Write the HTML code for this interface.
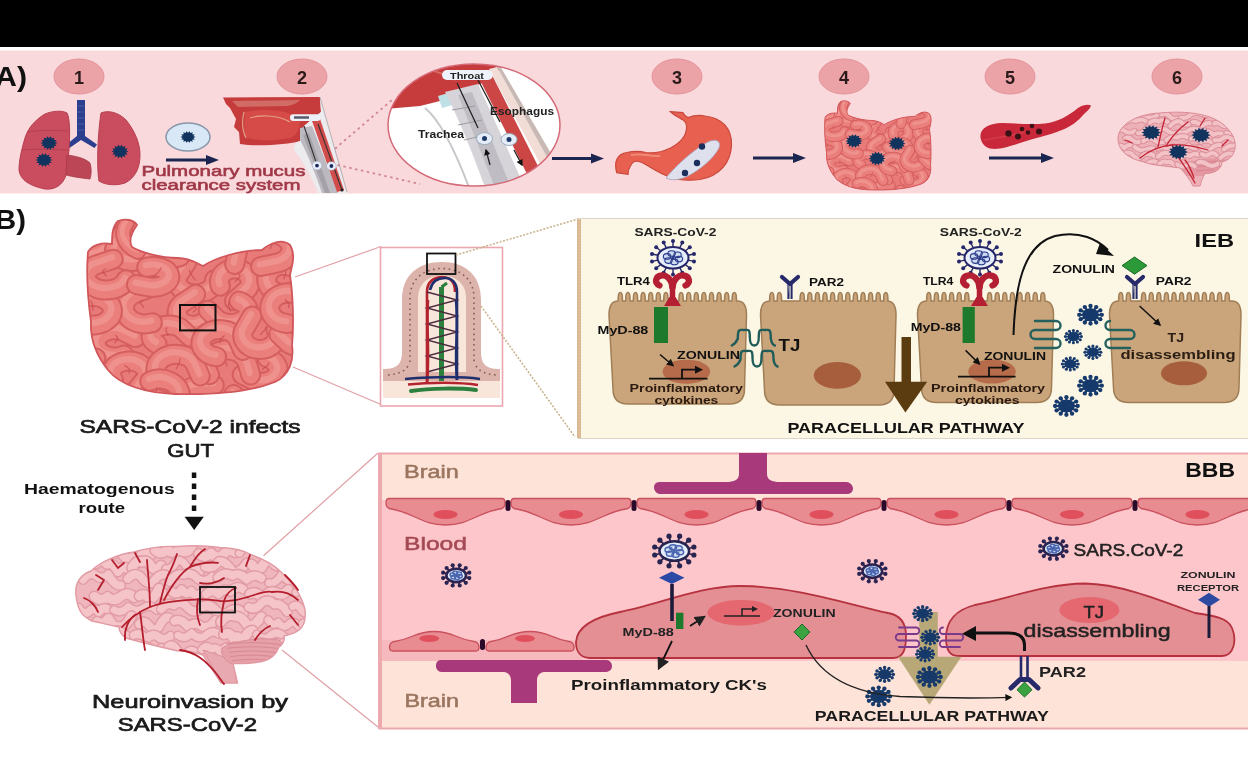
<!DOCTYPE html><html><head><meta charset="utf-8"><title>SARS-CoV-2 gut-brain</title><style>html,body{margin:0;padding:0;background:#fff;width:1248px;height:770px;overflow:hidden;}svg{display:block;font-family:"Liberation Sans",sans-serif;filter:blur(0.4px);}</style></head><body><svg width="1248" height="770" viewBox="0 0 1248 770" font-family="Liberation Sans, sans-serif">
<defs><marker id="ah" viewBox="0 0 10 10" refX="8" refY="5" markerWidth="5" markerHeight="5" orient="auto-start-reverse"><path d="M0,0 L10,5 L0,10 z" fill="#111"/></marker><marker id="ahs" viewBox="0 0 10 10" refX="8" refY="5" markerWidth="7" markerHeight="7" orient="auto-start-reverse"><path d="M0,0 L10,5 L0,10 z" fill="#222"/></marker></defs>
<rect width="1248" height="770" fill="#ffffff"/>
<rect x="0" y="0" width="1248" height="47" fill="#000"/>
<rect x="0" y="50.5" width="1248" height="143" fill="#f9d9dc"/>
<text x="-5" y="86" font-size="28" font-weight="bold" fill="#111" text-anchor="start" textLength="32" lengthAdjust="spacingAndGlyphs" >A)</text>
<ellipse cx="79" cy="76.5" rx="25" ry="17.5" fill="#eca3a8" stroke="#e3959b" stroke-width="1"/>
<text x="79" y="83.5" font-size="18" font-weight="bold" fill="#2a1a1a" text-anchor="middle" >1</text>
<ellipse cx="302" cy="76.5" rx="25" ry="17.5" fill="#eca3a8" stroke="#e3959b" stroke-width="1"/>
<text x="302" y="83.5" font-size="18" font-weight="bold" fill="#2a1a1a" text-anchor="middle" >2</text>
<ellipse cx="677" cy="76.5" rx="25" ry="17.5" fill="#eca3a8" stroke="#e3959b" stroke-width="1"/>
<text x="677" y="83.5" font-size="18" font-weight="bold" fill="#2a1a1a" text-anchor="middle" >3</text>
<ellipse cx="844" cy="76.5" rx="25" ry="17.5" fill="#eca3a8" stroke="#e3959b" stroke-width="1"/>
<text x="844" y="83.5" font-size="18" font-weight="bold" fill="#2a1a1a" text-anchor="middle" >4</text>
<ellipse cx="1010" cy="76.5" rx="25" ry="17.5" fill="#eca3a8" stroke="#e3959b" stroke-width="1"/>
<text x="1010" y="83.5" font-size="18" font-weight="bold" fill="#2a1a1a" text-anchor="middle" >5</text>
<ellipse cx="1177" cy="76.5" rx="25" ry="17.5" fill="#eca3a8" stroke="#e3959b" stroke-width="1"/>
<text x="1177" y="83.5" font-size="18" font-weight="bold" fill="#2a1a1a" text-anchor="middle" >6</text>
<path d="M77,100 L85,100 L85,136 L97,144.5 L94.5,148 L81,140 L69.5,148 L66.5,144.5 L77,136 Z" fill="#2c3f8e"/>
<path d="M67,113 C62,110 52,111 45,114 C35,120 28,128 25,138 C22,148 19,160 19,170 C20,180 30,186 45,189 C55,190 63,185 66,175 L69,150 C70,135 70,118 67,113 Z" fill="#c94d5e" stroke="#b63f50" stroke-width="1"/>
<path d="M67,155 C75,156 85,158 90,163 C92,170 91,176 90,179 C82,178 73,177 66,175 Z" fill="#bd4656" stroke="#a83848" stroke-width="0.8"/>
<path d="M101,113 C108,110 118,112 126,120 C134,130 140,142 140,155 C140,168 135,178 125,183 C116,186 105,185 99,181 C97,170 97,140 101,113 Z" fill="#c94d5e" stroke="#b63f50" stroke-width="1"/>
<path d="M22,150 C35,149 50,149 68,150 M27,132 C40,130 55,130 68,131" stroke="#b4404f" stroke-width="1" fill="none"/>
<path d="M78,106 L84,106 M78,112 L84,112 M78,118 L84,118 M78,124 L84,124 M78,130 L84,130" stroke="#4a5eaa" stroke-width="1"/>
<polygon points="57.5,143.0 55.0,144.1 56.7,146.0 53.8,146.1 54.3,148.5 51.7,147.5 50.9,149.8 49.0,148.0 47.1,149.8 46.3,147.5 43.7,148.5 44.2,146.1 41.3,146.0 43.0,144.1 40.5,143.0 43.0,141.9 41.3,140.0 44.2,139.9 43.7,137.5 46.3,138.5 47.1,136.2 49.0,138.0 50.9,136.2 51.7,138.5 54.3,137.5 53.8,139.9 56.7,140.0 55.0,141.9" fill="#11345f"/>
<polygon points="52.5,160.0 50.0,161.1 51.7,163.0 48.8,163.1 49.3,165.5 46.7,164.5 45.9,166.8 44.0,165.0 42.1,166.8 41.3,164.5 38.7,165.5 39.2,163.1 36.3,163.0 38.0,161.1 35.5,160.0 38.0,158.9 36.3,157.0 39.2,156.9 38.7,154.5 41.3,155.5 42.1,153.2 44.0,155.0 45.9,153.2 46.7,155.5 49.3,154.5 48.8,156.9 51.7,157.0 50.0,158.9" fill="#11345f"/>
<polygon points="128.5,151.5 126.0,152.6 127.7,154.5 124.8,154.6 125.3,157.0 122.7,156.0 121.9,158.3 120.0,156.5 118.1,158.3 117.3,156.0 114.7,157.0 115.2,154.6 112.3,154.5 114.0,152.6 111.5,151.5 114.0,150.4 112.3,148.5 115.2,148.4 114.7,146.0 117.3,147.0 118.1,144.7 120.0,146.5 121.9,144.7 122.7,147.0 125.3,146.0 124.8,148.4 127.7,148.5 126.0,150.4" fill="#11345f"/>
<ellipse cx="188" cy="137" rx="22" ry="14" fill="#d9e8f6" stroke="#8898a8" stroke-width="1.5"/>
<polygon points="195.5,137.0 193.3,138.0 194.8,139.6 192.2,139.7 192.7,141.7 190.3,140.9 189.7,142.8 188.0,141.3 186.3,142.8 185.7,140.9 183.3,141.7 183.8,139.7 181.2,139.6 182.7,138.0 180.5,137.0 182.7,136.0 181.2,134.4 183.8,134.3 183.3,132.3 185.7,133.1 186.3,131.2 188.0,132.7 189.7,131.2 190.3,133.1 192.7,132.3 192.2,134.3 194.8,134.4 193.3,136.0" fill="#11345f"/>
<line x1="166" y1="160" x2="207" y2="160" stroke="#1b2650" stroke-width="3"/>
<polygon points="206,155 219,160 206,165" fill="#1b2650"/>
<path d="M223,97.5 L320,97 L321,112 L304,126 L300,141 C290,144 268,146 248,145 L240,144 L239,132 L234,127 L236,119 L230,108 L226,104 Z" fill="#c63c3c"/>
<path d="M232,101 L300,100 C296,104 290,106 285,106 L238,107 Z" fill="#d88a80" opacity="0.6"/>
<path d="M245,112 C265,108 292,110 300,120 C300,130 296,136 290,138 C270,142 252,141 244,136 Z" fill="#d64a48"/>
<path d="M244,112 C242,120 242,130 246,138 M250,118 C262,114 280,116 290,122" fill="none" stroke="#e0a080" stroke-width="1.2"/>
<path d="M300,141 C292,143 292,150 300,158 C308,170 314,182 318,193 L347,193 L320,97 L321,112 L304,126 Z" fill="#ecebee"/>
<path d="M300,128 L312,126 L338,193 L322,193 C316,175 308,155 300,140 Z" fill="#bcbac0"/>
<path d="M303,135 L309,133 L330,193 L325,193 Z" fill="#a4a2a8"/>
<path d="M311,118 L319,116 L344,190 L337,192 Z" fill="#d24c4c"/>
<line x1="320" y1="97" x2="347" y2="192" stroke="#b8b0b4" stroke-width="1"/>
<line x1="304" y1="126" x2="318" y2="168" stroke="#333" stroke-width="1.1"/>
<line x1="318" y1="124" x2="342" y2="190" stroke="#333" stroke-width="1.1"/>
<circle cx="342" cy="190" r="1.6" fill="#222"/>
<rect x="290" y="114.3" width="30.6" height="6.7" rx="3.3" fill="#eef0f8"/>
<rect x="294" y="116.3" width="15" height="2.4" fill="#556"/>
<ellipse cx="317" cy="165.6" rx="4.8" ry="4.3" fill="#e8f0ff" stroke="#aab" stroke-width="0.6"/><circle cx="317" cy="165.6" r="1.9" fill="#1c2a5a"/>
<ellipse cx="331.4" cy="166" rx="4.8" ry="4.3" fill="#e8f0ff" stroke="#aab" stroke-width="0.6"/><circle cx="331.4" cy="166" r="1.9" fill="#1c2a5a"/>
<path d="M335,148.7 L392,100 M337.5,165 L420,184" stroke="#d08890" stroke-width="1.8" stroke-dasharray="2.5,3.5" fill="none"/>
<text x="141.5" y="176.4" font-size="15.4" font-weight="normal" fill="#a03848" text-anchor="start" textLength="164" lengthAdjust="spacingAndGlyphs"  stroke="#a03848" stroke-width="0.6">Pulmonary mucus</text>
<text x="141.5" y="190.4" font-size="15.4" font-weight="normal" fill="#a03848" text-anchor="start" textLength="159" lengthAdjust="spacingAndGlyphs"  stroke="#a03848" stroke-width="0.6">clearance system</text>
<clipPath id="mc"><ellipse cx="474" cy="125" rx="86" ry="61"/></clipPath>
<ellipse cx="474" cy="125" rx="86" ry="61" fill="#ffffff"/>
<g clip-path="url(#mc)"><path d="M385,60 L505,60 L500,70 L485,82 L465,90 L448,99 L420,106 L385,109 Z" fill="#c63c3c"/><path d="M395,70 C420,66 440,70 455,80" fill="none" stroke="#d86a60" stroke-width="2"/><path d="M438,96 L452,92 L456,104 L442,108 Z" fill="#bfe0e4"/><path d="M425,108 C440,120 455,150 470,190" fill="none" stroke="#c8c8cc" stroke-width="2"/><path d="M445,92 L478,84 L526,190 L486,190 C475,160 462,125 445,92 Z" fill="#d6d4d9"/><path d="M458,95 L472,92 L512,190 L496,190 Z" fill="#bfbdc3"/><path d="M452,110 L475,106 M458,125 L482,120 M464,140 L490,134" stroke="#9c9aa0" stroke-width="1"/><path d="M476,72 L489,69 L540,170 L528,176 Z" fill="#cc4646"/><path d="M489,69 L497,67 L552,166 L544,171 Z" fill="#f1dcd6"/><path d="M497,67 L500,66 L556,162 L552,166 Z" fill="#c9b9b4"/></g>
<ellipse cx="474" cy="125" rx="86" ry="61" fill="none" stroke="#d46a78" stroke-width="1.5"/>
<rect x="442" y="70" width="51" height="10" rx="5" fill="#eef2fb"/>
<text x="467" y="78.5" font-size="9" font-weight="bold" fill="#222" text-anchor="middle" textLength="34" lengthAdjust="spacingAndGlyphs" >Throat</text>
<text x="490" y="115" font-size="10" font-weight="bold" fill="#222" text-anchor="start" textLength="64" lengthAdjust="spacingAndGlyphs" >Esophagus</text>
<text x="418" y="137.7" font-size="10" font-weight="bold" fill="#222" text-anchor="start" textLength="46" lengthAdjust="spacingAndGlyphs" >Trachea</text>
<ellipse cx="484.5" cy="138.6" rx="8" ry="6" fill="#e4ecf8" stroke="#9ab" stroke-width="1"/><circle cx="484.5" cy="138.6" r="2.5" fill="#1c3a6a"/>
<ellipse cx="509" cy="139.5" rx="8" ry="6" fill="#e4ecf8" stroke="#9ab" stroke-width="1"/><circle cx="509" cy="139.5" r="2.5" fill="#1c3a6a"/>
<line x1="457" y1="83" x2="478" y2="128" stroke="#222" stroke-width="1.3"/>
<line x1="478" y1="80" x2="500" y2="122" stroke="#222" stroke-width="1.3"/>
<line x1="490" y1="165" x2="486" y2="150" stroke="#222" stroke-width="1.3" marker-end="url(#ah)"/>
<line x1="514" y1="150" x2="522" y2="165" stroke="#222" stroke-width="1.3" marker-end="url(#ah)"/>
<line x1="552" y1="158.5" x2="592" y2="158.5" stroke="#1b2650" stroke-width="3"/>
<polygon points="591,153.5 604,158.5 591,163.5" fill="#1b2650"/>
<path d="M670.5,111.7 L682.8,112.6 C684,115 686,117 688,117.6 C695,115 700,115 705,116 C722,118 732,128 731.5,145 C731,162 720,176 700,179.5 C688,181 678,180 670,177 C660,174 652,168 643,163 C637,160 633,161 631,165 C629,168 628,172 628,174.3 L616.7,172.6 C615.5,168 615.5,162 617,159 C619,155 622,153 627,152.5 C633,151 640,151 646,152.5 C655,154 662,152 670.5,148 C680,143 686,136 686.5,128.5 C687,124 685,121 682.8,119.7 C678,117 674,115 670.5,111.7 Z" fill="#e8604f" stroke="#c9483c" stroke-width="1.2"/>
<path d="M631,155 C640,153 650,156 660,156" fill="none" stroke="#f08a78" stroke-width="2"/>
<path d="M666,178 C672,170 690,152 706,143 C714,138 722,140 719,148 C714,158 700,170 688,176 C680,180 672,181 666,178 Z" fill="#dee0ee" stroke="#a8a0b8" stroke-width="0.8"/>
<circle cx="702" cy="146.5" r="3.2" fill="#1c2f5c"/>
<circle cx="697" cy="163" r="3.2" fill="#1c2f5c"/>
<circle cx="685" cy="173" r="3.2" fill="#1c2f5c"/>
<line x1="753" y1="158" x2="794" y2="158" stroke="#1b2650" stroke-width="3"/>
<polygon points="793,153 806,158 793,163" fill="#1b2650"/>
<g transform="translate(824,100) scale(0.517,0.511) translate(-86,-218)">
<clipPath id="intc"><path d="M118,221 C125,218 134,220 137,225 C132,232 128,240 132,247 C140,252 160,258 178,258 C190,258 198,264 203,266 C215,258 240,250 262,250 C270,243 282,238 290,245 C296,255 292,265 290,275 C293,295 294,325 292,345 C294,360 290,375 275,382 C250,392 215,395 175,394 C145,393 120,385 108,370 C96,355 90,340 91,322 C88,300 86,275 88,252 C92,245 102,242 112,244 C112,236 112,227 118,221 Z"/></clipPath>
<path d="M118,221 C125,218 134,220 137,225 C132,232 128,240 132,247 C140,252 160,258 178,258 C190,258 198,264 203,266 C215,258 240,250 262,250 C270,243 282,238 290,245 C296,255 292,265 290,275 C293,295 294,325 292,345 C294,360 290,375 275,382 C250,392 215,395 175,394 C145,393 120,385 108,370 C96,355 90,340 91,322 C88,300 86,275 88,252 C92,245 102,242 112,244 C112,236 112,227 118,221 Z" fill="#e87b79"/>
<g clip-path="url(#intc)">
<path d="M214.5,279.8 A18.8,13.6 0 1,1 179.8,273.1 L187.4,261.4" fill="none" stroke="#d55f5f" stroke-width="21" stroke-linecap="round"/>
<path d="M214.5,279.8 A18.8,13.6 0 1,1 179.8,273.1 L187.4,261.4" fill="none" stroke="#ea7f7c" stroke-width="17" stroke-linecap="round"/>
<path d="M214.5,279.8 A18.8,13.6 0 1,1 179.8,273.1 L187.4,261.4" fill="none" stroke="#f2a09b" stroke-width="6.3" stroke-linecap="round" opacity="0.55" transform="translate(-1,-2)"/>
<path d="M195.7,280.5 l-5.0,-6.6 m0,0 l-1.6,-4.2" stroke="#c84a50" stroke-width="1.1" fill="none" opacity="0.8"/>
<path d="M267.3,384.1 A20.2,12.3 0 1,1 244.0,403.9 L233.7,394.5" fill="none" stroke="#d55f5f" stroke-width="21" stroke-linecap="round"/>
<path d="M267.3,384.1 A20.2,12.3 0 1,1 244.0,403.9 L233.7,394.5" fill="none" stroke="#ea7f7c" stroke-width="17" stroke-linecap="round"/>
<path d="M267.3,384.1 A20.2,12.3 0 1,1 244.0,403.9 L233.7,394.5" fill="none" stroke="#f2a09b" stroke-width="6.3" stroke-linecap="round" opacity="0.55" transform="translate(-1,-2)"/>
<path d="M257.7,394.9 l5.4,-4.9 m0,0 l-3.5,-3.4" stroke="#c84a50" stroke-width="1.1" fill="none" opacity="0.8"/>
<path d="M125.2,396.8 A15.0,12.7 0 1,1 100.6,385.1 L111.2,375.9" fill="none" stroke="#d55f5f" stroke-width="21" stroke-linecap="round"/>
<path d="M125.2,396.8 A15.0,12.7 0 1,1 100.6,385.1 L111.2,375.9" fill="none" stroke="#ea7f7c" stroke-width="17" stroke-linecap="round"/>
<path d="M125.2,396.8 A15.0,12.7 0 1,1 100.6,385.1 L111.2,375.9" fill="none" stroke="#f2a09b" stroke-width="6.3" stroke-linecap="round" opacity="0.55" transform="translate(-1,-2)"/>
<path d="M110.3,394.7 l4.4,-4.2 m0,0 l-2.4,-3.9" stroke="#c84a50" stroke-width="1.1" fill="none" opacity="0.8"/>
<path d="M123.9,355.1 A18.5,13.5 0 1,1 122.9,331.3 L135.5,337.5" fill="none" stroke="#d55f5f" stroke-width="21" stroke-linecap="round"/>
<path d="M123.9,355.1 A18.5,13.5 0 1,1 122.9,331.3 L135.5,337.5" fill="none" stroke="#ea7f7c" stroke-width="17" stroke-linecap="round"/>
<path d="M123.9,355.1 A18.5,13.5 0 1,1 122.9,331.3 L135.5,337.5" fill="none" stroke="#f2a09b" stroke-width="6.3" stroke-linecap="round" opacity="0.55" transform="translate(-1,-2)"/>
<path d="M114.7,343.4 l3.3,-5.7 m0,0 l-2.8,-2.6" stroke="#c84a50" stroke-width="1.1" fill="none" opacity="0.8"/>
<path d="M208.4,311.3 A15.7,12.6 0 1,1 184.1,302.1 L195.7,294.3" fill="none" stroke="#d55f5f" stroke-width="21" stroke-linecap="round"/>
<path d="M208.4,311.3 A15.7,12.6 0 1,1 184.1,302.1 L195.7,294.3" fill="none" stroke="#ea7f7c" stroke-width="17" stroke-linecap="round"/>
<path d="M208.4,311.3 A15.7,12.6 0 1,1 184.1,302.1 L195.7,294.3" fill="none" stroke="#f2a09b" stroke-width="6.3" stroke-linecap="round" opacity="0.55" transform="translate(-1,-2)"/>
<path d="M192.8,312.6 l3.8,-4.0 m0,0 l-2.7,-3.4" stroke="#c84a50" stroke-width="1.1" fill="none" opacity="0.8"/>
<path d="M157.1,344.1 A17.8,10.8 0 1,1 180.3,327.7 L190.5,337.3" fill="none" stroke="#d55f5f" stroke-width="21" stroke-linecap="round"/>
<path d="M157.1,344.1 A17.8,10.8 0 1,1 180.3,327.7 L190.5,337.3" fill="none" stroke="#ea7f7c" stroke-width="17" stroke-linecap="round"/>
<path d="M157.1,344.1 A17.8,10.8 0 1,1 180.3,327.7 L190.5,337.3" fill="none" stroke="#f2a09b" stroke-width="6.3" stroke-linecap="round" opacity="0.55" transform="translate(-1,-2)"/>
<path d="M168.1,335.6 l-2.6,-6.0 m0,0 l1.9,-2.1" stroke="#c84a50" stroke-width="1.1" fill="none" opacity="0.8"/>
<path d="M220.3,286.1 A15.4,13.0 0 1,1 244.9,291.6 L234.4,300.8" fill="none" stroke="#d55f5f" stroke-width="21" stroke-linecap="round"/>
<path d="M220.3,286.1 A15.4,13.0 0 1,1 244.9,291.6 L234.4,300.8" fill="none" stroke="#ea7f7c" stroke-width="17" stroke-linecap="round"/>
<path d="M220.3,286.1 A15.4,13.0 0 1,1 244.9,291.6 L234.4,300.8" fill="none" stroke="#f2a09b" stroke-width="6.3" stroke-linecap="round" opacity="0.55" transform="translate(-1,-2)"/>
<path d="M234.8,281.8 l5.5,-5.5 m0,0 l-2.8,-4.3" stroke="#c84a50" stroke-width="1.1" fill="none" opacity="0.8"/>
<path d="M207.2,413.6 A19.1,14.4 0 1,1 200.3,385.6 L214.3,385.1" fill="none" stroke="#d55f5f" stroke-width="21" stroke-linecap="round"/>
<path d="M207.2,413.6 A19.1,14.4 0 1,1 200.3,385.6 L214.3,385.1" fill="none" stroke="#ea7f7c" stroke-width="17" stroke-linecap="round"/>
<path d="M207.2,413.6 A19.1,14.4 0 1,1 200.3,385.6 L214.3,385.1" fill="none" stroke="#f2a09b" stroke-width="6.3" stroke-linecap="round" opacity="0.55" transform="translate(-1,-2)"/>
<path d="M200.9,400.0 l4.8,-3.6 m0,0 l-0.2,-3.0" stroke="#c84a50" stroke-width="1.1" fill="none" opacity="0.8"/>
<path d="M267.1,357.9 A16.4,12.5 0 1,1 254.7,381.0 L242.2,374.7" fill="none" stroke="#d55f5f" stroke-width="21" stroke-linecap="round"/>
<path d="M267.1,357.9 A16.4,12.5 0 1,1 254.7,381.0 L242.2,374.7" fill="none" stroke="#ea7f7c" stroke-width="17" stroke-linecap="round"/>
<path d="M267.1,357.9 A16.4,12.5 0 1,1 254.7,381.0 L242.2,374.7" fill="none" stroke="#f2a09b" stroke-width="6.3" stroke-linecap="round" opacity="0.55" transform="translate(-1,-2)"/>
<path d="M262.1,369.8 l4.9,-3.9 m0,0 l2.5,-3.6" stroke="#c84a50" stroke-width="1.1" fill="none" opacity="0.8"/>
<path d="M180.1,256.7 A17.6,12.0 0 1,1 181.8,235.7 L193.6,243.1" fill="none" stroke="#d55f5f" stroke-width="21" stroke-linecap="round"/>
<path d="M180.1,256.7 A17.6,12.0 0 1,1 181.8,235.7 L193.6,243.1" fill="none" stroke="#ea7f7c" stroke-width="17" stroke-linecap="round"/>
<path d="M180.1,256.7 A17.6,12.0 0 1,1 181.8,235.7 L193.6,243.1" fill="none" stroke="#f2a09b" stroke-width="6.3" stroke-linecap="round" opacity="0.55" transform="translate(-1,-2)"/>
<path d="M172.5,245.9 l3.6,-3.1 m0,0 l-1.0,-3.8" stroke="#c84a50" stroke-width="1.1" fill="none" opacity="0.8"/>
<path d="M315.6,388.3 A15.6,10.0 0 1,1 287.9,386.0 L295.7,374.4" fill="none" stroke="#d55f5f" stroke-width="21" stroke-linecap="round"/>
<path d="M315.6,388.3 A15.6,10.0 0 1,1 287.9,386.0 L295.7,374.4" fill="none" stroke="#ea7f7c" stroke-width="17" stroke-linecap="round"/>
<path d="M315.6,388.3 A15.6,10.0 0 1,1 287.9,386.0 L295.7,374.4" fill="none" stroke="#f2a09b" stroke-width="6.3" stroke-linecap="round" opacity="0.55" transform="translate(-1,-2)"/>
<path d="M300.9,391.6 l-4.5,-6.4 m0,0 l4.0,-2.6" stroke="#c84a50" stroke-width="1.1" fill="none" opacity="0.8"/>
<path d="M293.9,290.9 A16.9,14.3 0 1,1 290.2,266.4 L303.1,271.8" fill="none" stroke="#d55f5f" stroke-width="21" stroke-linecap="round"/>
<path d="M293.9,290.9 A16.9,14.3 0 1,1 290.2,266.4 L303.1,271.8" fill="none" stroke="#ea7f7c" stroke-width="17" stroke-linecap="round"/>
<path d="M293.9,290.9 A16.9,14.3 0 1,1 290.2,266.4 L303.1,271.8" fill="none" stroke="#f2a09b" stroke-width="6.3" stroke-linecap="round" opacity="0.55" transform="translate(-1,-2)"/>
<path d="M283.7,279.5 l1.9,-5.6 m0,0 l0.5,-4.6" stroke="#c84a50" stroke-width="1.1" fill="none" opacity="0.8"/>
<path d="M102.9,374.8 A16.5,12.6 0 1,1 82.3,361.6 L95.8,358.0" fill="none" stroke="#d55f5f" stroke-width="21" stroke-linecap="round"/>
<path d="M102.9,374.8 A16.5,12.6 0 1,1 82.3,361.6 L95.8,358.0" fill="none" stroke="#ea7f7c" stroke-width="17" stroke-linecap="round"/>
<path d="M102.9,374.8 A16.5,12.6 0 1,1 82.3,361.6 L95.8,358.0" fill="none" stroke="#f2a09b" stroke-width="6.3" stroke-linecap="round" opacity="0.55" transform="translate(-1,-2)"/>
<path d="M86.5,373.7 l0.3,-3.3 m0,0 l-0.7,-2.4" stroke="#c84a50" stroke-width="1.1" fill="none" opacity="0.8"/>
<path d="M239.0,301.1 A17.9,11.9 0 1,1 218.1,320.1 L208.2,310.2" fill="none" stroke="#d55f5f" stroke-width="21" stroke-linecap="round"/>
<path d="M239.0,301.1 A17.9,11.9 0 1,1 218.1,320.1 L208.2,310.2" fill="none" stroke="#ea7f7c" stroke-width="17" stroke-linecap="round"/>
<path d="M239.0,301.1 A17.9,11.9 0 1,1 218.1,320.1 L208.2,310.2" fill="none" stroke="#f2a09b" stroke-width="6.3" stroke-linecap="round" opacity="0.55" transform="translate(-1,-2)"/>
<path d="M230.8,311.7 l-2.5,-6.0 m0,0 l0.9,-4.2" stroke="#c84a50" stroke-width="1.1" fill="none" opacity="0.8"/>
<path d="M209.5,374.7 A20.3,16.8 0 1,1 246.7,361.6 L250.7,375.0" fill="none" stroke="#d55f5f" stroke-width="21" stroke-linecap="round"/>
<path d="M209.5,374.7 A20.3,16.8 0 1,1 246.7,361.6 L250.7,375.0" fill="none" stroke="#ea7f7c" stroke-width="17" stroke-linecap="round"/>
<path d="M209.5,374.7 A20.3,16.8 0 1,1 246.7,361.6 L250.7,375.0" fill="none" stroke="#f2a09b" stroke-width="6.3" stroke-linecap="round" opacity="0.55" transform="translate(-1,-2)"/>
<path d="M227.2,366.5 l-1.8,-5.2 m0,0 l0.8,-2.3" stroke="#c84a50" stroke-width="1.1" fill="none" opacity="0.8"/>
<path d="M113.5,380.0 A17.7,12.8 0 1,1 143.0,381.7 L134.4,392.8" fill="none" stroke="#d55f5f" stroke-width="21" stroke-linecap="round"/>
<path d="M113.5,380.0 A17.7,12.8 0 1,1 143.0,381.7 L134.4,392.8" fill="none" stroke="#ea7f7c" stroke-width="17" stroke-linecap="round"/>
<path d="M113.5,380.0 A17.7,12.8 0 1,1 143.0,381.7 L134.4,392.8" fill="none" stroke="#f2a09b" stroke-width="6.3" stroke-linecap="round" opacity="0.55" transform="translate(-1,-2)"/>
<path d="M129.0,373.8 l0.4,-4.9 m0,0 l-4.8,-3.7" stroke="#c84a50" stroke-width="1.1" fill="none" opacity="0.8"/>
<path d="M152.4,322.7 A20.3,16.2 0 1,1 137.0,292.7 L150.1,287.8" fill="none" stroke="#d55f5f" stroke-width="21" stroke-linecap="round"/>
<path d="M152.4,322.7 A20.3,16.2 0 1,1 137.0,292.7 L150.1,287.8" fill="none" stroke="#ea7f7c" stroke-width="17" stroke-linecap="round"/>
<path d="M152.4,322.7 A20.3,16.2 0 1,1 137.0,292.7 L150.1,287.8" fill="none" stroke="#f2a09b" stroke-width="6.3" stroke-linecap="round" opacity="0.55" transform="translate(-1,-2)"/>
<path d="M144.1,307.9 l-3.9,-5.1 m0,0 l2.3,-3.3" stroke="#c84a50" stroke-width="1.1" fill="none" opacity="0.8"/>
<path d="M166.9,382.4 A20.2,14.9 0 1,1 194.6,363.2 L200.3,376.0" fill="none" stroke="#d55f5f" stroke-width="21" stroke-linecap="round"/>
<path d="M166.9,382.4 A20.2,14.9 0 1,1 194.6,363.2 L200.3,376.0" fill="none" stroke="#ea7f7c" stroke-width="17" stroke-linecap="round"/>
<path d="M166.9,382.4 A20.2,14.9 0 1,1 194.6,363.2 L200.3,376.0" fill="none" stroke="#f2a09b" stroke-width="6.3" stroke-linecap="round" opacity="0.55" transform="translate(-1,-2)"/>
<path d="M176.1,369.2 l3.4,-6.6 m0,0 l0.6,-4.3" stroke="#c84a50" stroke-width="1.1" fill="none" opacity="0.8"/>
<path d="M216.7,356.8 A18.9,13.7 0 1,1 237.1,337.7 L242.8,350.4" fill="none" stroke="#d55f5f" stroke-width="21" stroke-linecap="round"/>
<path d="M216.7,356.8 A18.9,13.7 0 1,1 237.1,337.7 L242.8,350.4" fill="none" stroke="#ea7f7c" stroke-width="17" stroke-linecap="round"/>
<path d="M216.7,356.8 A18.9,13.7 0 1,1 237.1,337.7 L242.8,350.4" fill="none" stroke="#f2a09b" stroke-width="6.3" stroke-linecap="round" opacity="0.55" transform="translate(-1,-2)"/>
<path d="M219.8,343.2 l0.7,-4.0 m0,0 l4.1,-3.7" stroke="#c84a50" stroke-width="1.1" fill="none" opacity="0.8"/>
<path d="M254.4,239.2 A20.7,15.1 0 1,1 274.3,263.7 L260.6,266.5" fill="none" stroke="#d55f5f" stroke-width="21" stroke-linecap="round"/>
<path d="M254.4,239.2 A20.7,15.1 0 1,1 274.3,263.7 L260.6,266.5" fill="none" stroke="#ea7f7c" stroke-width="17" stroke-linecap="round"/>
<path d="M254.4,239.2 A20.7,15.1 0 1,1 274.3,263.7 L260.6,266.5" fill="none" stroke="#f2a09b" stroke-width="6.3" stroke-linecap="round" opacity="0.55" transform="translate(-1,-2)"/>
<path d="M270.2,249.0 l2.3,-5.2 m0,0 l0.3,-3.6" stroke="#c84a50" stroke-width="1.1" fill="none" opacity="0.8"/>
<path d="M276.1,330.1 A17.3,14.2 0 1,1 245.0,328.1 L252.1,316.0" fill="none" stroke="#d55f5f" stroke-width="21" stroke-linecap="round"/>
<path d="M276.1,330.1 A17.3,14.2 0 1,1 245.0,328.1 L252.1,316.0" fill="none" stroke="#ea7f7c" stroke-width="17" stroke-linecap="round"/>
<path d="M276.1,330.1 A17.3,14.2 0 1,1 245.0,328.1 L252.1,316.0" fill="none" stroke="#f2a09b" stroke-width="6.3" stroke-linecap="round" opacity="0.55" transform="translate(-1,-2)"/>
<path d="M260.0,335.2 l5.3,-6.0 m0,0 l0.6,-2.2" stroke="#c84a50" stroke-width="1.1" fill="none" opacity="0.8"/>
<path d="M99.9,237.2 A15.9,10.0 0 1,1 80.1,252.8 L70.2,242.9" fill="none" stroke="#d55f5f" stroke-width="21" stroke-linecap="round"/>
<path d="M99.9,237.2 A15.9,10.0 0 1,1 80.1,252.8 L70.2,242.9" fill="none" stroke="#ea7f7c" stroke-width="17" stroke-linecap="round"/>
<path d="M99.9,237.2 A15.9,10.0 0 1,1 80.1,252.8 L70.2,242.9" fill="none" stroke="#f2a09b" stroke-width="6.3" stroke-linecap="round" opacity="0.55" transform="translate(-1,-2)"/>
<path d="M91.4,245.7 l-0.7,-6.7 m0,0 l-2.6,-4.8" stroke="#c84a50" stroke-width="1.1" fill="none" opacity="0.8"/>
<path d="M149.8,381.2 A20.7,17.1 0 1,1 150.1,411.2 L137.7,404.6" fill="none" stroke="#d55f5f" stroke-width="21" stroke-linecap="round"/>
<path d="M149.8,381.2 A20.7,17.1 0 1,1 150.1,411.2 L137.7,404.6" fill="none" stroke="#ea7f7c" stroke-width="17" stroke-linecap="round"/>
<path d="M149.8,381.2 A20.7,17.1 0 1,1 150.1,411.2 L137.7,404.6" fill="none" stroke="#f2a09b" stroke-width="6.3" stroke-linecap="round" opacity="0.55" transform="translate(-1,-2)"/>
<path d="M159.9,396.2 l-4.1,-4.1 m0,0 l1.6,-4.6" stroke="#c84a50" stroke-width="1.1" fill="none" opacity="0.8"/>
<path d="M144.6,242.5 A17.2,11.3 0 1,1 116.6,244.9 L123.1,232.4" fill="none" stroke="#d55f5f" stroke-width="21" stroke-linecap="round"/>
<path d="M144.6,242.5 A17.2,11.3 0 1,1 116.6,244.9 L123.1,232.4" fill="none" stroke="#ea7f7c" stroke-width="17" stroke-linecap="round"/>
<path d="M144.6,242.5 A17.2,11.3 0 1,1 116.6,244.9 L123.1,232.4" fill="none" stroke="#f2a09b" stroke-width="6.3" stroke-linecap="round" opacity="0.55" transform="translate(-1,-2)"/>
<path d="M131.9,250.1 l5.4,-5.4 m0,0 l-0.1,-2.0" stroke="#c84a50" stroke-width="1.1" fill="none" opacity="0.8"/>
<path d="M307.9,325.7 A16.0,11.3 0 1,1 288.9,343.7 L278.8,334.0" fill="none" stroke="#d55f5f" stroke-width="21" stroke-linecap="round"/>
<path d="M307.9,325.7 A16.0,11.3 0 1,1 288.9,343.7 L278.8,334.0" fill="none" stroke="#ea7f7c" stroke-width="17" stroke-linecap="round"/>
<path d="M307.9,325.7 A16.0,11.3 0 1,1 288.9,343.7 L278.8,334.0" fill="none" stroke="#f2a09b" stroke-width="6.3" stroke-linecap="round" opacity="0.55" transform="translate(-1,-2)"/>
<path d="M300.0,335.6 l0.2,-5.6 m0,0 l-3.0,-4.0" stroke="#c84a50" stroke-width="1.1" fill="none" opacity="0.8"/>
<path d="M89.6,296.8 A19.2,14.2 0 1,1 94.8,324.9 L80.9,326.2" fill="none" stroke="#d55f5f" stroke-width="21" stroke-linecap="round"/>
<path d="M89.6,296.8 A19.2,14.2 0 1,1 94.8,324.9 L80.9,326.2" fill="none" stroke="#ea7f7c" stroke-width="17" stroke-linecap="round"/>
<path d="M89.6,296.8 A19.2,14.2 0 1,1 94.8,324.9 L80.9,326.2" fill="none" stroke="#f2a09b" stroke-width="6.3" stroke-linecap="round" opacity="0.55" transform="translate(-1,-2)"/>
<path d="M93.0,310.7 l-0.7,-6.9 m0,0 l-1.7,-3.1" stroke="#c84a50" stroke-width="1.1" fill="none" opacity="0.8"/>
<path d="M198.2,246.0 A20.0,16.9 0 1,1 237.6,250.8 L234.7,264.5" fill="none" stroke="#d55f5f" stroke-width="21" stroke-linecap="round"/>
<path d="M198.2,246.0 A20.0,16.9 0 1,1 237.6,250.8 L234.7,264.5" fill="none" stroke="#ea7f7c" stroke-width="17" stroke-linecap="round"/>
<path d="M198.2,246.0 A20.0,16.9 0 1,1 237.6,250.8 L234.7,264.5" fill="none" stroke="#f2a09b" stroke-width="6.3" stroke-linecap="round" opacity="0.55" transform="translate(-1,-2)"/>
<path d="M218.1,247.2 l3.5,-3.1 m0,0 l-4.0,-4.2" stroke="#c84a50" stroke-width="1.1" fill="none" opacity="0.8"/>
<path d="M126.0,279.8 A20.2,13.5 0 1,1 99.9,263.7 L113.2,259.2" fill="none" stroke="#d55f5f" stroke-width="21" stroke-linecap="round"/>
<path d="M126.0,279.8 A20.2,13.5 0 1,1 99.9,263.7 L113.2,259.2" fill="none" stroke="#ea7f7c" stroke-width="17" stroke-linecap="round"/>
<path d="M126.0,279.8 A20.2,13.5 0 1,1 99.9,263.7 L113.2,259.2" fill="none" stroke="#f2a09b" stroke-width="6.3" stroke-linecap="round" opacity="0.55" transform="translate(-1,-2)"/>
<path d="M106.5,276.4 l-4.4,-5.3 m0,0 l4.1,-2.5" stroke="#c84a50" stroke-width="1.1" fill="none" opacity="0.8"/>
<path d="M287.4,323.4 A18.4,15.3 0 1,1 293.6,293.5 L307.1,297.5" fill="none" stroke="#d55f5f" stroke-width="21" stroke-linecap="round"/>
<path d="M287.4,323.4 A18.4,15.3 0 1,1 293.6,293.5 L307.1,297.5" fill="none" stroke="#ea7f7c" stroke-width="17" stroke-linecap="round"/>
<path d="M287.4,323.4 A18.4,15.3 0 1,1 293.6,293.5 L307.1,297.5" fill="none" stroke="#f2a09b" stroke-width="6.3" stroke-linecap="round" opacity="0.55" transform="translate(-1,-2)"/>
<path d="M288.4,308.1 l0.8,-4.2 m0,0 l-4.1,-4.8" stroke="#c84a50" stroke-width="1.1" fill="none" opacity="0.8"/>
<path d="M146.7,267.2 A16.9,10.4 0 1,1 150.1,287.1 L136.4,284.6" fill="none" stroke="#d55f5f" stroke-width="21" stroke-linecap="round"/>
<path d="M146.7,267.2 A16.9,10.4 0 1,1 150.1,287.1 L136.4,284.6" fill="none" stroke="#ea7f7c" stroke-width="17" stroke-linecap="round"/>
<path d="M146.7,267.2 A16.9,10.4 0 1,1 150.1,287.1 L136.4,284.6" fill="none" stroke="#f2a09b" stroke-width="6.3" stroke-linecap="round" opacity="0.55" transform="translate(-1,-2)"/>
<path d="M153.1,276.8 l5.3,-4.5 m0,0 l3.0,-4.7" stroke="#c84a50" stroke-width="1.1" fill="none" opacity="0.8"/>
<path d="M127,223 C120,232 122,245 138,252" fill="none" stroke="#d55f5f" stroke-width="16" stroke-linecap="round"/>
<path d="M127,223 C120,232 122,245 138,252" fill="none" stroke="#ea7f7c" stroke-width="12" stroke-linecap="round"/>
<path d="M127,223 C120,232 122,245 138,252" fill="none" stroke="#f2a09b" stroke-width="4.8" stroke-linecap="round" opacity="0.55" transform="translate(-1,-2)"/>
</g>
<path d="M118,221 C125,218 134,220 137,225 C132,232 128,240 132,247 C140,252 160,258 178,258 C190,258 198,264 203,266 C215,258 240,250 262,250 C270,243 282,238 290,245 C296,255 292,265 290,275 C293,295 294,325 292,345 C294,360 290,375 275,382 C250,392 215,395 175,394 C145,393 120,385 108,370 C96,355 90,340 91,322 C88,300 86,275 88,252 C92,245 102,242 112,244 C112,236 112,227 118,221 Z" fill="none" stroke="#d1565a" stroke-width="1.8"/>
</g>
<polygon points="862.5,141.0 860.0,142.1 861.7,144.0 858.8,144.1 859.3,146.5 856.7,145.5 855.9,147.8 854.0,146.0 852.1,147.8 851.3,145.5 848.7,146.5 849.2,144.1 846.3,144.0 848.0,142.1 845.5,141.0 848.0,139.9 846.3,138.0 849.2,137.9 848.7,135.5 851.3,136.5 852.1,134.2 854.0,136.0 855.9,134.2 856.7,136.5 859.3,135.5 858.8,137.9 861.7,138.0 860.0,139.9" fill="#11345f"/>
<polygon points="905.5,143.5 903.0,144.6 904.7,146.5 901.8,146.6 902.3,149.0 899.7,148.0 898.9,150.3 897.0,148.5 895.1,150.3 894.3,148.0 891.7,149.0 892.2,146.6 889.3,146.5 891.0,144.6 888.5,143.5 891.0,142.4 889.3,140.5 892.2,140.4 891.7,138.0 894.3,139.0 895.1,136.7 897.0,138.5 898.9,136.7 899.7,139.0 902.3,138.0 901.8,140.4 904.7,140.5 903.0,142.4" fill="#11345f"/>
<polygon points="885.5,158.5 883.0,159.6 884.7,161.5 881.8,161.6 882.3,164.0 879.7,163.0 878.9,165.3 877.0,163.5 875.1,165.3 874.3,163.0 871.7,164.0 872.2,161.6 869.3,161.5 871.0,159.6 868.5,158.5 871.0,157.4 869.3,155.5 872.2,155.4 871.7,153.0 874.3,154.0 875.1,151.7 877.0,153.5 878.9,151.7 879.7,154.0 882.3,153.0 881.8,155.4 884.7,155.5 883.0,157.4" fill="#11345f"/>
<path d="M980.4,136.7 C980,128 990,123 1002,123 C1015,123 1030,125 1045,123.5 C1058,122 1068,116 1078,108 C1083,105 1088,104 1091,105.5 C1090,109 1087,111 1084,114 C1078,121 1072,126 1062,130 C1050,135 1035,138 1020,143 C1008,147 998,150 990,148.5 C984,147 981,142 980.4,136.7 Z" fill="#c9283a"/>
<path d="M984,140 C995,138 1010,136 1025,132" fill="none" stroke="#d8424e" stroke-width="2" opacity="0.6"/>
<circle cx="1008.5" cy="133.5" r="3.2" fill="#3a1216"/>
<circle cx="1018" cy="136.5" r="3.0" fill="#3a1216"/>
<circle cx="1022" cy="129" r="2.3" fill="#3a1216"/>
<circle cx="1028" cy="132.5" r="2.3" fill="#3a1216"/>
<circle cx="1032" cy="126" r="2.3" fill="#3a1216"/>
<circle cx="1039" cy="131.5" r="3.0" fill="#3a1216"/>
<line x1="989" y1="158" x2="1042" y2="158" stroke="#1b2650" stroke-width="3"/>
<polygon points="1041,153 1054,158 1041,163" fill="#1b2650"/>
<clipPath id="brac"><path d="M1118,140 C1117,126 1135,114 1160,113 C1180,111 1205,112 1220,122 C1232,130 1238,142 1234,152 C1232,158 1226,161 1222,162 C1222,168 1215,174 1205,173.5 C1202,178 1201,183 1200,186 L1193,186 C1190,180 1186,174 1180,168 C1165,166 1150,165 1144,162 C1130,159 1119,152 1118,140 Z"/></clipPath>
<path d="M1118,140 C1117,126 1135,114 1160,113 C1180,111 1205,112 1220,122 C1232,130 1238,142 1234,152 C1232,158 1226,161 1222,162 C1222,168 1215,174 1205,173.5 C1202,178 1201,183 1200,186 L1193,186 C1190,180 1186,174 1180,168 C1165,166 1150,165 1144,162 C1130,159 1119,152 1118,140 Z" fill="#eeb0b7"/>
<g clip-path="url(#brac)">
<path d="M1180,166 C1190,160 1205,158 1224,158 L1224,176 L1180,176 Z" fill="#e598a2"/>
<path d="M1190,163 C1200,162 1210,162 1220,161 M1192,167 C1202,166 1212,166 1218,166 M1196,171 C1204,170 1210,170 1214,170" fill="none" stroke="#d4808c" stroke-width="0.9"/>
<path d="M1117.9,114.6 Q1122.1,119.4 1126.3,118.2 Q1130.6,112.6 1134.8,113.0" fill="none" stroke="#dc919b" stroke-width="6" stroke-linecap="round"/>
<path d="M1117.9,114.6 Q1122.1,119.4 1126.3,118.2 Q1130.6,112.6 1134.8,113.0" fill="none" stroke="#f2c2c7" stroke-width="4" stroke-linecap="round"/>
<path d="M1137.5,116.8 Q1142.9,120.1 1148.3,117.4 Q1153.6,118.7 1159.0,114.0" fill="none" stroke="#dc919b" stroke-width="6" stroke-linecap="round"/>
<path d="M1137.5,116.8 Q1142.9,120.1 1148.3,117.4 Q1153.6,118.7 1159.0,114.0" fill="none" stroke="#f2c2c7" stroke-width="4" stroke-linecap="round"/>
<path d="M1161.3,114.4 Q1165.3,112.2 1169.3,116.0 Q1173.2,120.3 1177.2,118.5" fill="none" stroke="#dc919b" stroke-width="6" stroke-linecap="round"/>
<path d="M1161.3,114.4 Q1165.3,112.2 1169.3,116.0 Q1173.2,120.3 1177.2,118.5" fill="none" stroke="#f2c2c7" stroke-width="4" stroke-linecap="round"/>
<path d="M1180.8,117.7 Q1186.1,119.0 1191.3,114.2 Q1196.6,111.3 1201.9,114.3" fill="none" stroke="#dc919b" stroke-width="6" stroke-linecap="round"/>
<path d="M1180.8,117.7 Q1186.1,119.0 1191.3,114.2 Q1196.6,111.3 1201.9,114.3" fill="none" stroke="#f2c2c7" stroke-width="4" stroke-linecap="round"/>
<path d="M1205.4,115.6 Q1210.8,112.3 1216.1,115.0 Q1221.4,117.2 1226.7,113.3" fill="none" stroke="#dc919b" stroke-width="6" stroke-linecap="round"/>
<path d="M1205.4,115.6 Q1210.8,112.3 1216.1,115.0 Q1221.4,117.2 1226.7,113.3" fill="none" stroke="#f2c2c7" stroke-width="4" stroke-linecap="round"/>
<path d="M1228.8,116.0 Q1233.1,111.6 1237.4,113.1 Q1241.6,111.3 1245.9,115.5" fill="none" stroke="#dc919b" stroke-width="6" stroke-linecap="round"/>
<path d="M1228.8,116.0 Q1233.1,111.6 1237.4,113.1 Q1241.6,111.3 1245.9,115.5" fill="none" stroke="#f2c2c7" stroke-width="4" stroke-linecap="round"/>
<path d="M1125.3,122.8 Q1130.6,118.9 1135.9,121.0 Q1141.2,118.3 1146.5,121.5" fill="none" stroke="#dc919b" stroke-width="6" stroke-linecap="round"/>
<path d="M1125.3,122.8 Q1130.6,118.9 1135.9,121.0 Q1141.2,118.3 1146.5,121.5" fill="none" stroke="#f2c2c7" stroke-width="4" stroke-linecap="round"/>
<path d="M1149.6,122.8 Q1154.2,119.1 1158.8,121.4 Q1163.3,118.8 1167.9,122.2" fill="none" stroke="#dc919b" stroke-width="6" stroke-linecap="round"/>
<path d="M1149.6,122.8 Q1154.2,119.1 1158.8,121.4 Q1163.3,118.8 1167.9,122.2" fill="none" stroke="#f2c2c7" stroke-width="4" stroke-linecap="round"/>
<path d="M1170.3,125.8 Q1175.0,120.6 1179.7,121.3 Q1184.4,125.8 1189.1,124.3" fill="none" stroke="#dc919b" stroke-width="6" stroke-linecap="round"/>
<path d="M1170.3,125.8 Q1175.0,120.6 1179.7,121.3 Q1184.4,125.8 1189.1,124.3" fill="none" stroke="#f2c2c7" stroke-width="4" stroke-linecap="round"/>
<path d="M1192.6,122.1 Q1197.3,121.2 1201.9,126.2 Q1206.6,121.8 1211.2,123.4" fill="none" stroke="#dc919b" stroke-width="6" stroke-linecap="round"/>
<path d="M1192.6,122.1 Q1197.3,121.2 1201.9,126.2 Q1206.6,121.8 1211.2,123.4" fill="none" stroke="#f2c2c7" stroke-width="4" stroke-linecap="round"/>
<path d="M1214.4,123.5 Q1218.0,121.3 1221.6,125.0 Q1225.2,127.8 1228.8,124.5" fill="none" stroke="#dc919b" stroke-width="6" stroke-linecap="round"/>
<path d="M1214.4,123.5 Q1218.0,121.3 1221.6,125.0 Q1225.2,127.8 1228.8,124.5" fill="none" stroke="#f2c2c7" stroke-width="4" stroke-linecap="round"/>
<path d="M1231.0,123.5 Q1236.3,119.9 1241.5,122.3 Q1246.8,125.2 1252.1,122.2" fill="none" stroke="#dc919b" stroke-width="6" stroke-linecap="round"/>
<path d="M1231.0,123.5 Q1236.3,119.9 1241.5,122.3 Q1246.8,125.2 1252.1,122.2" fill="none" stroke="#f2c2c7" stroke-width="4" stroke-linecap="round"/>
<path d="M1117.3,130.9 Q1121.7,128.3 1126.0,131.7 Q1130.4,134.3 1134.8,130.9" fill="none" stroke="#dc919b" stroke-width="6" stroke-linecap="round"/>
<path d="M1117.3,130.9 Q1121.7,128.3 1126.0,131.7 Q1130.4,134.3 1134.8,130.9" fill="none" stroke="#f2c2c7" stroke-width="4" stroke-linecap="round"/>
<path d="M1138.0,133.1 Q1141.7,134.1 1145.5,129.2 Q1149.2,134.4 1152.9,133.7" fill="none" stroke="#dc919b" stroke-width="6" stroke-linecap="round"/>
<path d="M1138.0,133.1 Q1141.7,134.1 1145.5,129.2 Q1149.2,134.4 1152.9,133.7" fill="none" stroke="#f2c2c7" stroke-width="4" stroke-linecap="round"/>
<path d="M1155.6,132.3 Q1160.6,127.8 1165.7,129.4 Q1170.7,134.1 1175.8,132.9" fill="none" stroke="#dc919b" stroke-width="6" stroke-linecap="round"/>
<path d="M1155.6,132.3 Q1160.6,127.8 1165.7,129.4 Q1170.7,134.1 1175.8,132.9" fill="none" stroke="#f2c2c7" stroke-width="4" stroke-linecap="round"/>
<path d="M1178.8,132.2 Q1184.2,134.0 1189.6,129.8 Q1195.0,127.3 1200.4,130.7" fill="none" stroke="#dc919b" stroke-width="6" stroke-linecap="round"/>
<path d="M1178.8,132.2 Q1184.2,134.0 1189.6,129.8 Q1195.0,127.3 1200.4,130.7" fill="none" stroke="#f2c2c7" stroke-width="4" stroke-linecap="round"/>
<path d="M1202.5,130.7 Q1208.0,129.7 1213.4,134.7 Q1218.9,131.8 1224.4,134.9" fill="none" stroke="#dc919b" stroke-width="6" stroke-linecap="round"/>
<path d="M1202.5,130.7 Q1208.0,129.7 1213.4,134.7 Q1218.9,131.8 1224.4,134.9" fill="none" stroke="#f2c2c7" stroke-width="4" stroke-linecap="round"/>
<path d="M1226.4,133.1 Q1230.8,135.0 1235.3,130.8 Q1239.7,132.9 1244.1,129.1" fill="none" stroke="#dc919b" stroke-width="6" stroke-linecap="round"/>
<path d="M1226.4,133.1 Q1230.8,135.0 1235.3,130.8 Q1239.7,132.9 1244.1,129.1" fill="none" stroke="#f2c2c7" stroke-width="4" stroke-linecap="round"/>
<path d="M1125.2,138.3 Q1129.0,136.3 1132.8,140.3 Q1136.6,143.8 1140.3,141.2" fill="none" stroke="#dc919b" stroke-width="6" stroke-linecap="round"/>
<path d="M1125.2,138.3 Q1129.0,136.3 1132.8,140.3 Q1136.6,143.8 1140.3,141.2" fill="none" stroke="#f2c2c7" stroke-width="4" stroke-linecap="round"/>
<path d="M1143.2,141.1 Q1148.2,137.2 1153.1,139.3 Q1158.0,143.8 1162.9,142.3" fill="none" stroke="#dc919b" stroke-width="6" stroke-linecap="round"/>
<path d="M1143.2,141.1 Q1148.2,137.2 1153.1,139.3 Q1158.0,143.8 1162.9,142.3" fill="none" stroke="#f2c2c7" stroke-width="4" stroke-linecap="round"/>
<path d="M1166.4,140.0 Q1171.7,135.8 1176.9,137.6 Q1182.2,134.4 1187.5,137.3" fill="none" stroke="#dc919b" stroke-width="6" stroke-linecap="round"/>
<path d="M1166.4,140.0 Q1171.7,135.8 1176.9,137.6 Q1182.2,134.4 1187.5,137.3" fill="none" stroke="#f2c2c7" stroke-width="4" stroke-linecap="round"/>
<path d="M1191.1,138.6 Q1196.2,137.2 1201.3,141.7 Q1206.5,138.9 1211.6,142.2" fill="none" stroke="#dc919b" stroke-width="6" stroke-linecap="round"/>
<path d="M1191.1,138.6 Q1196.2,137.2 1201.3,141.7 Q1206.5,138.9 1211.6,142.2" fill="none" stroke="#f2c2c7" stroke-width="4" stroke-linecap="round"/>
<path d="M1214.6,140.2 Q1219.3,141.8 1223.9,137.5 Q1228.6,135.9 1233.3,140.3" fill="none" stroke="#dc919b" stroke-width="6" stroke-linecap="round"/>
<path d="M1214.6,140.2 Q1219.3,141.8 1223.9,137.5 Q1228.6,135.9 1233.3,140.3" fill="none" stroke="#f2c2c7" stroke-width="4" stroke-linecap="round"/>
<path d="M1237.2,142.0 Q1240.7,139.2 1244.3,142.3 Q1247.9,144.3 1251.4,140.3" fill="none" stroke="#dc919b" stroke-width="6" stroke-linecap="round"/>
<path d="M1237.2,142.0 Q1240.7,139.2 1244.3,142.3 Q1247.9,144.3 1251.4,140.3" fill="none" stroke="#f2c2c7" stroke-width="4" stroke-linecap="round"/>
<path d="M1116.9,146.4 Q1120.7,144.2 1124.4,148.0 Q1128.2,143.7 1132.0,145.4" fill="none" stroke="#dc919b" stroke-width="6" stroke-linecap="round"/>
<path d="M1116.9,146.4 Q1120.7,144.2 1124.4,148.0 Q1128.2,143.7 1132.0,145.4" fill="none" stroke="#f2c2c7" stroke-width="4" stroke-linecap="round"/>
<path d="M1134.7,146.9 Q1140.0,151.4 1145.3,149.9 Q1150.5,146.7 1155.8,149.4" fill="none" stroke="#dc919b" stroke-width="6" stroke-linecap="round"/>
<path d="M1134.7,146.9 Q1140.0,151.4 1145.3,149.9 Q1150.5,146.7 1155.8,149.4" fill="none" stroke="#f2c2c7" stroke-width="4" stroke-linecap="round"/>
<path d="M1157.8,148.5 Q1162.5,145.8 1167.2,149.1 Q1171.9,145.3 1176.6,147.4" fill="none" stroke="#dc919b" stroke-width="6" stroke-linecap="round"/>
<path d="M1157.8,148.5 Q1162.5,145.8 1167.2,149.1 Q1171.9,145.3 1176.6,147.4" fill="none" stroke="#f2c2c7" stroke-width="4" stroke-linecap="round"/>
<path d="M1179.0,146.7 Q1183.7,149.1 1188.4,145.4 Q1193.1,149.3 1197.9,147.1" fill="none" stroke="#dc919b" stroke-width="6" stroke-linecap="round"/>
<path d="M1179.0,146.7 Q1183.7,149.1 1188.4,145.4 Q1193.1,149.3 1197.9,147.1" fill="none" stroke="#f2c2c7" stroke-width="4" stroke-linecap="round"/>
<path d="M1199.9,147.3 Q1205.0,151.5 1210.0,149.7 Q1215.1,144.4 1220.1,145.1" fill="none" stroke="#dc919b" stroke-width="6" stroke-linecap="round"/>
<path d="M1199.9,147.3 Q1205.0,151.5 1210.0,149.7 Q1215.1,144.4 1220.1,145.1" fill="none" stroke="#f2c2c7" stroke-width="4" stroke-linecap="round"/>
<path d="M1224.1,149.3 Q1229.5,144.5 1235.0,145.6 Q1240.5,149.4 1246.0,147.1" fill="none" stroke="#dc919b" stroke-width="6" stroke-linecap="round"/>
<path d="M1224.1,149.3 Q1229.5,144.5 1235.0,145.6 Q1240.5,149.4 1246.0,147.1" fill="none" stroke="#f2c2c7" stroke-width="4" stroke-linecap="round"/>
<path d="M1123.8,154.4 Q1127.7,151.1 1131.7,153.7 Q1135.6,159.2 1139.5,158.6" fill="none" stroke="#dc919b" stroke-width="6" stroke-linecap="round"/>
<path d="M1123.8,154.4 Q1127.7,151.1 1131.7,153.7 Q1135.6,159.2 1139.5,158.6" fill="none" stroke="#f2c2c7" stroke-width="4" stroke-linecap="round"/>
<path d="M1141.7,156.5 Q1145.3,152.4 1148.8,154.2 Q1152.4,153.2 1155.9,158.2" fill="none" stroke="#dc919b" stroke-width="6" stroke-linecap="round"/>
<path d="M1141.7,156.5 Q1145.3,152.4 1148.8,154.2 Q1152.4,153.2 1155.9,158.2" fill="none" stroke="#f2c2c7" stroke-width="4" stroke-linecap="round"/>
<path d="M1157.9,156.7 Q1163.0,151.9 1168.0,153.1 Q1173.0,150.8 1178.1,154.5" fill="none" stroke="#dc919b" stroke-width="6" stroke-linecap="round"/>
<path d="M1157.9,156.7 Q1163.0,151.9 1168.0,153.1 Q1173.0,150.8 1178.1,154.5" fill="none" stroke="#f2c2c7" stroke-width="4" stroke-linecap="round"/>
<path d="M1181.1,157.6 Q1185.4,153.7 1189.8,155.9 Q1194.1,152.4 1198.4,154.9" fill="none" stroke="#dc919b" stroke-width="6" stroke-linecap="round"/>
<path d="M1181.1,157.6 Q1185.4,153.7 1189.8,155.9 Q1194.1,152.4 1198.4,154.9" fill="none" stroke="#f2c2c7" stroke-width="4" stroke-linecap="round"/>
<path d="M1201.8,154.2 Q1205.6,157.1 1209.3,154.1 Q1213.1,151.6 1216.8,155.1" fill="none" stroke="#dc919b" stroke-width="6" stroke-linecap="round"/>
<path d="M1201.8,154.2 Q1205.6,157.1 1209.3,154.1 Q1213.1,151.6 1216.8,155.1" fill="none" stroke="#f2c2c7" stroke-width="4" stroke-linecap="round"/>
<path d="M1220.6,157.9 Q1225.9,152.7 1231.3,153.6 Q1236.6,157.2 1242.0,154.9" fill="none" stroke="#dc919b" stroke-width="6" stroke-linecap="round"/>
<path d="M1220.6,157.9 Q1225.9,152.7 1231.3,153.6 Q1236.6,157.2 1242.0,154.9" fill="none" stroke="#f2c2c7" stroke-width="4" stroke-linecap="round"/>
<path d="M1118.0,165.3 Q1122.2,167.4 1126.4,163.4 Q1130.5,165.8 1134.7,162.3" fill="none" stroke="#dc919b" stroke-width="6" stroke-linecap="round"/>
<path d="M1118.0,165.3 Q1122.2,167.4 1126.4,163.4 Q1130.5,165.8 1134.7,162.3" fill="none" stroke="#f2c2c7" stroke-width="4" stroke-linecap="round"/>
<path d="M1137.7,164.3 Q1142.4,167.0 1147.1,163.6 Q1151.8,159.9 1156.5,162.1" fill="none" stroke="#dc919b" stroke-width="6" stroke-linecap="round"/>
<path d="M1137.7,164.3 Q1142.4,167.0 1147.1,163.6 Q1151.8,159.9 1156.5,162.1" fill="none" stroke="#f2c2c7" stroke-width="4" stroke-linecap="round"/>
<path d="M1159.2,164.2 Q1163.0,160.2 1166.9,162.1 Q1170.7,160.7 1174.6,165.3" fill="none" stroke="#dc919b" stroke-width="6" stroke-linecap="round"/>
<path d="M1159.2,164.2 Q1163.0,160.2 1166.9,162.1 Q1170.7,160.7 1174.6,165.3" fill="none" stroke="#f2c2c7" stroke-width="4" stroke-linecap="round"/>
<path d="M1177.2,164.4 Q1181.6,168.0 1186.0,165.6 Q1190.4,162.9 1194.8,166.3" fill="none" stroke="#dc919b" stroke-width="6" stroke-linecap="round"/>
<path d="M1177.2,164.4 Q1181.6,168.0 1186.0,165.6 Q1190.4,162.9 1194.8,166.3" fill="none" stroke="#f2c2c7" stroke-width="4" stroke-linecap="round"/>
<path d="M1198.2,162.3 Q1203.3,160.7 1208.3,165.0 Q1213.3,167.3 1218.4,163.5" fill="none" stroke="#dc919b" stroke-width="6" stroke-linecap="round"/>
<path d="M1198.2,162.3 Q1203.3,160.7 1208.3,165.0 Q1213.3,167.3 1218.4,163.5" fill="none" stroke="#f2c2c7" stroke-width="4" stroke-linecap="round"/>
<path d="M1221.9,164.0 Q1227.0,160.9 1232.1,163.8 Q1237.2,159.4 1242.3,161.0" fill="none" stroke="#dc919b" stroke-width="6" stroke-linecap="round"/>
<path d="M1221.9,164.0 Q1227.0,160.9 1232.1,163.8 Q1237.2,159.4 1242.3,161.0" fill="none" stroke="#f2c2c7" stroke-width="4" stroke-linecap="round"/>
</g>
<path d="M1118,140 C1117,126 1135,114 1160,113 C1180,111 1205,112 1220,122 C1232,130 1238,142 1234,152 C1232,158 1226,161 1222,162 C1222,168 1215,174 1205,173.5 C1202,178 1201,183 1200,186 L1193,186 C1190,180 1186,174 1180,168 C1165,166 1150,165 1144,162 C1130,159 1119,152 1118,140 Z" fill="none" stroke="#dc8d97" stroke-width="1"/>
<path d="M1140,158 C1150,150 1160,146 1172,145 C1185,144 1195,146 1208,150" fill="none" stroke="#c42234" stroke-width="1.3" stroke-linecap="round"/>
<path d="M1158,147 C1160,138 1162,128 1165,118" fill="none" stroke="#c42234" stroke-width="1.3" stroke-linecap="round"/>
<path d="M1166,146 C1172,136 1180,128 1188,122" fill="none" stroke="#c42234" stroke-width="1.3" stroke-linecap="round"/>
<path d="M1172,145 C1175,155 1185,165 1195,183" fill="none" stroke="#c42234" stroke-width="1.3" stroke-linecap="round"/>
<path d="M1185,160 C1190,166 1192,172 1194,178" fill="none" stroke="#c42234" stroke-width="1.3" stroke-linecap="round"/>
<path d="M1125,140 L1132,143" fill="none" stroke="#c42234" stroke-width="1.3" stroke-linecap="round"/>
<path d="M1205,118 L1200,126" fill="none" stroke="#c42234" stroke-width="1.3" stroke-linecap="round"/>
<path d="M1228,140 L1222,146" fill="none" stroke="#c42234" stroke-width="1.3" stroke-linecap="round"/>
<polygon points="1161.0,132.5 1158.1,133.7 1160.0,135.8 1156.7,135.9 1157.3,138.4 1154.3,137.4 1153.4,139.8 1151.2,137.9 1149.0,139.8 1148.1,137.4 1145.1,138.4 1145.7,135.9 1142.4,135.8 1144.3,133.7 1141.4,132.5 1144.3,131.3 1142.4,129.2 1145.7,129.1 1145.1,126.6 1148.1,127.6 1149.0,125.2 1151.2,127.1 1153.4,125.2 1154.3,127.6 1157.3,126.6 1156.7,129.1 1160.0,129.2 1158.1,131.3" fill="#11345f"/>
<polygon points="1210.7,135.1 1207.8,136.3 1209.7,138.4 1206.4,138.5 1207.0,141.0 1204.0,140.0 1203.1,142.4 1200.9,140.5 1198.7,142.4 1197.8,140.0 1194.8,141.0 1195.4,138.5 1192.1,138.4 1194.0,136.3 1191.1,135.1 1194.0,133.9 1192.1,131.8 1195.4,131.7 1194.8,129.2 1197.8,130.2 1198.7,127.8 1200.9,129.7 1203.1,127.8 1204.0,130.2 1207.0,129.2 1206.4,131.7 1209.7,131.8 1207.8,133.9" fill="#11345f"/>
<polygon points="1188.0,152.0 1185.1,153.2 1187.0,155.3 1183.7,155.4 1184.3,157.9 1181.3,156.9 1180.4,159.3 1178.2,157.4 1176.0,159.3 1175.1,156.9 1172.1,157.9 1172.7,155.4 1169.4,155.3 1171.3,153.2 1168.4,152.0 1171.3,150.8 1169.4,148.7 1172.7,148.6 1172.1,146.1 1175.1,147.1 1176.0,144.7 1178.2,146.6 1180.4,144.7 1181.3,147.1 1184.3,146.1 1183.7,148.6 1187.0,148.7 1185.1,150.8" fill="#11345f"/>
<text x="-5" y="229" font-size="27" font-weight="bold" fill="#111" text-anchor="start" textLength="31" lengthAdjust="spacingAndGlyphs" >B)</text>
<clipPath id="gutc"><path d="M118,221 C125,218 134,220 137,225 C132,232 128,240 132,247 C140,252 160,258 178,258 C190,258 198,264 203,266 C215,258 240,250 262,250 C270,243 282,238 290,245 C296,255 292,265 290,275 C293,295 294,325 292,345 C294,360 290,375 275,382 C250,392 215,395 175,394 C145,393 120,385 108,370 C96,355 90,340 91,322 C88,300 86,275 88,252 C92,245 102,242 112,244 C112,236 112,227 118,221 Z"/></clipPath>
<path d="M118,221 C125,218 134,220 137,225 C132,232 128,240 132,247 C140,252 160,258 178,258 C190,258 198,264 203,266 C215,258 240,250 262,250 C270,243 282,238 290,245 C296,255 292,265 290,275 C293,295 294,325 292,345 C294,360 290,375 275,382 C250,392 215,395 175,394 C145,393 120,385 108,370 C96,355 90,340 91,322 C88,300 86,275 88,252 C92,245 102,242 112,244 C112,236 112,227 118,221 Z" fill="#e87b79"/>
<g clip-path="url(#gutc)">
<path d="M214.5,279.8 A18.8,13.6 0 1,1 179.8,273.1 L187.4,261.4" fill="none" stroke="#d55f5f" stroke-width="21" stroke-linecap="round"/>
<path d="M214.5,279.8 A18.8,13.6 0 1,1 179.8,273.1 L187.4,261.4" fill="none" stroke="#ea7f7c" stroke-width="17" stroke-linecap="round"/>
<path d="M214.5,279.8 A18.8,13.6 0 1,1 179.8,273.1 L187.4,261.4" fill="none" stroke="#f2a09b" stroke-width="6.3" stroke-linecap="round" opacity="0.55" transform="translate(-1,-2)"/>
<path d="M195.7,280.5 l-5.0,-6.6 m0,0 l-1.6,-4.2" stroke="#c84a50" stroke-width="1.1" fill="none" opacity="0.8"/>
<path d="M267.3,384.1 A20.2,12.3 0 1,1 244.0,403.9 L233.7,394.5" fill="none" stroke="#d55f5f" stroke-width="21" stroke-linecap="round"/>
<path d="M267.3,384.1 A20.2,12.3 0 1,1 244.0,403.9 L233.7,394.5" fill="none" stroke="#ea7f7c" stroke-width="17" stroke-linecap="round"/>
<path d="M267.3,384.1 A20.2,12.3 0 1,1 244.0,403.9 L233.7,394.5" fill="none" stroke="#f2a09b" stroke-width="6.3" stroke-linecap="round" opacity="0.55" transform="translate(-1,-2)"/>
<path d="M257.7,394.9 l5.4,-4.9 m0,0 l-3.5,-3.4" stroke="#c84a50" stroke-width="1.1" fill="none" opacity="0.8"/>
<path d="M125.2,396.8 A15.0,12.7 0 1,1 100.6,385.1 L111.2,375.9" fill="none" stroke="#d55f5f" stroke-width="21" stroke-linecap="round"/>
<path d="M125.2,396.8 A15.0,12.7 0 1,1 100.6,385.1 L111.2,375.9" fill="none" stroke="#ea7f7c" stroke-width="17" stroke-linecap="round"/>
<path d="M125.2,396.8 A15.0,12.7 0 1,1 100.6,385.1 L111.2,375.9" fill="none" stroke="#f2a09b" stroke-width="6.3" stroke-linecap="round" opacity="0.55" transform="translate(-1,-2)"/>
<path d="M110.3,394.7 l4.4,-4.2 m0,0 l-2.4,-3.9" stroke="#c84a50" stroke-width="1.1" fill="none" opacity="0.8"/>
<path d="M123.9,355.1 A18.5,13.5 0 1,1 122.9,331.3 L135.5,337.5" fill="none" stroke="#d55f5f" stroke-width="21" stroke-linecap="round"/>
<path d="M123.9,355.1 A18.5,13.5 0 1,1 122.9,331.3 L135.5,337.5" fill="none" stroke="#ea7f7c" stroke-width="17" stroke-linecap="round"/>
<path d="M123.9,355.1 A18.5,13.5 0 1,1 122.9,331.3 L135.5,337.5" fill="none" stroke="#f2a09b" stroke-width="6.3" stroke-linecap="round" opacity="0.55" transform="translate(-1,-2)"/>
<path d="M114.7,343.4 l3.3,-5.7 m0,0 l-2.8,-2.6" stroke="#c84a50" stroke-width="1.1" fill="none" opacity="0.8"/>
<path d="M208.4,311.3 A15.7,12.6 0 1,1 184.1,302.1 L195.7,294.3" fill="none" stroke="#d55f5f" stroke-width="21" stroke-linecap="round"/>
<path d="M208.4,311.3 A15.7,12.6 0 1,1 184.1,302.1 L195.7,294.3" fill="none" stroke="#ea7f7c" stroke-width="17" stroke-linecap="round"/>
<path d="M208.4,311.3 A15.7,12.6 0 1,1 184.1,302.1 L195.7,294.3" fill="none" stroke="#f2a09b" stroke-width="6.3" stroke-linecap="round" opacity="0.55" transform="translate(-1,-2)"/>
<path d="M192.8,312.6 l3.8,-4.0 m0,0 l-2.7,-3.4" stroke="#c84a50" stroke-width="1.1" fill="none" opacity="0.8"/>
<path d="M157.1,344.1 A17.8,10.8 0 1,1 180.3,327.7 L190.5,337.3" fill="none" stroke="#d55f5f" stroke-width="21" stroke-linecap="round"/>
<path d="M157.1,344.1 A17.8,10.8 0 1,1 180.3,327.7 L190.5,337.3" fill="none" stroke="#ea7f7c" stroke-width="17" stroke-linecap="round"/>
<path d="M157.1,344.1 A17.8,10.8 0 1,1 180.3,327.7 L190.5,337.3" fill="none" stroke="#f2a09b" stroke-width="6.3" stroke-linecap="round" opacity="0.55" transform="translate(-1,-2)"/>
<path d="M168.1,335.6 l-2.6,-6.0 m0,0 l1.9,-2.1" stroke="#c84a50" stroke-width="1.1" fill="none" opacity="0.8"/>
<path d="M220.3,286.1 A15.4,13.0 0 1,1 244.9,291.6 L234.4,300.8" fill="none" stroke="#d55f5f" stroke-width="21" stroke-linecap="round"/>
<path d="M220.3,286.1 A15.4,13.0 0 1,1 244.9,291.6 L234.4,300.8" fill="none" stroke="#ea7f7c" stroke-width="17" stroke-linecap="round"/>
<path d="M220.3,286.1 A15.4,13.0 0 1,1 244.9,291.6 L234.4,300.8" fill="none" stroke="#f2a09b" stroke-width="6.3" stroke-linecap="round" opacity="0.55" transform="translate(-1,-2)"/>
<path d="M234.8,281.8 l5.5,-5.5 m0,0 l-2.8,-4.3" stroke="#c84a50" stroke-width="1.1" fill="none" opacity="0.8"/>
<path d="M207.2,413.6 A19.1,14.4 0 1,1 200.3,385.6 L214.3,385.1" fill="none" stroke="#d55f5f" stroke-width="21" stroke-linecap="round"/>
<path d="M207.2,413.6 A19.1,14.4 0 1,1 200.3,385.6 L214.3,385.1" fill="none" stroke="#ea7f7c" stroke-width="17" stroke-linecap="round"/>
<path d="M207.2,413.6 A19.1,14.4 0 1,1 200.3,385.6 L214.3,385.1" fill="none" stroke="#f2a09b" stroke-width="6.3" stroke-linecap="round" opacity="0.55" transform="translate(-1,-2)"/>
<path d="M200.9,400.0 l4.8,-3.6 m0,0 l-0.2,-3.0" stroke="#c84a50" stroke-width="1.1" fill="none" opacity="0.8"/>
<path d="M267.1,357.9 A16.4,12.5 0 1,1 254.7,381.0 L242.2,374.7" fill="none" stroke="#d55f5f" stroke-width="21" stroke-linecap="round"/>
<path d="M267.1,357.9 A16.4,12.5 0 1,1 254.7,381.0 L242.2,374.7" fill="none" stroke="#ea7f7c" stroke-width="17" stroke-linecap="round"/>
<path d="M267.1,357.9 A16.4,12.5 0 1,1 254.7,381.0 L242.2,374.7" fill="none" stroke="#f2a09b" stroke-width="6.3" stroke-linecap="round" opacity="0.55" transform="translate(-1,-2)"/>
<path d="M262.1,369.8 l4.9,-3.9 m0,0 l2.5,-3.6" stroke="#c84a50" stroke-width="1.1" fill="none" opacity="0.8"/>
<path d="M180.1,256.7 A17.6,12.0 0 1,1 181.8,235.7 L193.6,243.1" fill="none" stroke="#d55f5f" stroke-width="21" stroke-linecap="round"/>
<path d="M180.1,256.7 A17.6,12.0 0 1,1 181.8,235.7 L193.6,243.1" fill="none" stroke="#ea7f7c" stroke-width="17" stroke-linecap="round"/>
<path d="M180.1,256.7 A17.6,12.0 0 1,1 181.8,235.7 L193.6,243.1" fill="none" stroke="#f2a09b" stroke-width="6.3" stroke-linecap="round" opacity="0.55" transform="translate(-1,-2)"/>
<path d="M172.5,245.9 l3.6,-3.1 m0,0 l-1.0,-3.8" stroke="#c84a50" stroke-width="1.1" fill="none" opacity="0.8"/>
<path d="M315.6,388.3 A15.6,10.0 0 1,1 287.9,386.0 L295.7,374.4" fill="none" stroke="#d55f5f" stroke-width="21" stroke-linecap="round"/>
<path d="M315.6,388.3 A15.6,10.0 0 1,1 287.9,386.0 L295.7,374.4" fill="none" stroke="#ea7f7c" stroke-width="17" stroke-linecap="round"/>
<path d="M315.6,388.3 A15.6,10.0 0 1,1 287.9,386.0 L295.7,374.4" fill="none" stroke="#f2a09b" stroke-width="6.3" stroke-linecap="round" opacity="0.55" transform="translate(-1,-2)"/>
<path d="M300.9,391.6 l-4.5,-6.4 m0,0 l4.0,-2.6" stroke="#c84a50" stroke-width="1.1" fill="none" opacity="0.8"/>
<path d="M293.9,290.9 A16.9,14.3 0 1,1 290.2,266.4 L303.1,271.8" fill="none" stroke="#d55f5f" stroke-width="21" stroke-linecap="round"/>
<path d="M293.9,290.9 A16.9,14.3 0 1,1 290.2,266.4 L303.1,271.8" fill="none" stroke="#ea7f7c" stroke-width="17" stroke-linecap="round"/>
<path d="M293.9,290.9 A16.9,14.3 0 1,1 290.2,266.4 L303.1,271.8" fill="none" stroke="#f2a09b" stroke-width="6.3" stroke-linecap="round" opacity="0.55" transform="translate(-1,-2)"/>
<path d="M283.7,279.5 l1.9,-5.6 m0,0 l0.5,-4.6" stroke="#c84a50" stroke-width="1.1" fill="none" opacity="0.8"/>
<path d="M102.9,374.8 A16.5,12.6 0 1,1 82.3,361.6 L95.8,358.0" fill="none" stroke="#d55f5f" stroke-width="21" stroke-linecap="round"/>
<path d="M102.9,374.8 A16.5,12.6 0 1,1 82.3,361.6 L95.8,358.0" fill="none" stroke="#ea7f7c" stroke-width="17" stroke-linecap="round"/>
<path d="M102.9,374.8 A16.5,12.6 0 1,1 82.3,361.6 L95.8,358.0" fill="none" stroke="#f2a09b" stroke-width="6.3" stroke-linecap="round" opacity="0.55" transform="translate(-1,-2)"/>
<path d="M86.5,373.7 l0.3,-3.3 m0,0 l-0.7,-2.4" stroke="#c84a50" stroke-width="1.1" fill="none" opacity="0.8"/>
<path d="M239.0,301.1 A17.9,11.9 0 1,1 218.1,320.1 L208.2,310.2" fill="none" stroke="#d55f5f" stroke-width="21" stroke-linecap="round"/>
<path d="M239.0,301.1 A17.9,11.9 0 1,1 218.1,320.1 L208.2,310.2" fill="none" stroke="#ea7f7c" stroke-width="17" stroke-linecap="round"/>
<path d="M239.0,301.1 A17.9,11.9 0 1,1 218.1,320.1 L208.2,310.2" fill="none" stroke="#f2a09b" stroke-width="6.3" stroke-linecap="round" opacity="0.55" transform="translate(-1,-2)"/>
<path d="M230.8,311.7 l-2.5,-6.0 m0,0 l0.9,-4.2" stroke="#c84a50" stroke-width="1.1" fill="none" opacity="0.8"/>
<path d="M209.5,374.7 A20.3,16.8 0 1,1 246.7,361.6 L250.7,375.0" fill="none" stroke="#d55f5f" stroke-width="21" stroke-linecap="round"/>
<path d="M209.5,374.7 A20.3,16.8 0 1,1 246.7,361.6 L250.7,375.0" fill="none" stroke="#ea7f7c" stroke-width="17" stroke-linecap="round"/>
<path d="M209.5,374.7 A20.3,16.8 0 1,1 246.7,361.6 L250.7,375.0" fill="none" stroke="#f2a09b" stroke-width="6.3" stroke-linecap="round" opacity="0.55" transform="translate(-1,-2)"/>
<path d="M227.2,366.5 l-1.8,-5.2 m0,0 l0.8,-2.3" stroke="#c84a50" stroke-width="1.1" fill="none" opacity="0.8"/>
<path d="M113.5,380.0 A17.7,12.8 0 1,1 143.0,381.7 L134.4,392.8" fill="none" stroke="#d55f5f" stroke-width="21" stroke-linecap="round"/>
<path d="M113.5,380.0 A17.7,12.8 0 1,1 143.0,381.7 L134.4,392.8" fill="none" stroke="#ea7f7c" stroke-width="17" stroke-linecap="round"/>
<path d="M113.5,380.0 A17.7,12.8 0 1,1 143.0,381.7 L134.4,392.8" fill="none" stroke="#f2a09b" stroke-width="6.3" stroke-linecap="round" opacity="0.55" transform="translate(-1,-2)"/>
<path d="M129.0,373.8 l0.4,-4.9 m0,0 l-4.8,-3.7" stroke="#c84a50" stroke-width="1.1" fill="none" opacity="0.8"/>
<path d="M152.4,322.7 A20.3,16.2 0 1,1 137.0,292.7 L150.1,287.8" fill="none" stroke="#d55f5f" stroke-width="21" stroke-linecap="round"/>
<path d="M152.4,322.7 A20.3,16.2 0 1,1 137.0,292.7 L150.1,287.8" fill="none" stroke="#ea7f7c" stroke-width="17" stroke-linecap="round"/>
<path d="M152.4,322.7 A20.3,16.2 0 1,1 137.0,292.7 L150.1,287.8" fill="none" stroke="#f2a09b" stroke-width="6.3" stroke-linecap="round" opacity="0.55" transform="translate(-1,-2)"/>
<path d="M144.1,307.9 l-3.9,-5.1 m0,0 l2.3,-3.3" stroke="#c84a50" stroke-width="1.1" fill="none" opacity="0.8"/>
<path d="M166.9,382.4 A20.2,14.9 0 1,1 194.6,363.2 L200.3,376.0" fill="none" stroke="#d55f5f" stroke-width="21" stroke-linecap="round"/>
<path d="M166.9,382.4 A20.2,14.9 0 1,1 194.6,363.2 L200.3,376.0" fill="none" stroke="#ea7f7c" stroke-width="17" stroke-linecap="round"/>
<path d="M166.9,382.4 A20.2,14.9 0 1,1 194.6,363.2 L200.3,376.0" fill="none" stroke="#f2a09b" stroke-width="6.3" stroke-linecap="round" opacity="0.55" transform="translate(-1,-2)"/>
<path d="M176.1,369.2 l3.4,-6.6 m0,0 l0.6,-4.3" stroke="#c84a50" stroke-width="1.1" fill="none" opacity="0.8"/>
<path d="M216.7,356.8 A18.9,13.7 0 1,1 237.1,337.7 L242.8,350.4" fill="none" stroke="#d55f5f" stroke-width="21" stroke-linecap="round"/>
<path d="M216.7,356.8 A18.9,13.7 0 1,1 237.1,337.7 L242.8,350.4" fill="none" stroke="#ea7f7c" stroke-width="17" stroke-linecap="round"/>
<path d="M216.7,356.8 A18.9,13.7 0 1,1 237.1,337.7 L242.8,350.4" fill="none" stroke="#f2a09b" stroke-width="6.3" stroke-linecap="round" opacity="0.55" transform="translate(-1,-2)"/>
<path d="M219.8,343.2 l0.7,-4.0 m0,0 l4.1,-3.7" stroke="#c84a50" stroke-width="1.1" fill="none" opacity="0.8"/>
<path d="M254.4,239.2 A20.7,15.1 0 1,1 274.3,263.7 L260.6,266.5" fill="none" stroke="#d55f5f" stroke-width="21" stroke-linecap="round"/>
<path d="M254.4,239.2 A20.7,15.1 0 1,1 274.3,263.7 L260.6,266.5" fill="none" stroke="#ea7f7c" stroke-width="17" stroke-linecap="round"/>
<path d="M254.4,239.2 A20.7,15.1 0 1,1 274.3,263.7 L260.6,266.5" fill="none" stroke="#f2a09b" stroke-width="6.3" stroke-linecap="round" opacity="0.55" transform="translate(-1,-2)"/>
<path d="M270.2,249.0 l2.3,-5.2 m0,0 l0.3,-3.6" stroke="#c84a50" stroke-width="1.1" fill="none" opacity="0.8"/>
<path d="M276.1,330.1 A17.3,14.2 0 1,1 245.0,328.1 L252.1,316.0" fill="none" stroke="#d55f5f" stroke-width="21" stroke-linecap="round"/>
<path d="M276.1,330.1 A17.3,14.2 0 1,1 245.0,328.1 L252.1,316.0" fill="none" stroke="#ea7f7c" stroke-width="17" stroke-linecap="round"/>
<path d="M276.1,330.1 A17.3,14.2 0 1,1 245.0,328.1 L252.1,316.0" fill="none" stroke="#f2a09b" stroke-width="6.3" stroke-linecap="round" opacity="0.55" transform="translate(-1,-2)"/>
<path d="M260.0,335.2 l5.3,-6.0 m0,0 l0.6,-2.2" stroke="#c84a50" stroke-width="1.1" fill="none" opacity="0.8"/>
<path d="M99.9,237.2 A15.9,10.0 0 1,1 80.1,252.8 L70.2,242.9" fill="none" stroke="#d55f5f" stroke-width="21" stroke-linecap="round"/>
<path d="M99.9,237.2 A15.9,10.0 0 1,1 80.1,252.8 L70.2,242.9" fill="none" stroke="#ea7f7c" stroke-width="17" stroke-linecap="round"/>
<path d="M99.9,237.2 A15.9,10.0 0 1,1 80.1,252.8 L70.2,242.9" fill="none" stroke="#f2a09b" stroke-width="6.3" stroke-linecap="round" opacity="0.55" transform="translate(-1,-2)"/>
<path d="M91.4,245.7 l-0.7,-6.7 m0,0 l-2.6,-4.8" stroke="#c84a50" stroke-width="1.1" fill="none" opacity="0.8"/>
<path d="M149.8,381.2 A20.7,17.1 0 1,1 150.1,411.2 L137.7,404.6" fill="none" stroke="#d55f5f" stroke-width="21" stroke-linecap="round"/>
<path d="M149.8,381.2 A20.7,17.1 0 1,1 150.1,411.2 L137.7,404.6" fill="none" stroke="#ea7f7c" stroke-width="17" stroke-linecap="round"/>
<path d="M149.8,381.2 A20.7,17.1 0 1,1 150.1,411.2 L137.7,404.6" fill="none" stroke="#f2a09b" stroke-width="6.3" stroke-linecap="round" opacity="0.55" transform="translate(-1,-2)"/>
<path d="M159.9,396.2 l-4.1,-4.1 m0,0 l1.6,-4.6" stroke="#c84a50" stroke-width="1.1" fill="none" opacity="0.8"/>
<path d="M144.6,242.5 A17.2,11.3 0 1,1 116.6,244.9 L123.1,232.4" fill="none" stroke="#d55f5f" stroke-width="21" stroke-linecap="round"/>
<path d="M144.6,242.5 A17.2,11.3 0 1,1 116.6,244.9 L123.1,232.4" fill="none" stroke="#ea7f7c" stroke-width="17" stroke-linecap="round"/>
<path d="M144.6,242.5 A17.2,11.3 0 1,1 116.6,244.9 L123.1,232.4" fill="none" stroke="#f2a09b" stroke-width="6.3" stroke-linecap="round" opacity="0.55" transform="translate(-1,-2)"/>
<path d="M131.9,250.1 l5.4,-5.4 m0,0 l-0.1,-2.0" stroke="#c84a50" stroke-width="1.1" fill="none" opacity="0.8"/>
<path d="M307.9,325.7 A16.0,11.3 0 1,1 288.9,343.7 L278.8,334.0" fill="none" stroke="#d55f5f" stroke-width="21" stroke-linecap="round"/>
<path d="M307.9,325.7 A16.0,11.3 0 1,1 288.9,343.7 L278.8,334.0" fill="none" stroke="#ea7f7c" stroke-width="17" stroke-linecap="round"/>
<path d="M307.9,325.7 A16.0,11.3 0 1,1 288.9,343.7 L278.8,334.0" fill="none" stroke="#f2a09b" stroke-width="6.3" stroke-linecap="round" opacity="0.55" transform="translate(-1,-2)"/>
<path d="M300.0,335.6 l0.2,-5.6 m0,0 l-3.0,-4.0" stroke="#c84a50" stroke-width="1.1" fill="none" opacity="0.8"/>
<path d="M89.6,296.8 A19.2,14.2 0 1,1 94.8,324.9 L80.9,326.2" fill="none" stroke="#d55f5f" stroke-width="21" stroke-linecap="round"/>
<path d="M89.6,296.8 A19.2,14.2 0 1,1 94.8,324.9 L80.9,326.2" fill="none" stroke="#ea7f7c" stroke-width="17" stroke-linecap="round"/>
<path d="M89.6,296.8 A19.2,14.2 0 1,1 94.8,324.9 L80.9,326.2" fill="none" stroke="#f2a09b" stroke-width="6.3" stroke-linecap="round" opacity="0.55" transform="translate(-1,-2)"/>
<path d="M93.0,310.7 l-0.7,-6.9 m0,0 l-1.7,-3.1" stroke="#c84a50" stroke-width="1.1" fill="none" opacity="0.8"/>
<path d="M198.2,246.0 A20.0,16.9 0 1,1 237.6,250.8 L234.7,264.5" fill="none" stroke="#d55f5f" stroke-width="21" stroke-linecap="round"/>
<path d="M198.2,246.0 A20.0,16.9 0 1,1 237.6,250.8 L234.7,264.5" fill="none" stroke="#ea7f7c" stroke-width="17" stroke-linecap="round"/>
<path d="M198.2,246.0 A20.0,16.9 0 1,1 237.6,250.8 L234.7,264.5" fill="none" stroke="#f2a09b" stroke-width="6.3" stroke-linecap="round" opacity="0.55" transform="translate(-1,-2)"/>
<path d="M218.1,247.2 l3.5,-3.1 m0,0 l-4.0,-4.2" stroke="#c84a50" stroke-width="1.1" fill="none" opacity="0.8"/>
<path d="M126.0,279.8 A20.2,13.5 0 1,1 99.9,263.7 L113.2,259.2" fill="none" stroke="#d55f5f" stroke-width="21" stroke-linecap="round"/>
<path d="M126.0,279.8 A20.2,13.5 0 1,1 99.9,263.7 L113.2,259.2" fill="none" stroke="#ea7f7c" stroke-width="17" stroke-linecap="round"/>
<path d="M126.0,279.8 A20.2,13.5 0 1,1 99.9,263.7 L113.2,259.2" fill="none" stroke="#f2a09b" stroke-width="6.3" stroke-linecap="round" opacity="0.55" transform="translate(-1,-2)"/>
<path d="M106.5,276.4 l-4.4,-5.3 m0,0 l4.1,-2.5" stroke="#c84a50" stroke-width="1.1" fill="none" opacity="0.8"/>
<path d="M287.4,323.4 A18.4,15.3 0 1,1 293.6,293.5 L307.1,297.5" fill="none" stroke="#d55f5f" stroke-width="21" stroke-linecap="round"/>
<path d="M287.4,323.4 A18.4,15.3 0 1,1 293.6,293.5 L307.1,297.5" fill="none" stroke="#ea7f7c" stroke-width="17" stroke-linecap="round"/>
<path d="M287.4,323.4 A18.4,15.3 0 1,1 293.6,293.5 L307.1,297.5" fill="none" stroke="#f2a09b" stroke-width="6.3" stroke-linecap="round" opacity="0.55" transform="translate(-1,-2)"/>
<path d="M288.4,308.1 l0.8,-4.2 m0,0 l-4.1,-4.8" stroke="#c84a50" stroke-width="1.1" fill="none" opacity="0.8"/>
<path d="M146.7,267.2 A16.9,10.4 0 1,1 150.1,287.1 L136.4,284.6" fill="none" stroke="#d55f5f" stroke-width="21" stroke-linecap="round"/>
<path d="M146.7,267.2 A16.9,10.4 0 1,1 150.1,287.1 L136.4,284.6" fill="none" stroke="#ea7f7c" stroke-width="17" stroke-linecap="round"/>
<path d="M146.7,267.2 A16.9,10.4 0 1,1 150.1,287.1 L136.4,284.6" fill="none" stroke="#f2a09b" stroke-width="6.3" stroke-linecap="round" opacity="0.55" transform="translate(-1,-2)"/>
<path d="M153.1,276.8 l5.3,-4.5 m0,0 l3.0,-4.7" stroke="#c84a50" stroke-width="1.1" fill="none" opacity="0.8"/>
<path d="M127,223 C120,232 122,245 138,252" fill="none" stroke="#d55f5f" stroke-width="16" stroke-linecap="round"/>
<path d="M127,223 C120,232 122,245 138,252" fill="none" stroke="#ea7f7c" stroke-width="12" stroke-linecap="round"/>
<path d="M127,223 C120,232 122,245 138,252" fill="none" stroke="#f2a09b" stroke-width="4.8" stroke-linecap="round" opacity="0.55" transform="translate(-1,-2)"/>
</g>
<path d="M118,221 C125,218 134,220 137,225 C132,232 128,240 132,247 C140,252 160,258 178,258 C190,258 198,264 203,266 C215,258 240,250 262,250 C270,243 282,238 290,245 C296,255 292,265 290,275 C293,295 294,325 292,345 C294,360 290,375 275,382 C250,392 215,395 175,394 C145,393 120,385 108,370 C96,355 90,340 91,322 C88,300 86,275 88,252 C92,245 102,242 112,244 C112,236 112,227 118,221 Z" fill="none" stroke="#d1565a" stroke-width="1.8"/>
<rect x="180" y="305" width="35.5" height="25.4" fill="none" stroke="#111" stroke-width="2"/>
<path d="M295,277 L381,246.5 M293,367 L381,404.5" stroke="#e0a0a6" stroke-width="1.2"/>
<text x="190" y="432.9" font-size="19" font-weight="normal" fill="#1a1a1a" text-anchor="middle" textLength="221" lengthAdjust="spacingAndGlyphs"  stroke="#1a1a1a" stroke-width="0.7">SARS-CoV-2 infects</text>
<text x="190.6" y="456.7" font-size="19" font-weight="normal" fill="#1a1a1a" text-anchor="middle" textLength="46.7" lengthAdjust="spacingAndGlyphs"  stroke="#1a1a1a" stroke-width="0.7">GUT</text>
<rect x="380.5" y="247.5" width="122" height="158.5" fill="#ffffff" stroke="#eaa8ae" stroke-width="1.6"/>
<rect x="383" y="369" width="117" height="29" fill="#f9e6da"/>
<path d="M383,369 L383,381 L500,381 L500,369 C488,369 481,366 481,352 L481,300 C481,275 465,262 442,262 C418,262 402,275 402,300 L402,352 C402,366 395,369 383,369 Z" fill="#dcb4ab"/>
<path d="M418,372 L418,298 C418,284 428,275.5 442,275.5 C456,275.5 466,284 466,298 L466,372 Z" fill="#f9e6da"/>
<path d="M410,362 L410,298 C410,278 425,268.5 442,268.5 C459,268.5 474,278 474,298 L474,362" fill="none" stroke="#8a5a56" stroke-width="1.6" stroke-dasharray="1.6,3.6"/>
<path d="M388,375 C398,374 404,372 408,366 M476,366 C480,372 486,374 496,375" fill="none" stroke="#8a5a56" stroke-width="1.6" stroke-dasharray="1.6,3.6"/>
<path d="M427,384 L427,292 C427,281 435,277 442,277 C449,277 455,281 455,292" fill="none" stroke="#b3242e" stroke-width="2.6"/>
<path d="M430,290 C432,281 438,278 445,278 C452,278 457,283 457,292 L457,380" fill="none" stroke="#1f2f6e" stroke-width="2.6"/>
<path d="M441.5,381 L441.5,287" stroke="#2c7f3c" stroke-width="5"/>
<path d="M441.5,287 L447,283" stroke="#2c7f3c" stroke-width="3"/>
<path d="M427,292 L457,300 L427,308 L457,316 L427,324 L457,332 L427,340 L457,348 L427,356 L457,364 L427,372" fill="none" stroke="#4a2a3e" stroke-width="1.4"/>
<path d="M427,292 L427,386 M455,292 L457,380" fill="none" stroke="#b3242e" stroke-width="0"/>
<path d="M428,300 C426,330 430,350 427,384" fill="none" stroke="#b3242e" stroke-width="2.6"/>
<path d="M456,300 C459,330 454,350 457,380" fill="none" stroke="#1f2f6e" stroke-width="2.6"/>
<path d="M405,379 C430,377 460,376 480,379" stroke="#1f2f6e" stroke-width="2.4" fill="none"/>
<path d="M408,384.5 C430,382 460,382 478,385" stroke="#b3242e" stroke-width="2.4" fill="none"/>
<path d="M411,391 C430,388 460,388 476,390" stroke="#2c7f3c" stroke-width="4" fill="none" stroke-linecap="round"/>
<rect x="427" y="253.5" width="28.5" height="20.5" fill="none" stroke="#111" stroke-width="1.8"/>
<path d="M456,255 L578,219 M481,306 L575,437" stroke="#c8b08a" stroke-width="1.5" stroke-dasharray="2,1.5"/>
<rect x="578" y="218.5" width="672" height="220" fill="#fcf6e5" stroke="#ddd6c6" stroke-width="1"/>
<line x1="579" y1="219" x2="579" y2="438" stroke="#dab891" stroke-width="4"/>
<line x1="579.5" y1="219" x2="579.5" y2="438" stroke="#e8cfae" stroke-width="1" stroke-dasharray="1,2"/>
<text x="1194.6" y="246.6" font-size="18.6" font-weight="bold" fill="#111" text-anchor="start" textLength="39.4" lengthAdjust="spacingAndGlyphs" >IEB</text>
<path d="M 609,315 C 609,305 613,301 618,301 L 618.0,301 C 618.6,298 617.4,292.5 620.3,292.5 C 623.2,292.5 622.0,298 622.6,301 L 625.6,301 C 626.2,298 625.0,292.5 627.9,292.5 C 630.8,292.5 629.6,298 630.2,301 L 633.2,301 C 633.8,298 632.6,292.5 635.5,292.5 C 638.4,292.5 637.2,298 637.8,301 L 640.8,301 C 641.4,298 640.2,292.5 643.1,292.5 C 646.0,292.5 644.8,298 645.4,301 L 648.4,301 C 649.0,298 647.8,292.5 650.7,292.5 C 653.6,292.5 652.4,298 653.0,301 L 656.0,301 C 656.6,298 655.4,292.5 658.3,292.5 C 661.2,292.5 660.0,298 660.6,301 L 663.6,301 C 664.2,298 663.0,292.5 665.9,292.5 C 668.8,292.5 667.6,298 668.2,301 L 678.8,301 C 679.4,298 678.2,292.5 681.1,292.5 C 684.0,292.5 682.8,298 683.4,301 L 686.4,301 C 687.0,298 685.8,292.5 688.7,292.5 C 691.6,292.5 690.4,298 691.0,301 L 694.0,301 C 694.6,298 693.4,292.5 696.3,292.5 C 699.2,292.5 698.0,298 698.6,301 L 701.6,301 C 702.2,298 701.0,292.5 703.9,292.5 C 706.8,292.5 705.6,298 706.2,301 L 709.2,301 C 709.8,298 708.6,292.5 711.5,292.5 C 714.4,292.5 713.2,298 713.8,301 L 716.8,301 C 717.4,298 716.2,292.5 719.1,292.5 C 722.0,292.5 720.8,298 721.4,301 L 724.4,301 C 725.0,298 723.8,292.5 726.7,292.5 C 729.6,292.5 728.4,298 729.0,301 L 732.0,301 C 732.6,298 731.4,292.5 734.3,292.5 C 737.2,292.5 736.0,298 736.6,301 L 737.5,301 C 742.5,301 746.5,305 746.5,315 L 744.5,389 Q 744.5,404 729.5,404 L 628,404 Q 613,404 613,389 Z" fill="#caa47a" stroke="#a07e56" stroke-width="1.5"/>
<path d="M 760.5,315 C 760.5,305 764.5,301 769.5,301 L 769.5,301 C 770.1,298 768.9,292.5 771.8,292.5 C 774.7,292.5 773.5,298 774.1,301 L 777.1,301 C 777.7,298 776.5,292.5 779.4,292.5 C 782.3,292.5 781.1,298 781.7,301 L 799.9,301 C 800.5,298 799.3,292.5 802.2,292.5 C 805.1,292.5 803.9,298 804.5,301 L 807.5,301 C 808.1,298 806.9,292.5 809.8,292.5 C 812.7,292.5 811.5,298 812.1,301 L 815.1,301 C 815.7,298 814.5,292.5 817.4,292.5 C 820.3,292.5 819.1,298 819.7,301 L 822.7,301 C 823.3,298 822.1,292.5 825.0,292.5 C 827.9,292.5 826.7,298 827.3,301 L 830.3,301 C 830.9,298 829.7,292.5 832.6,292.5 C 835.5,292.5 834.3,298 834.9,301 L 837.9,301 C 838.5,298 837.3,292.5 840.2,292.5 C 843.1,292.5 841.9,298 842.5,301 L 845.5,301 C 846.1,298 844.9,292.5 847.8,292.5 C 850.7,292.5 849.5,298 850.1,301 L 853.1,301 C 853.7,298 852.5,292.5 855.4,292.5 C 858.3,292.5 857.1,298 857.7,301 L 860.7,301 C 861.3,298 860.1,292.5 863.0,292.5 C 865.9,292.5 864.7,298 865.3,301 L 868.3,301 C 868.9,298 867.7,292.5 870.6,292.5 C 873.5,292.5 872.3,298 872.9,301 L 875.9,301 C 876.5,298 875.3,292.5 878.2,292.5 C 881.1,292.5 879.9,298 880.5,301 L 883.5,301 C 884.1,298 882.9,292.5 885.8,292.5 C 888.7,292.5 887.5,298 888.1,301 L 887,301 C 892,301 896,305 896,315 L 894,390 Q 894,405 879,405 L 779.5,405 Q 764.5,405 764.5,390 Z" fill="#caa47a" stroke="#a07e56" stroke-width="1.5"/>
<path d="M 917.5,315 C 917.5,305 921.5,301 926.5,301 L 926.5,301 C 927.1,298 925.9,292.5 928.8,292.5 C 931.7,292.5 930.5,298 931.1,301 L 934.1,301 C 934.7,298 933.5,292.5 936.4,292.5 C 939.3,292.5 938.1,298 938.7,301 L 941.7,301 C 942.3,298 941.1,292.5 944.0,292.5 C 946.9,292.5 945.7,298 946.3,301 L 949.3,301 C 949.9,298 948.7,292.5 951.6,292.5 C 954.5,292.5 953.3,298 953.9,301 L 956.9,301 C 957.5,298 956.3,292.5 959.2,292.5 C 962.1,292.5 960.9,298 961.5,301 L 964.5,301 C 965.1,298 963.9,292.5 966.8,292.5 C 969.7,292.5 968.5,298 969.1,301 L 987.3,301 C 987.9,298 986.7,292.5 989.6,292.5 C 992.5,292.5 991.3,298 991.9,301 L 994.9,301 C 995.5,298 994.3,292.5 997.2,292.5 C 1000.1,292.5 998.9,298 999.5,301 L 1002.5,301 C 1003.1,298 1001.9,292.5 1004.8,292.5 C 1007.7,292.5 1006.5,298 1007.1,301 L 1010.1,301 C 1010.7,298 1009.5,292.5 1012.4,292.5 C 1015.3,292.5 1014.1,298 1014.7,301 L 1017.7,301 C 1018.3,298 1017.1,292.5 1020.0,292.5 C 1022.9,292.5 1021.7,298 1022.3,301 L 1025.3,301 C 1025.9,298 1024.7,292.5 1027.6,292.5 C 1030.5,292.5 1029.3,298 1029.9,301 L 1032.9,301 C 1033.5,298 1032.3,292.5 1035.2,292.5 C 1038.1,292.5 1036.9,298 1037.5,301 L 1040.5,301 C 1041.1,298 1039.9,292.5 1042.8,292.5 C 1045.7,292.5 1044.5,298 1045.1,301 L 1044.5,301 C 1049.5,301 1053.5,305 1053.5,315 L 1051.5,387.5 Q 1051.5,402.5 1036.5,402.5 L 936.5,402.5 Q 921.5,402.5 921.5,387.5 Z" fill="#caa47a" stroke="#a07e56" stroke-width="1.5"/>
<path d="M 1109.5,315 C 1109.5,305 1113.5,301 1118.5,301 L 1118.5,301 C 1119.1,298 1117.9,292.5 1120.8,292.5 C 1123.7,292.5 1122.5,298 1123.1,301 L 1126.1,301 C 1126.7,298 1125.5,292.5 1128.4,292.5 C 1131.3,292.5 1130.1,298 1130.7,301 L 1141.3,301 C 1141.9,298 1140.7,292.5 1143.6,292.5 C 1146.5,292.5 1145.3,298 1145.9,301 L 1148.9,301 C 1149.5,298 1148.3,292.5 1151.2,292.5 C 1154.1,292.5 1152.9,298 1153.5,301 L 1156.5,301 C 1157.1,298 1155.9,292.5 1158.8,292.5 C 1161.7,292.5 1160.5,298 1161.1,301 L 1164.1,301 C 1164.7,298 1163.5,292.5 1166.4,292.5 C 1169.3,292.5 1168.1,298 1168.7,301 L 1171.7,301 C 1172.3,298 1171.1,292.5 1174.0,292.5 C 1176.9,292.5 1175.7,298 1176.3,301 L 1179.3,301 C 1179.9,298 1178.7,292.5 1181.6,292.5 C 1184.5,292.5 1183.3,298 1183.9,301 L 1186.9,301 C 1187.5,298 1186.3,292.5 1189.2,292.5 C 1192.1,292.5 1190.9,298 1191.5,301 L 1194.5,301 C 1195.1,298 1193.9,292.5 1196.8,292.5 C 1199.7,292.5 1198.5,298 1199.1,301 L 1202.1,301 C 1202.7,298 1201.5,292.5 1204.4,292.5 C 1207.3,292.5 1206.1,298 1206.7,301 L 1209.7,301 C 1210.3,298 1209.1,292.5 1212.0,292.5 C 1214.9,292.5 1213.7,298 1214.3,301 L 1217.3,301 C 1217.9,298 1216.7,292.5 1219.6,292.5 C 1222.5,292.5 1221.3,298 1221.9,301 L 1224.9,301 C 1225.5,298 1224.3,292.5 1227.2,292.5 C 1230.1,292.5 1228.9,298 1229.5,301 L 1232,301 C 1237,301 1241,305 1241,315 L 1239,387.5 Q 1239,402.5 1224,402.5 L 1128.5,402.5 Q 1113.5,402.5 1113.5,387.5 Z" fill="#caa47a" stroke="#a07e56" stroke-width="1.5"/>
<ellipse cx="686.4" cy="371.7" rx="23.8" ry="12" fill="#b66c4a"/>
<ellipse cx="837.4" cy="375.4" rx="23.6" ry="13.3" fill="#a65e3c"/>
<ellipse cx="992" cy="371.6" rx="23.8" ry="12" fill="#b66c4a"/>
<ellipse cx="1184" cy="373.3" rx="23" ry="12" fill="#a65e3c"/>
<line x1="688.1" y1="260.1" x2="694.0" y2="261.4" stroke="#25276a" stroke-width="1.4"/>
<circle cx="694.0" cy="261.4" r="2.0" fill="#25276a"/>
<line x1="685.1" y1="264.4" x2="689.8" y2="268.2" stroke="#25276a" stroke-width="1.4"/>
<circle cx="689.8" cy="268.2" r="2.0" fill="#25276a"/>
<line x1="679.7" y1="267.4" x2="682.3" y2="272.8" stroke="#25276a" stroke-width="1.4"/>
<circle cx="682.3" cy="272.8" r="2.0" fill="#25276a"/>
<line x1="673.0" y1="268.5" x2="673.0" y2="274.5" stroke="#25276a" stroke-width="1.4"/>
<circle cx="673.0" cy="274.5" r="2.0" fill="#25276a"/>
<line x1="666.3" y1="267.4" x2="663.7" y2="272.8" stroke="#25276a" stroke-width="1.4"/>
<circle cx="663.7" cy="272.8" r="2.0" fill="#25276a"/>
<line x1="660.9" y1="264.4" x2="656.2" y2="268.2" stroke="#25276a" stroke-width="1.4"/>
<circle cx="656.2" cy="268.2" r="2.0" fill="#25276a"/>
<line x1="657.9" y1="260.1" x2="652.0" y2="261.4" stroke="#25276a" stroke-width="1.4"/>
<circle cx="652.0" cy="261.4" r="2.0" fill="#25276a"/>
<line x1="657.9" y1="255.3" x2="652.0" y2="254.0" stroke="#25276a" stroke-width="1.4"/>
<circle cx="652.0" cy="254.0" r="2.0" fill="#25276a"/>
<line x1="660.9" y1="251.0" x2="656.2" y2="247.2" stroke="#25276a" stroke-width="1.4"/>
<circle cx="656.2" cy="247.2" r="2.0" fill="#25276a"/>
<line x1="666.3" y1="248.0" x2="663.7" y2="242.6" stroke="#25276a" stroke-width="1.4"/>
<circle cx="663.7" cy="242.6" r="2.0" fill="#25276a"/>
<line x1="673.0" y1="246.9" x2="673.0" y2="240.9" stroke="#25276a" stroke-width="1.4"/>
<circle cx="673.0" cy="240.9" r="2.0" fill="#25276a"/>
<line x1="679.7" y1="248.0" x2="682.3" y2="242.6" stroke="#25276a" stroke-width="1.4"/>
<circle cx="682.3" cy="242.6" r="2.0" fill="#25276a"/>
<line x1="685.1" y1="251.0" x2="689.8" y2="247.2" stroke="#25276a" stroke-width="1.4"/>
<circle cx="689.8" cy="247.2" r="2.0" fill="#25276a"/>
<line x1="688.1" y1="255.3" x2="694.0" y2="254.0" stroke="#25276a" stroke-width="1.4"/>
<circle cx="694.0" cy="254.0" r="2.0" fill="#25276a"/>
<ellipse cx="673" cy="257.7" rx="15.5" ry="10.8" fill="#e8eefa" stroke="#25276a" stroke-width="2.0"/>
<ellipse cx="673" cy="257.7" rx="10.8" ry="7.6" fill="#c6d4f0" opacity="0.7"/>
<ellipse cx="678.9" cy="259.0" rx="3.7" ry="2.8" fill="none" stroke="#2a3c8a" stroke-width="1.1"/>
<ellipse cx="674.4" cy="261.9" rx="3.7" ry="2.8" fill="none" stroke="#2a3c8a" stroke-width="1.1"/>
<ellipse cx="668.5" cy="260.6" rx="3.7" ry="2.8" fill="none" stroke="#2a3c8a" stroke-width="1.1"/>
<ellipse cx="667.1" cy="256.4" rx="3.7" ry="2.8" fill="none" stroke="#2a3c8a" stroke-width="1.1"/>
<ellipse cx="671.6" cy="253.5" rx="3.7" ry="2.8" fill="none" stroke="#2a3c8a" stroke-width="1.1"/>
<ellipse cx="677.5" cy="254.8" rx="3.7" ry="2.8" fill="none" stroke="#2a3c8a" stroke-width="1.1"/>
<circle cx="673" cy="257.7" r="1.6" fill="#2a3c8a"/>
<path d="M672.5,287 C671.5,278 665.5,275 661.5,275.5 C655.5,276 654.0,283 659.5,285.5" fill="none" stroke="#b51f34" stroke-width="6.3" stroke-linecap="round"/>
<path d="M672.5,287 C673.5,278 679.5,275 683.5,275.5 C689.5,276 691.0,283 685.5,285.5" fill="none" stroke="#b51f34" stroke-width="6.3" stroke-linecap="round"/>
<path d="M672.5,283 L672.5,301" stroke="#b51f34" stroke-width="5.5"/>
<polygon points="669.5,297 675.5,297 681.0,306 664.0,306" fill="#b51f34"/>
<text x="634.4" y="236" font-size="11.5" font-weight="bold" fill="#222" text-anchor="start" textLength="82" lengthAdjust="spacingAndGlyphs" >SARS-CoV-2</text>
<line x1="995.1" y1="260.1" x2="1001.0" y2="261.4" stroke="#25276a" stroke-width="1.4"/>
<circle cx="1001.0" cy="261.4" r="2.0" fill="#25276a"/>
<line x1="992.1" y1="264.4" x2="996.8" y2="268.2" stroke="#25276a" stroke-width="1.4"/>
<circle cx="996.8" cy="268.2" r="2.0" fill="#25276a"/>
<line x1="986.7" y1="267.4" x2="989.3" y2="272.8" stroke="#25276a" stroke-width="1.4"/>
<circle cx="989.3" cy="272.8" r="2.0" fill="#25276a"/>
<line x1="980.0" y1="268.5" x2="980.0" y2="274.5" stroke="#25276a" stroke-width="1.4"/>
<circle cx="980.0" cy="274.5" r="2.0" fill="#25276a"/>
<line x1="973.3" y1="267.4" x2="970.7" y2="272.8" stroke="#25276a" stroke-width="1.4"/>
<circle cx="970.7" cy="272.8" r="2.0" fill="#25276a"/>
<line x1="967.9" y1="264.4" x2="963.2" y2="268.2" stroke="#25276a" stroke-width="1.4"/>
<circle cx="963.2" cy="268.2" r="2.0" fill="#25276a"/>
<line x1="964.9" y1="260.1" x2="959.0" y2="261.4" stroke="#25276a" stroke-width="1.4"/>
<circle cx="959.0" cy="261.4" r="2.0" fill="#25276a"/>
<line x1="964.9" y1="255.3" x2="959.0" y2="254.0" stroke="#25276a" stroke-width="1.4"/>
<circle cx="959.0" cy="254.0" r="2.0" fill="#25276a"/>
<line x1="967.9" y1="251.0" x2="963.2" y2="247.2" stroke="#25276a" stroke-width="1.4"/>
<circle cx="963.2" cy="247.2" r="2.0" fill="#25276a"/>
<line x1="973.3" y1="248.0" x2="970.7" y2="242.6" stroke="#25276a" stroke-width="1.4"/>
<circle cx="970.7" cy="242.6" r="2.0" fill="#25276a"/>
<line x1="980.0" y1="246.9" x2="980.0" y2="240.9" stroke="#25276a" stroke-width="1.4"/>
<circle cx="980.0" cy="240.9" r="2.0" fill="#25276a"/>
<line x1="986.7" y1="248.0" x2="989.3" y2="242.6" stroke="#25276a" stroke-width="1.4"/>
<circle cx="989.3" cy="242.6" r="2.0" fill="#25276a"/>
<line x1="992.1" y1="251.0" x2="996.8" y2="247.2" stroke="#25276a" stroke-width="1.4"/>
<circle cx="996.8" cy="247.2" r="2.0" fill="#25276a"/>
<line x1="995.1" y1="255.3" x2="1001.0" y2="254.0" stroke="#25276a" stroke-width="1.4"/>
<circle cx="1001.0" cy="254.0" r="2.0" fill="#25276a"/>
<ellipse cx="980" cy="257.7" rx="15.5" ry="10.8" fill="#e8eefa" stroke="#25276a" stroke-width="2.0"/>
<ellipse cx="980" cy="257.7" rx="10.8" ry="7.6" fill="#c6d4f0" opacity="0.7"/>
<ellipse cx="985.9" cy="259.0" rx="3.7" ry="2.8" fill="none" stroke="#2a3c8a" stroke-width="1.1"/>
<ellipse cx="981.4" cy="261.9" rx="3.7" ry="2.8" fill="none" stroke="#2a3c8a" stroke-width="1.1"/>
<ellipse cx="975.5" cy="260.6" rx="3.7" ry="2.8" fill="none" stroke="#2a3c8a" stroke-width="1.1"/>
<ellipse cx="974.1" cy="256.4" rx="3.7" ry="2.8" fill="none" stroke="#2a3c8a" stroke-width="1.1"/>
<ellipse cx="978.6" cy="253.5" rx="3.7" ry="2.8" fill="none" stroke="#2a3c8a" stroke-width="1.1"/>
<ellipse cx="984.5" cy="254.8" rx="3.7" ry="2.8" fill="none" stroke="#2a3c8a" stroke-width="1.1"/>
<circle cx="980" cy="257.7" r="1.6" fill="#2a3c8a"/>
<path d="M979.5,287 C978.5,278 972.5,275 968.5,275.5 C962.5,276 961.0,283 966.5,285.5" fill="none" stroke="#b51f34" stroke-width="6.3" stroke-linecap="round"/>
<path d="M979.5,287 C980.5,278 986.5,275 990.5,275.5 C996.5,276 998.0,283 992.5,285.5" fill="none" stroke="#b51f34" stroke-width="6.3" stroke-linecap="round"/>
<path d="M979.5,283 L979.5,301" stroke="#b51f34" stroke-width="5.5"/>
<polygon points="976.5,297 982.5,297 988.0,306 971.0,306" fill="#b51f34"/>
<text x="939.7" y="236" font-size="11.5" font-weight="bold" fill="#222" text-anchor="start" textLength="82" lengthAdjust="spacingAndGlyphs" >SARS-CoV-2</text>
<text x="616.9" y="285" font-size="11" font-weight="bold" fill="#111" text-anchor="start" textLength="33" lengthAdjust="spacingAndGlyphs" >TLR4</text>
<text x="922.9" y="284.8" font-size="11" font-weight="bold" fill="#111" text-anchor="start" textLength="30.5" lengthAdjust="spacingAndGlyphs" >TLR4</text>
<rect x="654" y="307" width="14" height="36" fill="#1d7a2d"/>
<rect x="962.6" y="307" width="12.2" height="36" fill="#1d7a2d"/>
<text x="597.5" y="333.5" font-size="11" font-weight="bold" fill="#111" text-anchor="start" textLength="50.8" lengthAdjust="spacingAndGlyphs" >MyD-88</text>
<text x="910.7" y="330.6" font-size="11" font-weight="bold" fill="#111" text-anchor="start" textLength="50.3" lengthAdjust="spacingAndGlyphs" >MyD-88</text>
<line x1="649" y1="378.7" x2="707.5" y2="378.7" stroke="#111" stroke-width="1.8"/>
<path d="M682,378.7 L682,369.7 L696,369.7" fill="none" stroke="#111" stroke-width="1.8"/>
<polygon points="695,365.7 703,369.7 695,373.7" fill="#111"/>
<line x1="660" y1="354.5" x2="673" y2="365.5" stroke="#111" stroke-width="1.5" marker-end="url(#ah)"/>
<line x1="958" y1="376.7" x2="1015.6" y2="376.7" stroke="#111" stroke-width="1.8"/>
<path d="M989,376.7 L989,367.7 L1003,367.7" fill="none" stroke="#111" stroke-width="1.8"/>
<polygon points="1002,363.7 1010,367.7 1002,371.7" fill="#111"/>
<line x1="965.6" y1="350.4" x2="979.4" y2="364" stroke="#111" stroke-width="1.5" marker-end="url(#ah)"/>
<text x="677" y="359.2" font-size="11" font-weight="bold" fill="#111" text-anchor="start" textLength="63" lengthAdjust="spacingAndGlyphs" >ZONULIN</text>
<text x="984" y="360" font-size="11" font-weight="bold" fill="#111" text-anchor="start" textLength="62" lengthAdjust="spacingAndGlyphs" >ZONULIN</text>
<text x="629.6" y="391.6" font-size="11.5" font-weight="bold" fill="#2a1a10" text-anchor="start" textLength="113.3" lengthAdjust="spacingAndGlyphs" >Proinflammatory</text>
<text x="654.5" y="403.5" font-size="11.5" font-weight="bold" fill="#2a1a10" text-anchor="start" textLength="63.8" lengthAdjust="spacingAndGlyphs" >cytokines</text>
<text x="931" y="391.6" font-size="11.5" font-weight="bold" fill="#2a1a10" text-anchor="start" textLength="114" lengthAdjust="spacingAndGlyphs" >Proinflammatory</text>
<text x="955" y="403.6" font-size="11.5" font-weight="bold" fill="#2a1a10" text-anchor="start" textLength="64.5" lengthAdjust="spacingAndGlyphs" >cytokines</text>
<path d="M788.4,284 L788.4,299 M791.6,284 L791.6,299" fill="none" stroke="#262a6a" stroke-width="2"/>
<path d="M788.4,284 L790,299" stroke="#8a8aa0" stroke-width="1"/>
<path d="M782,277 L790,284 L798,277" fill="none" stroke="#262a6a" stroke-width="4.2" stroke-linecap="round" stroke-linejoin="round"/>
<text x="809" y="286" font-size="11" font-weight="bold" fill="#111" text-anchor="start" textLength="35" lengthAdjust="spacingAndGlyphs" >PAR2</text>
<path d="M1133.4,284 L1133.4,299 M1136.6,284 L1136.6,299" fill="none" stroke="#262a6a" stroke-width="2"/>
<path d="M1133.4,284 L1135,299" stroke="#8a8aa0" stroke-width="1"/>
<path d="M1127,277 L1135,284 L1143,277" fill="none" stroke="#262a6a" stroke-width="4.2" stroke-linecap="round" stroke-linejoin="round"/>
<text x="1155.8" y="284.8" font-size="11" font-weight="bold" fill="#111" text-anchor="start" textLength="35.7" lengthAdjust="spacingAndGlyphs" >PAR2</text>
<polygon points="1134.5,257 1147,265.6 1134.5,274.2 1122,265.6" fill="#2d9a3a" stroke="#1c6a28" stroke-width="1"/>
<text x="1052.6" y="272.6" font-size="11" font-weight="bold" fill="#111" text-anchor="start" textLength="62.4" lengthAdjust="spacingAndGlyphs" >ZONULIN</text>
<path d="M1013.5,335 C1015,290 1022,245 1055,236 C1080,230 1098,240 1108,250" fill="none" stroke="#111" stroke-width="2"/>
<polygon points="1100,243 1114,256 1096,254" fill="#111"/>
<line x1="1139.6" y1="306" x2="1160" y2="325" stroke="#111" stroke-width="1.5" marker-end="url(#ah)"/>
<text x="1167.5" y="342" font-size="13" font-weight="bold" fill="#2a1e14" text-anchor="start" textLength="16.5" lengthAdjust="spacingAndGlyphs" >TJ</text>
<text x="1120.5" y="358.7" font-size="12.8" font-weight="bold" fill="#2a1e14" text-anchor="start" textLength="115" lengthAdjust="spacingAndGlyphs" >disassembling</text>
<path d="M731.8,345.5 Q735.8,343.5 737.8,338.5 C737.8,328 739.8,330 743.8,330 C747.8,330 749.8,328 749.8,336.5 C749.8,344.5 751.8,345.5 754.3,345.5 C756.8,345.5 758.8,344.5 758.8,336.5 C758.8,328 760.8,330 764.8,330 C768.8,330 770.8,328 770.8,338.5 Q771.8,344.5 774.8,345.5" fill="none" stroke="#1f5c5a" stroke-width="2.4" stroke-linecap="round"/>
<path d="M734.5,366.5 Q738.5,364.5 740.5,359.5 C740.5,349 742.5,351 746.5,351 C750.5,351 752.5,349 752.5,357.5 C752.5,365.5 754.5,366.5 757.0,366.5 C759.5,366.5 761.5,365.5 761.5,357.5 C761.5,349 763.5,351 767.5,351 C771.5,351 773.5,349 773.5,359.5 Q774.5,365.5 777.5,366.5" fill="none" stroke="#1f5c5a" stroke-width="2.4" stroke-linecap="round"/>
<text x="778.5" y="351" font-size="16.7" font-weight="bold" fill="#111" text-anchor="start" textLength="21.8" lengthAdjust="spacingAndGlyphs" >TJ</text>
<path d="M1035,321 L1056,321 A4.5,4.5 0 0 1 1056,330 L1035,330 A4.5,4.5 0 0 0 1035,339 L1056,339 A4.5,4.5 0 0 1 1056,348 L1035,348" fill="none" stroke="#24605e" stroke-width="2.4" stroke-linecap="round"/>
<path d="M1110,321 L1110,321 A4.5,4.5 0 0 0 1110,330 L1130,330 A4.5,4.5 0 0 1 1130,339 L1110,339 A4.5,4.5 0 0 0 1110,348 L1130,348" fill="none" stroke="#24605e" stroke-width="2.4" stroke-linecap="round"/>
<ellipse cx="1090.5" cy="314.8" rx="8.37" ry="6.53" fill="#163a6c"/>
<line x1="1090.5" y1="314.8" x2="1101.8" y2="314.8" stroke="#163a6c" stroke-width="2.16"/>
<circle cx="1101.8" cy="314.8" r="2.16" fill="#163a6c"/>
<line x1="1090.5" y1="314.8" x2="1100.3" y2="319.2" stroke="#163a6c" stroke-width="2.16"/>
<circle cx="1100.3" cy="319.2" r="2.16" fill="#163a6c"/>
<line x1="1090.5" y1="314.8" x2="1096.2" y2="322.5" stroke="#163a6c" stroke-width="2.16"/>
<circle cx="1096.2" cy="322.5" r="2.16" fill="#163a6c"/>
<line x1="1090.5" y1="314.8" x2="1090.5" y2="323.6" stroke="#163a6c" stroke-width="2.16"/>
<circle cx="1090.5" cy="323.6" r="2.16" fill="#163a6c"/>
<line x1="1090.5" y1="314.8" x2="1084.8" y2="322.5" stroke="#163a6c" stroke-width="2.16"/>
<circle cx="1084.8" cy="322.5" r="2.16" fill="#163a6c"/>
<line x1="1090.5" y1="314.8" x2="1080.7" y2="319.2" stroke="#163a6c" stroke-width="2.16"/>
<circle cx="1080.7" cy="319.2" r="2.16" fill="#163a6c"/>
<line x1="1090.5" y1="314.8" x2="1079.2" y2="314.8" stroke="#163a6c" stroke-width="2.16"/>
<circle cx="1079.2" cy="314.8" r="2.16" fill="#163a6c"/>
<line x1="1090.5" y1="314.8" x2="1080.7" y2="310.4" stroke="#163a6c" stroke-width="2.16"/>
<circle cx="1080.7" cy="310.4" r="2.16" fill="#163a6c"/>
<line x1="1090.5" y1="314.8" x2="1084.8" y2="307.1" stroke="#163a6c" stroke-width="2.16"/>
<circle cx="1084.8" cy="307.1" r="2.16" fill="#163a6c"/>
<line x1="1090.5" y1="314.8" x2="1090.5" y2="306.0" stroke="#163a6c" stroke-width="2.16"/>
<circle cx="1090.5" cy="306.0" r="2.16" fill="#163a6c"/>
<line x1="1090.5" y1="314.8" x2="1096.2" y2="307.1" stroke="#163a6c" stroke-width="2.16"/>
<circle cx="1096.2" cy="307.1" r="2.16" fill="#163a6c"/>
<line x1="1090.5" y1="314.8" x2="1100.3" y2="310.4" stroke="#163a6c" stroke-width="2.16"/>
<circle cx="1100.3" cy="310.4" r="2.16" fill="#163a6c"/>
<ellipse cx="1073.4" cy="336.6" rx="5.89" ry="4.59" fill="#163a6c"/>
<line x1="1073.4" y1="336.6" x2="1081.4" y2="336.6" stroke="#163a6c" stroke-width="1.52"/>
<circle cx="1081.4" cy="336.6" r="1.52" fill="#163a6c"/>
<line x1="1073.4" y1="336.6" x2="1080.3" y2="339.7" stroke="#163a6c" stroke-width="1.52"/>
<circle cx="1080.3" cy="339.7" r="1.52" fill="#163a6c"/>
<line x1="1073.4" y1="336.6" x2="1077.4" y2="342.0" stroke="#163a6c" stroke-width="1.52"/>
<circle cx="1077.4" cy="342.0" r="1.52" fill="#163a6c"/>
<line x1="1073.4" y1="336.6" x2="1073.4" y2="342.8" stroke="#163a6c" stroke-width="1.52"/>
<circle cx="1073.4" cy="342.8" r="1.52" fill="#163a6c"/>
<line x1="1073.4" y1="336.6" x2="1069.4" y2="342.0" stroke="#163a6c" stroke-width="1.52"/>
<circle cx="1069.4" cy="342.0" r="1.52" fill="#163a6c"/>
<line x1="1073.4" y1="336.6" x2="1066.5" y2="339.7" stroke="#163a6c" stroke-width="1.52"/>
<circle cx="1066.5" cy="339.7" r="1.52" fill="#163a6c"/>
<line x1="1073.4" y1="336.6" x2="1065.4" y2="336.6" stroke="#163a6c" stroke-width="1.52"/>
<circle cx="1065.4" cy="336.6" r="1.52" fill="#163a6c"/>
<line x1="1073.4" y1="336.6" x2="1066.5" y2="333.5" stroke="#163a6c" stroke-width="1.52"/>
<circle cx="1066.5" cy="333.5" r="1.52" fill="#163a6c"/>
<line x1="1073.4" y1="336.6" x2="1069.4" y2="331.2" stroke="#163a6c" stroke-width="1.52"/>
<circle cx="1069.4" cy="331.2" r="1.52" fill="#163a6c"/>
<line x1="1073.4" y1="336.6" x2="1073.4" y2="330.4" stroke="#163a6c" stroke-width="1.52"/>
<circle cx="1073.4" cy="330.4" r="1.52" fill="#163a6c"/>
<line x1="1073.4" y1="336.6" x2="1077.4" y2="331.2" stroke="#163a6c" stroke-width="1.52"/>
<circle cx="1077.4" cy="331.2" r="1.52" fill="#163a6c"/>
<line x1="1073.4" y1="336.6" x2="1080.3" y2="333.5" stroke="#163a6c" stroke-width="1.52"/>
<circle cx="1080.3" cy="333.5" r="1.52" fill="#163a6c"/>
<ellipse cx="1092.9" cy="352.2" rx="5.89" ry="4.59" fill="#163a6c"/>
<line x1="1092.9" y1="352.2" x2="1100.9" y2="352.2" stroke="#163a6c" stroke-width="1.52"/>
<circle cx="1100.9" cy="352.2" r="1.52" fill="#163a6c"/>
<line x1="1092.9" y1="352.2" x2="1099.8" y2="355.3" stroke="#163a6c" stroke-width="1.52"/>
<circle cx="1099.8" cy="355.3" r="1.52" fill="#163a6c"/>
<line x1="1092.9" y1="352.2" x2="1096.9" y2="357.6" stroke="#163a6c" stroke-width="1.52"/>
<circle cx="1096.9" cy="357.6" r="1.52" fill="#163a6c"/>
<line x1="1092.9" y1="352.2" x2="1092.9" y2="358.4" stroke="#163a6c" stroke-width="1.52"/>
<circle cx="1092.9" cy="358.4" r="1.52" fill="#163a6c"/>
<line x1="1092.9" y1="352.2" x2="1088.9" y2="357.6" stroke="#163a6c" stroke-width="1.52"/>
<circle cx="1088.9" cy="357.6" r="1.52" fill="#163a6c"/>
<line x1="1092.9" y1="352.2" x2="1086.0" y2="355.3" stroke="#163a6c" stroke-width="1.52"/>
<circle cx="1086.0" cy="355.3" r="1.52" fill="#163a6c"/>
<line x1="1092.9" y1="352.2" x2="1084.9" y2="352.2" stroke="#163a6c" stroke-width="1.52"/>
<circle cx="1084.9" cy="352.2" r="1.52" fill="#163a6c"/>
<line x1="1092.9" y1="352.2" x2="1086.0" y2="349.1" stroke="#163a6c" stroke-width="1.52"/>
<circle cx="1086.0" cy="349.1" r="1.52" fill="#163a6c"/>
<line x1="1092.9" y1="352.2" x2="1088.9" y2="346.8" stroke="#163a6c" stroke-width="1.52"/>
<circle cx="1088.9" cy="346.8" r="1.52" fill="#163a6c"/>
<line x1="1092.9" y1="352.2" x2="1092.9" y2="346.0" stroke="#163a6c" stroke-width="1.52"/>
<circle cx="1092.9" cy="346.0" r="1.52" fill="#163a6c"/>
<line x1="1092.9" y1="352.2" x2="1096.9" y2="346.8" stroke="#163a6c" stroke-width="1.52"/>
<circle cx="1096.9" cy="346.8" r="1.52" fill="#163a6c"/>
<line x1="1092.9" y1="352.2" x2="1099.8" y2="349.1" stroke="#163a6c" stroke-width="1.52"/>
<circle cx="1099.8" cy="349.1" r="1.52" fill="#163a6c"/>
<ellipse cx="1070.3" cy="363.9" rx="5.89" ry="4.59" fill="#163a6c"/>
<line x1="1070.3" y1="363.9" x2="1078.3" y2="363.9" stroke="#163a6c" stroke-width="1.52"/>
<circle cx="1078.3" cy="363.9" r="1.52" fill="#163a6c"/>
<line x1="1070.3" y1="363.9" x2="1077.2" y2="367.0" stroke="#163a6c" stroke-width="1.52"/>
<circle cx="1077.2" cy="367.0" r="1.52" fill="#163a6c"/>
<line x1="1070.3" y1="363.9" x2="1074.3" y2="369.3" stroke="#163a6c" stroke-width="1.52"/>
<circle cx="1074.3" cy="369.3" r="1.52" fill="#163a6c"/>
<line x1="1070.3" y1="363.9" x2="1070.3" y2="370.1" stroke="#163a6c" stroke-width="1.52"/>
<circle cx="1070.3" cy="370.1" r="1.52" fill="#163a6c"/>
<line x1="1070.3" y1="363.9" x2="1066.3" y2="369.3" stroke="#163a6c" stroke-width="1.52"/>
<circle cx="1066.3" cy="369.3" r="1.52" fill="#163a6c"/>
<line x1="1070.3" y1="363.9" x2="1063.4" y2="367.0" stroke="#163a6c" stroke-width="1.52"/>
<circle cx="1063.4" cy="367.0" r="1.52" fill="#163a6c"/>
<line x1="1070.3" y1="363.9" x2="1062.3" y2="363.9" stroke="#163a6c" stroke-width="1.52"/>
<circle cx="1062.3" cy="363.9" r="1.52" fill="#163a6c"/>
<line x1="1070.3" y1="363.9" x2="1063.4" y2="360.8" stroke="#163a6c" stroke-width="1.52"/>
<circle cx="1063.4" cy="360.8" r="1.52" fill="#163a6c"/>
<line x1="1070.3" y1="363.9" x2="1066.3" y2="358.5" stroke="#163a6c" stroke-width="1.52"/>
<circle cx="1066.3" cy="358.5" r="1.52" fill="#163a6c"/>
<line x1="1070.3" y1="363.9" x2="1070.3" y2="357.7" stroke="#163a6c" stroke-width="1.52"/>
<circle cx="1070.3" cy="357.7" r="1.52" fill="#163a6c"/>
<line x1="1070.3" y1="363.9" x2="1074.3" y2="358.5" stroke="#163a6c" stroke-width="1.52"/>
<circle cx="1074.3" cy="358.5" r="1.52" fill="#163a6c"/>
<line x1="1070.3" y1="363.9" x2="1077.2" y2="360.8" stroke="#163a6c" stroke-width="1.52"/>
<circle cx="1077.2" cy="360.8" r="1.52" fill="#163a6c"/>
<ellipse cx="1090.5" cy="385.7" rx="8.37" ry="6.53" fill="#163a6c"/>
<line x1="1090.5" y1="385.7" x2="1101.8" y2="385.7" stroke="#163a6c" stroke-width="2.16"/>
<circle cx="1101.8" cy="385.7" r="2.16" fill="#163a6c"/>
<line x1="1090.5" y1="385.7" x2="1100.3" y2="390.1" stroke="#163a6c" stroke-width="2.16"/>
<circle cx="1100.3" cy="390.1" r="2.16" fill="#163a6c"/>
<line x1="1090.5" y1="385.7" x2="1096.2" y2="393.4" stroke="#163a6c" stroke-width="2.16"/>
<circle cx="1096.2" cy="393.4" r="2.16" fill="#163a6c"/>
<line x1="1090.5" y1="385.7" x2="1090.5" y2="394.5" stroke="#163a6c" stroke-width="2.16"/>
<circle cx="1090.5" cy="394.5" r="2.16" fill="#163a6c"/>
<line x1="1090.5" y1="385.7" x2="1084.8" y2="393.4" stroke="#163a6c" stroke-width="2.16"/>
<circle cx="1084.8" cy="393.4" r="2.16" fill="#163a6c"/>
<line x1="1090.5" y1="385.7" x2="1080.7" y2="390.1" stroke="#163a6c" stroke-width="2.16"/>
<circle cx="1080.7" cy="390.1" r="2.16" fill="#163a6c"/>
<line x1="1090.5" y1="385.7" x2="1079.2" y2="385.7" stroke="#163a6c" stroke-width="2.16"/>
<circle cx="1079.2" cy="385.7" r="2.16" fill="#163a6c"/>
<line x1="1090.5" y1="385.7" x2="1080.7" y2="381.3" stroke="#163a6c" stroke-width="2.16"/>
<circle cx="1080.7" cy="381.3" r="2.16" fill="#163a6c"/>
<line x1="1090.5" y1="385.7" x2="1084.8" y2="378.0" stroke="#163a6c" stroke-width="2.16"/>
<circle cx="1084.8" cy="378.0" r="2.16" fill="#163a6c"/>
<line x1="1090.5" y1="385.7" x2="1090.5" y2="376.9" stroke="#163a6c" stroke-width="2.16"/>
<circle cx="1090.5" cy="376.9" r="2.16" fill="#163a6c"/>
<line x1="1090.5" y1="385.7" x2="1096.2" y2="378.0" stroke="#163a6c" stroke-width="2.16"/>
<circle cx="1096.2" cy="378.0" r="2.16" fill="#163a6c"/>
<line x1="1090.5" y1="385.7" x2="1100.3" y2="381.3" stroke="#163a6c" stroke-width="2.16"/>
<circle cx="1100.3" cy="381.3" r="2.16" fill="#163a6c"/>
<ellipse cx="1066.4" cy="406" rx="8.37" ry="6.53" fill="#163a6c"/>
<line x1="1066.4" y1="406.0" x2="1077.7" y2="406.0" stroke="#163a6c" stroke-width="2.16"/>
<circle cx="1077.7" cy="406.0" r="2.16" fill="#163a6c"/>
<line x1="1066.4" y1="406.0" x2="1076.2" y2="410.4" stroke="#163a6c" stroke-width="2.16"/>
<circle cx="1076.2" cy="410.4" r="2.16" fill="#163a6c"/>
<line x1="1066.4" y1="406.0" x2="1072.1" y2="413.7" stroke="#163a6c" stroke-width="2.16"/>
<circle cx="1072.1" cy="413.7" r="2.16" fill="#163a6c"/>
<line x1="1066.4" y1="406.0" x2="1066.4" y2="414.8" stroke="#163a6c" stroke-width="2.16"/>
<circle cx="1066.4" cy="414.8" r="2.16" fill="#163a6c"/>
<line x1="1066.4" y1="406.0" x2="1060.7" y2="413.7" stroke="#163a6c" stroke-width="2.16"/>
<circle cx="1060.7" cy="413.7" r="2.16" fill="#163a6c"/>
<line x1="1066.4" y1="406.0" x2="1056.6" y2="410.4" stroke="#163a6c" stroke-width="2.16"/>
<circle cx="1056.6" cy="410.4" r="2.16" fill="#163a6c"/>
<line x1="1066.4" y1="406.0" x2="1055.1" y2="406.0" stroke="#163a6c" stroke-width="2.16"/>
<circle cx="1055.1" cy="406.0" r="2.16" fill="#163a6c"/>
<line x1="1066.4" y1="406.0" x2="1056.6" y2="401.6" stroke="#163a6c" stroke-width="2.16"/>
<circle cx="1056.6" cy="401.6" r="2.16" fill="#163a6c"/>
<line x1="1066.4" y1="406.0" x2="1060.7" y2="398.3" stroke="#163a6c" stroke-width="2.16"/>
<circle cx="1060.7" cy="398.3" r="2.16" fill="#163a6c"/>
<line x1="1066.4" y1="406.0" x2="1066.4" y2="397.2" stroke="#163a6c" stroke-width="2.16"/>
<circle cx="1066.4" cy="397.2" r="2.16" fill="#163a6c"/>
<line x1="1066.4" y1="406.0" x2="1072.1" y2="398.3" stroke="#163a6c" stroke-width="2.16"/>
<circle cx="1072.1" cy="398.3" r="2.16" fill="#163a6c"/>
<line x1="1066.4" y1="406.0" x2="1076.2" y2="401.6" stroke="#163a6c" stroke-width="2.16"/>
<circle cx="1076.2" cy="401.6" r="2.16" fill="#163a6c"/>
<rect x="901.5" y="337" width="9.5" height="46" fill="#5a3c10"/>
<polygon points="885,381.8 927.2,381.8 905.4,412.6" fill="#5a3c10"/>
<text x="787.4" y="433" font-size="14.8" font-weight="bold" fill="#111" text-anchor="start" textLength="237" lengthAdjust="spacingAndGlyphs" >PARACELLULAR PATHWAY</text>
<path d="M282,650 L378,727 M263.5,555.7 L378,453" stroke="#e0a0a6" stroke-width="1.2"/>
<rect x="379.5" y="453.5" width="870" height="275" fill="#fee4d8" stroke="#eca9ae" stroke-width="2"/>
<line x1="380" y1="453" x2="380" y2="729" stroke="#eca9ae" stroke-width="4"/>
<rect x="382" y="500" width="866" height="161" fill="#fdc6ca"/>
<rect x="382" y="640" width="200" height="21" fill="#f6b9be"/>
<text x="404" y="478" font-size="17.5" font-weight="normal" fill="#9a7560" text-anchor="start" textLength="54.7" lengthAdjust="spacingAndGlyphs"  stroke="#9a7560" stroke-width="0.5">Brain</text>
<text x="404" y="549.8" font-size="17.5" font-weight="normal" fill="#a44a55" text-anchor="start" textLength="63" lengthAdjust="spacingAndGlyphs"  stroke="#a44a55" stroke-width="0.5">Blood</text>
<text x="404.4" y="706.7" font-size="17.5" font-weight="normal" fill="#9a7560" text-anchor="start" textLength="54.7" lengthAdjust="spacingAndGlyphs"  stroke="#9a7560" stroke-width="0.5">Brain</text>
<text x="1185.2" y="477.4" font-size="19.5" font-weight="bold" fill="#111" text-anchor="start" textLength="49.8" lengthAdjust="spacingAndGlyphs" >BBB</text>
<path d="M739,453 L767,453 L767,474 C767,480 772,482 780,482 L846,482 C852,482 853,488 853,488 C853,494 848,494 846,494 L660,494 C655,494 654,488 654,488 C654,482 658,482 662,482 L726,482 C734,482 739,480 739,474 Z" fill="#a8397a"/>
<path d="M389,498.5 L502,498.5 C506,498.5 506,506.5 502,508.5 C476,512.5 470.5,525 445.5,525 C420.5,525 415,512.5 389,508.5 C385,506.5 385,498.5 389,498.5 Z" fill="#e88c92" stroke="#c9515d" stroke-width="1.3"/>
<ellipse cx="445.5" cy="514.5" rx="12" ry="4.5" fill="#e0505c"/>
<path d="M514,498.5 L628,498.5 C632,498.5 632,506.5 628,508.5 C602,512.5 596.0,525 571.0,525 C546.0,525 540,512.5 514,508.5 C510,506.5 510,498.5 514,498.5 Z" fill="#e88c92" stroke="#c9515d" stroke-width="1.3"/>
<ellipse cx="571.0" cy="514.5" rx="12" ry="4.5" fill="#e0505c"/>
<path d="M640,498.5 L753,498.5 C757,498.5 757,506.5 753,508.5 C727,512.5 721.5,525 696.5,525 C671.5,525 666,512.5 640,508.5 C636,506.5 636,498.5 640,498.5 Z" fill="#e88c92" stroke="#c9515d" stroke-width="1.3"/>
<ellipse cx="696.5" cy="514.5" rx="12" ry="4.5" fill="#e0505c"/>
<path d="M765,498.5 L878,498.5 C882,498.5 882,506.5 878,508.5 C852,512.5 846.5,525 821.5,525 C796.5,525 791,512.5 765,508.5 C761,506.5 761,498.5 765,498.5 Z" fill="#e88c92" stroke="#c9515d" stroke-width="1.3"/>
<ellipse cx="821.5" cy="514.5" rx="12" ry="4.5" fill="#e0505c"/>
<path d="M890,498.5 L1003,498.5 C1007,498.5 1007,506.5 1003,508.5 C977,512.5 971.5,525 946.5,525 C921.5,525 916,512.5 890,508.5 C886,506.5 886,498.5 890,498.5 Z" fill="#e88c92" stroke="#c9515d" stroke-width="1.3"/>
<ellipse cx="946.5" cy="514.5" rx="12" ry="4.5" fill="#e0505c"/>
<path d="M1015,498.5 L1129,498.5 C1133,498.5 1133,506.5 1129,508.5 C1103,512.5 1097.0,525 1072.0,525 C1047.0,525 1041,512.5 1015,508.5 C1011,506.5 1011,498.5 1015,498.5 Z" fill="#e88c92" stroke="#c9515d" stroke-width="1.3"/>
<ellipse cx="1072.0" cy="514.5" rx="12" ry="4.5" fill="#e0505c"/>
<path d="M1141,498.5 L1254,498.5 C1258,498.5 1258,506.5 1254,508.5 C1228,512.5 1222.5,525 1197.5,525 C1172.5,525 1167,512.5 1141,508.5 C1137,506.5 1137,498.5 1141,498.5 Z" fill="#e88c92" stroke="#c9515d" stroke-width="1.3"/>
<ellipse cx="1197.5" cy="514.5" rx="12" ry="4.5" fill="#e0505c"/>
<rect x="505.5" y="500" width="5" height="11" rx="2.5" fill="#2a0a28"/>
<rect x="631.5" y="500" width="5" height="11" rx="2.5" fill="#2a0a28"/>
<rect x="756.5" y="500" width="5" height="11" rx="2.5" fill="#2a0a28"/>
<rect x="881.5" y="500" width="5" height="11" rx="2.5" fill="#2a0a28"/>
<rect x="1006.5" y="500" width="5" height="11" rx="2.5" fill="#2a0a28"/>
<rect x="1132.5" y="500" width="5" height="11" rx="2.5" fill="#2a0a28"/>
<path d="M392.5,651 L476,651 C480,651 480,644 476,642 C455,639 454.25,631.5 434.25,631.5 C414.25,631.5 413.5,639 392.5,642 C388.5,644 388.5,651 392.5,651 Z" fill="#e88c92" stroke="#c9515d" stroke-width="1.3"/>
<ellipse cx="429.25" cy="638.5" rx="10" ry="3.5" fill="#e0505c"/>
<path d="M489,651 L571,651 C575,651 575,644 571,642 C550,639 550.0,631.5 530.0,631.5 C510.0,631.5 510,639 489,642 C485,644 485,651 489,651 Z" fill="#e88c92" stroke="#c9515d" stroke-width="1.3"/>
<ellipse cx="525.0" cy="638.5" rx="10" ry="3.5" fill="#e0505c"/>
<rect x="480" y="639" width="5" height="11" rx="2.5" fill="#2a0a28"/>
<path d="M442,660 L606,660 C612,660 612,666 612,666 C612,672 606,672 604,672 L544,672 C540,672 537,676 537,680 L537,703 L511,703 L511,680 C511,676 508,672 504,672 L442,672 C436,672 436,666 436,666 C436,660 440,660 442,660 Z" fill="#a8397a"/>
<path d="M590,658 L893,658 C903,658 906,650 906,636 C906,622 900,615 888,613 C850,605 795,586 740,586 C700,586 660,604 620,612 C590,618 577,628 576,642 C576,652 581,658 590,658 Z" fill="#e38f94" stroke="#b6323f" stroke-width="1.8"/>
<ellipse cx="741" cy="612.7" rx="33.6" ry="12.8" fill="#e56870"/>
<path d="M724,616 L760,616 M742,616 L742,609 L753,609" stroke="#222" stroke-width="1.5" fill="none"/>
<polygon points="752,606 758,609 752,612" fill="#222"/>
<text x="773" y="616.5" font-size="11" font-weight="bold" fill="#222" text-anchor="start" textLength="62.6" lengthAdjust="spacingAndGlyphs" >ZONULIN</text>
<polygon points="802,624 810,632 802,640 794,632" fill="#3aa23f" stroke="#1e6a2a" stroke-width="1"/>
<line x1="688.6" y1="553.5" x2="693.9" y2="555.0" stroke="#282450" stroke-width="1.8"/>
<circle cx="693.9" cy="555.0" r="2.6" fill="#282450"/>
<line x1="684.8" y1="557.9" x2="688.7" y2="561.8" stroke="#282450" stroke-width="1.8"/>
<circle cx="688.7" cy="561.8" r="2.6" fill="#282450"/>
<line x1="678.1" y1="560.5" x2="679.6" y2="565.8" stroke="#282450" stroke-width="1.8"/>
<circle cx="679.6" cy="565.8" r="2.6" fill="#282450"/>
<line x1="670.5" y1="560.5" x2="669.0" y2="565.8" stroke="#282450" stroke-width="1.8"/>
<circle cx="669.0" cy="565.8" r="2.6" fill="#282450"/>
<line x1="663.8" y1="557.9" x2="659.9" y2="561.8" stroke="#282450" stroke-width="1.8"/>
<circle cx="659.9" cy="561.8" r="2.6" fill="#282450"/>
<line x1="660.0" y1="553.5" x2="654.7" y2="555.0" stroke="#282450" stroke-width="1.8"/>
<circle cx="654.7" cy="555.0" r="2.6" fill="#282450"/>
<line x1="660.0" y1="548.5" x2="654.7" y2="547.0" stroke="#282450" stroke-width="1.8"/>
<circle cx="654.7" cy="547.0" r="2.6" fill="#282450"/>
<line x1="663.8" y1="544.1" x2="659.9" y2="540.2" stroke="#282450" stroke-width="1.8"/>
<circle cx="659.9" cy="540.2" r="2.6" fill="#282450"/>
<line x1="670.5" y1="541.5" x2="669.0" y2="536.2" stroke="#282450" stroke-width="1.8"/>
<circle cx="669.0" cy="536.2" r="2.6" fill="#282450"/>
<line x1="678.1" y1="541.5" x2="679.6" y2="536.2" stroke="#282450" stroke-width="1.8"/>
<circle cx="679.6" cy="536.2" r="2.6" fill="#282450"/>
<line x1="684.8" y1="544.1" x2="688.7" y2="540.2" stroke="#282450" stroke-width="1.8"/>
<circle cx="688.7" cy="540.2" r="2.6" fill="#282450"/>
<line x1="688.6" y1="548.5" x2="693.9" y2="547.0" stroke="#282450" stroke-width="1.8"/>
<circle cx="693.9" cy="547.0" r="2.6" fill="#282450"/>
<ellipse cx="674.3" cy="551" rx="14.8" ry="9.8" fill="#e6eefa" stroke="#282450" stroke-width="2.6"/>
<ellipse cx="674.3" cy="551" rx="10.4" ry="6.9" fill="#c6d4f0" opacity="0.7"/>
<ellipse cx="680.0" cy="552.2" rx="3.6" ry="2.5" fill="none" stroke="#4a66b0" stroke-width="1.4"/>
<ellipse cx="675.6" cy="554.8" rx="3.6" ry="2.5" fill="none" stroke="#4a66b0" stroke-width="1.4"/>
<ellipse cx="670.0" cy="553.7" rx="3.6" ry="2.5" fill="none" stroke="#4a66b0" stroke-width="1.4"/>
<ellipse cx="668.6" cy="549.8" rx="3.6" ry="2.5" fill="none" stroke="#4a66b0" stroke-width="1.4"/>
<ellipse cx="673.0" cy="547.2" rx="3.6" ry="2.5" fill="none" stroke="#4a66b0" stroke-width="1.4"/>
<ellipse cx="678.6" cy="548.3" rx="3.6" ry="2.5" fill="none" stroke="#4a66b0" stroke-width="1.4"/>
<circle cx="674.3" cy="551" r="1.5" fill="#4a66b0"/>
<polygon points="671.8,571.4 684.5,577.7 671.8,584 659,577.7" fill="#2b4aa6"/>
<line x1="672" y1="584" x2="672" y2="621" stroke="#1c1c3a" stroke-width="3.6"/>
<rect x="676" y="612.7" width="7.4" height="16.3" fill="#1d7a2d"/>
<text x="622.5" y="635.8" font-size="11" font-weight="bold" fill="#222" text-anchor="start" textLength="51.3" lengthAdjust="spacingAndGlyphs" >MyD-88</text>
<line x1="690" y1="626" x2="704" y2="617" stroke="#111" stroke-width="1.6" marker-end="url(#ahs)"/>
<line x1="672" y1="641" x2="659" y2="668" stroke="#111" stroke-width="1.8" marker-end="url(#ahs)"/>
<text x="571" y="690" font-size="15.5" font-weight="bold" fill="#1a1a1a" text-anchor="start" textLength="196" lengthAdjust="spacingAndGlyphs" >Proinflammatory CK's</text>
<path d="M958,656 L1222,656 C1234,656 1237,640 1232,628 C1228,618 1215,616 1195,613 C1160,600 1120,584 1085,583.5 C1045,584 1010,598 975,605 C955,610 946,622 946,638 C946,650 950,656 958,656 Z" fill="#e38f94" stroke="#b6323f" stroke-width="1.8"/>
<ellipse cx="1089.4" cy="610" rx="30" ry="13" fill="#e56870"/>
<text x="1083.5" y="617.5" font-size="16" font-weight="normal" fill="#222" text-anchor="start" textLength="20.5" lengthAdjust="spacingAndGlyphs"  stroke="#222" stroke-width="0.5">TJ</text>
<text x="1023.6" y="637" font-size="19" font-weight="normal" fill="#222" text-anchor="start" textLength="147" lengthAdjust="spacingAndGlyphs"  stroke="#222" stroke-width="0.5">disassembling</text>
<polygon points="1209,592.8 1220,599.8 1209,606.8 1198,599.8" fill="#2d4aa0"/>
<line x1="1209" y1="606" x2="1209" y2="638" stroke="#1c1c3a" stroke-width="3"/>
<text x="1208" y="577.7" font-size="9.5" font-weight="bold" fill="#222" text-anchor="middle" textLength="55" lengthAdjust="spacingAndGlyphs" >ZONULIN</text>
<text x="1208" y="591" font-size="9.5" font-weight="bold" fill="#222" text-anchor="middle" textLength="62" lengthAdjust="spacingAndGlyphs" >RECEPTOR</text>
<rect x="919.2" y="612" width="18.6" height="46" fill="#b8a878"/>
<polygon points="898,656.7 961.4,656.7 929.4,704.8" fill="#b8a878"/>
<path d="M899,627.5 L916,627.5 A3.25,3.25 0 0 1 916,634.0 L899,634.0 A3.25,3.25 0 0 0 899,640.5 L916,640.5 A3.25,3.25 0 0 1 916,647.0 L899,647.0" fill="none" stroke="#7a3a8c" stroke-width="1.8" stroke-linecap="round"/>
<path d="M943,627.5 L943,627.5 A3.25,3.25 0 0 0 943,634.0 L960,634.0 A3.25,3.25 0 0 1 960,640.5 L943,640.5 A3.25,3.25 0 0 0 943,647.0 L960,647.0" fill="none" stroke="#7a3a8c" stroke-width="1.8" stroke-linecap="round"/>
<ellipse cx="922.6" cy="613.6" rx="6.51" ry="5.08" fill="#173a6a"/>
<line x1="922.6" y1="613.6" x2="931.4" y2="613.6" stroke="#173a6a" stroke-width="1.68"/>
<circle cx="931.4" cy="613.6" r="1.68" fill="#173a6a"/>
<line x1="922.6" y1="613.6" x2="930.2" y2="617.0" stroke="#173a6a" stroke-width="1.68"/>
<circle cx="930.2" cy="617.0" r="1.68" fill="#173a6a"/>
<line x1="922.6" y1="613.6" x2="927.0" y2="619.6" stroke="#173a6a" stroke-width="1.68"/>
<circle cx="927.0" cy="619.6" r="1.68" fill="#173a6a"/>
<line x1="922.6" y1="613.6" x2="922.6" y2="620.5" stroke="#173a6a" stroke-width="1.68"/>
<circle cx="922.6" cy="620.5" r="1.68" fill="#173a6a"/>
<line x1="922.6" y1="613.6" x2="918.2" y2="619.6" stroke="#173a6a" stroke-width="1.68"/>
<circle cx="918.2" cy="619.6" r="1.68" fill="#173a6a"/>
<line x1="922.6" y1="613.6" x2="915.0" y2="617.0" stroke="#173a6a" stroke-width="1.68"/>
<circle cx="915.0" cy="617.0" r="1.68" fill="#173a6a"/>
<line x1="922.6" y1="613.6" x2="913.8" y2="613.6" stroke="#173a6a" stroke-width="1.68"/>
<circle cx="913.8" cy="613.6" r="1.68" fill="#173a6a"/>
<line x1="922.6" y1="613.6" x2="915.0" y2="610.2" stroke="#173a6a" stroke-width="1.68"/>
<circle cx="915.0" cy="610.2" r="1.68" fill="#173a6a"/>
<line x1="922.6" y1="613.6" x2="918.2" y2="607.6" stroke="#173a6a" stroke-width="1.68"/>
<circle cx="918.2" cy="607.6" r="1.68" fill="#173a6a"/>
<line x1="922.6" y1="613.6" x2="922.6" y2="606.7" stroke="#173a6a" stroke-width="1.68"/>
<circle cx="922.6" cy="606.7" r="1.68" fill="#173a6a"/>
<line x1="922.6" y1="613.6" x2="927.0" y2="607.6" stroke="#173a6a" stroke-width="1.68"/>
<circle cx="927.0" cy="607.6" r="1.68" fill="#173a6a"/>
<line x1="922.6" y1="613.6" x2="930.2" y2="610.2" stroke="#173a6a" stroke-width="1.68"/>
<circle cx="930.2" cy="610.2" r="1.68" fill="#173a6a"/>
<ellipse cx="930.2" cy="637.3" rx="6.20" ry="4.84" fill="#173a6a"/>
<line x1="930.2" y1="637.3" x2="938.6" y2="637.3" stroke="#173a6a" stroke-width="1.60"/>
<circle cx="938.6" cy="637.3" r="1.60" fill="#173a6a"/>
<line x1="930.2" y1="637.3" x2="937.5" y2="640.6" stroke="#173a6a" stroke-width="1.60"/>
<circle cx="937.5" cy="640.6" r="1.60" fill="#173a6a"/>
<line x1="930.2" y1="637.3" x2="934.4" y2="643.0" stroke="#173a6a" stroke-width="1.60"/>
<circle cx="934.4" cy="643.0" r="1.60" fill="#173a6a"/>
<line x1="930.2" y1="637.3" x2="930.2" y2="643.9" stroke="#173a6a" stroke-width="1.60"/>
<circle cx="930.2" cy="643.9" r="1.60" fill="#173a6a"/>
<line x1="930.2" y1="637.3" x2="926.0" y2="643.0" stroke="#173a6a" stroke-width="1.60"/>
<circle cx="926.0" cy="643.0" r="1.60" fill="#173a6a"/>
<line x1="930.2" y1="637.3" x2="922.9" y2="640.6" stroke="#173a6a" stroke-width="1.60"/>
<circle cx="922.9" cy="640.6" r="1.60" fill="#173a6a"/>
<line x1="930.2" y1="637.3" x2="921.8" y2="637.3" stroke="#173a6a" stroke-width="1.60"/>
<circle cx="921.8" cy="637.3" r="1.60" fill="#173a6a"/>
<line x1="930.2" y1="637.3" x2="922.9" y2="634.0" stroke="#173a6a" stroke-width="1.60"/>
<circle cx="922.9" cy="634.0" r="1.60" fill="#173a6a"/>
<line x1="930.2" y1="637.3" x2="926.0" y2="631.6" stroke="#173a6a" stroke-width="1.60"/>
<circle cx="926.0" cy="631.6" r="1.60" fill="#173a6a"/>
<line x1="930.2" y1="637.3" x2="930.2" y2="630.7" stroke="#173a6a" stroke-width="1.60"/>
<circle cx="930.2" cy="630.7" r="1.60" fill="#173a6a"/>
<line x1="930.2" y1="637.3" x2="934.4" y2="631.6" stroke="#173a6a" stroke-width="1.60"/>
<circle cx="934.4" cy="631.6" r="1.60" fill="#173a6a"/>
<line x1="930.2" y1="637.3" x2="937.5" y2="634.0" stroke="#173a6a" stroke-width="1.60"/>
<circle cx="937.5" cy="634.0" r="1.60" fill="#173a6a"/>
<ellipse cx="925.1" cy="654.2" rx="6.20" ry="4.84" fill="#173a6a"/>
<line x1="925.1" y1="654.2" x2="933.5" y2="654.2" stroke="#173a6a" stroke-width="1.60"/>
<circle cx="933.5" cy="654.2" r="1.60" fill="#173a6a"/>
<line x1="925.1" y1="654.2" x2="932.4" y2="657.5" stroke="#173a6a" stroke-width="1.60"/>
<circle cx="932.4" cy="657.5" r="1.60" fill="#173a6a"/>
<line x1="925.1" y1="654.2" x2="929.3" y2="659.9" stroke="#173a6a" stroke-width="1.60"/>
<circle cx="929.3" cy="659.9" r="1.60" fill="#173a6a"/>
<line x1="925.1" y1="654.2" x2="925.1" y2="660.8" stroke="#173a6a" stroke-width="1.60"/>
<circle cx="925.1" cy="660.8" r="1.60" fill="#173a6a"/>
<line x1="925.1" y1="654.2" x2="920.9" y2="659.9" stroke="#173a6a" stroke-width="1.60"/>
<circle cx="920.9" cy="659.9" r="1.60" fill="#173a6a"/>
<line x1="925.1" y1="654.2" x2="917.8" y2="657.5" stroke="#173a6a" stroke-width="1.60"/>
<circle cx="917.8" cy="657.5" r="1.60" fill="#173a6a"/>
<line x1="925.1" y1="654.2" x2="916.7" y2="654.2" stroke="#173a6a" stroke-width="1.60"/>
<circle cx="916.7" cy="654.2" r="1.60" fill="#173a6a"/>
<line x1="925.1" y1="654.2" x2="917.8" y2="650.9" stroke="#173a6a" stroke-width="1.60"/>
<circle cx="917.8" cy="650.9" r="1.60" fill="#173a6a"/>
<line x1="925.1" y1="654.2" x2="920.9" y2="648.5" stroke="#173a6a" stroke-width="1.60"/>
<circle cx="920.9" cy="648.5" r="1.60" fill="#173a6a"/>
<line x1="925.1" y1="654.2" x2="925.1" y2="647.6" stroke="#173a6a" stroke-width="1.60"/>
<circle cx="925.1" cy="647.6" r="1.60" fill="#173a6a"/>
<line x1="925.1" y1="654.2" x2="929.3" y2="648.5" stroke="#173a6a" stroke-width="1.60"/>
<circle cx="929.3" cy="648.5" r="1.60" fill="#173a6a"/>
<line x1="925.1" y1="654.2" x2="932.4" y2="650.9" stroke="#173a6a" stroke-width="1.60"/>
<circle cx="932.4" cy="650.9" r="1.60" fill="#173a6a"/>
<ellipse cx="929.4" cy="677" rx="8.37" ry="6.53" fill="#173a6a"/>
<line x1="929.4" y1="677.0" x2="940.7" y2="677.0" stroke="#173a6a" stroke-width="2.16"/>
<circle cx="940.7" cy="677.0" r="2.16" fill="#173a6a"/>
<line x1="929.4" y1="677.0" x2="939.2" y2="681.4" stroke="#173a6a" stroke-width="2.16"/>
<circle cx="939.2" cy="681.4" r="2.16" fill="#173a6a"/>
<line x1="929.4" y1="677.0" x2="935.1" y2="684.7" stroke="#173a6a" stroke-width="2.16"/>
<circle cx="935.1" cy="684.7" r="2.16" fill="#173a6a"/>
<line x1="929.4" y1="677.0" x2="929.4" y2="685.8" stroke="#173a6a" stroke-width="2.16"/>
<circle cx="929.4" cy="685.8" r="2.16" fill="#173a6a"/>
<line x1="929.4" y1="677.0" x2="923.7" y2="684.7" stroke="#173a6a" stroke-width="2.16"/>
<circle cx="923.7" cy="684.7" r="2.16" fill="#173a6a"/>
<line x1="929.4" y1="677.0" x2="919.6" y2="681.4" stroke="#173a6a" stroke-width="2.16"/>
<circle cx="919.6" cy="681.4" r="2.16" fill="#173a6a"/>
<line x1="929.4" y1="677.0" x2="918.1" y2="677.0" stroke="#173a6a" stroke-width="2.16"/>
<circle cx="918.1" cy="677.0" r="2.16" fill="#173a6a"/>
<line x1="929.4" y1="677.0" x2="919.6" y2="672.6" stroke="#173a6a" stroke-width="2.16"/>
<circle cx="919.6" cy="672.6" r="2.16" fill="#173a6a"/>
<line x1="929.4" y1="677.0" x2="923.7" y2="669.3" stroke="#173a6a" stroke-width="2.16"/>
<circle cx="923.7" cy="669.3" r="2.16" fill="#173a6a"/>
<line x1="929.4" y1="677.0" x2="929.4" y2="668.2" stroke="#173a6a" stroke-width="2.16"/>
<circle cx="929.4" cy="668.2" r="2.16" fill="#173a6a"/>
<line x1="929.4" y1="677.0" x2="935.1" y2="669.3" stroke="#173a6a" stroke-width="2.16"/>
<circle cx="935.1" cy="669.3" r="2.16" fill="#173a6a"/>
<line x1="929.4" y1="677.0" x2="939.2" y2="672.6" stroke="#173a6a" stroke-width="2.16"/>
<circle cx="939.2" cy="672.6" r="2.16" fill="#173a6a"/>
<ellipse cx="884.6" cy="674.4" rx="6.51" ry="5.08" fill="#173a6a"/>
<line x1="884.6" y1="674.4" x2="893.4" y2="674.4" stroke="#173a6a" stroke-width="1.68"/>
<circle cx="893.4" cy="674.4" r="1.68" fill="#173a6a"/>
<line x1="884.6" y1="674.4" x2="892.2" y2="677.8" stroke="#173a6a" stroke-width="1.68"/>
<circle cx="892.2" cy="677.8" r="1.68" fill="#173a6a"/>
<line x1="884.6" y1="674.4" x2="889.0" y2="680.4" stroke="#173a6a" stroke-width="1.68"/>
<circle cx="889.0" cy="680.4" r="1.68" fill="#173a6a"/>
<line x1="884.6" y1="674.4" x2="884.6" y2="681.3" stroke="#173a6a" stroke-width="1.68"/>
<circle cx="884.6" cy="681.3" r="1.68" fill="#173a6a"/>
<line x1="884.6" y1="674.4" x2="880.2" y2="680.4" stroke="#173a6a" stroke-width="1.68"/>
<circle cx="880.2" cy="680.4" r="1.68" fill="#173a6a"/>
<line x1="884.6" y1="674.4" x2="877.0" y2="677.8" stroke="#173a6a" stroke-width="1.68"/>
<circle cx="877.0" cy="677.8" r="1.68" fill="#173a6a"/>
<line x1="884.6" y1="674.4" x2="875.8" y2="674.4" stroke="#173a6a" stroke-width="1.68"/>
<circle cx="875.8" cy="674.4" r="1.68" fill="#173a6a"/>
<line x1="884.6" y1="674.4" x2="877.0" y2="671.0" stroke="#173a6a" stroke-width="1.68"/>
<circle cx="877.0" cy="671.0" r="1.68" fill="#173a6a"/>
<line x1="884.6" y1="674.4" x2="880.2" y2="668.4" stroke="#173a6a" stroke-width="1.68"/>
<circle cx="880.2" cy="668.4" r="1.68" fill="#173a6a"/>
<line x1="884.6" y1="674.4" x2="884.6" y2="667.5" stroke="#173a6a" stroke-width="1.68"/>
<circle cx="884.6" cy="667.5" r="1.68" fill="#173a6a"/>
<line x1="884.6" y1="674.4" x2="889.0" y2="668.4" stroke="#173a6a" stroke-width="1.68"/>
<circle cx="889.0" cy="668.4" r="1.68" fill="#173a6a"/>
<line x1="884.6" y1="674.4" x2="892.2" y2="671.0" stroke="#173a6a" stroke-width="1.68"/>
<circle cx="892.2" cy="671.0" r="1.68" fill="#173a6a"/>
<ellipse cx="878.7" cy="696.4" rx="8.37" ry="6.53" fill="#173a6a"/>
<line x1="878.7" y1="696.4" x2="890.0" y2="696.4" stroke="#173a6a" stroke-width="2.16"/>
<circle cx="890.0" cy="696.4" r="2.16" fill="#173a6a"/>
<line x1="878.7" y1="696.4" x2="888.5" y2="700.8" stroke="#173a6a" stroke-width="2.16"/>
<circle cx="888.5" cy="700.8" r="2.16" fill="#173a6a"/>
<line x1="878.7" y1="696.4" x2="884.4" y2="704.1" stroke="#173a6a" stroke-width="2.16"/>
<circle cx="884.4" cy="704.1" r="2.16" fill="#173a6a"/>
<line x1="878.7" y1="696.4" x2="878.7" y2="705.2" stroke="#173a6a" stroke-width="2.16"/>
<circle cx="878.7" cy="705.2" r="2.16" fill="#173a6a"/>
<line x1="878.7" y1="696.4" x2="873.0" y2="704.1" stroke="#173a6a" stroke-width="2.16"/>
<circle cx="873.0" cy="704.1" r="2.16" fill="#173a6a"/>
<line x1="878.7" y1="696.4" x2="868.9" y2="700.8" stroke="#173a6a" stroke-width="2.16"/>
<circle cx="868.9" cy="700.8" r="2.16" fill="#173a6a"/>
<line x1="878.7" y1="696.4" x2="867.4" y2="696.4" stroke="#173a6a" stroke-width="2.16"/>
<circle cx="867.4" cy="696.4" r="2.16" fill="#173a6a"/>
<line x1="878.7" y1="696.4" x2="868.9" y2="692.0" stroke="#173a6a" stroke-width="2.16"/>
<circle cx="868.9" cy="692.0" r="2.16" fill="#173a6a"/>
<line x1="878.7" y1="696.4" x2="873.0" y2="688.7" stroke="#173a6a" stroke-width="2.16"/>
<circle cx="873.0" cy="688.7" r="2.16" fill="#173a6a"/>
<line x1="878.7" y1="696.4" x2="878.7" y2="687.6" stroke="#173a6a" stroke-width="2.16"/>
<circle cx="878.7" cy="687.6" r="2.16" fill="#173a6a"/>
<line x1="878.7" y1="696.4" x2="884.4" y2="688.7" stroke="#173a6a" stroke-width="2.16"/>
<circle cx="884.4" cy="688.7" r="2.16" fill="#173a6a"/>
<line x1="878.7" y1="696.4" x2="888.5" y2="692.0" stroke="#173a6a" stroke-width="2.16"/>
<circle cx="888.5" cy="692.0" r="2.16" fill="#173a6a"/>
<line x1="465.7" y1="577.1" x2="469.3" y2="578.1" stroke="#2a2452" stroke-width="1.8"/>
<circle cx="469.3" cy="578.1" r="2.1" fill="#2a2452"/>
<line x1="463.1" y1="580.1" x2="465.8" y2="582.8" stroke="#2a2452" stroke-width="1.8"/>
<circle cx="465.8" cy="582.8" r="2.1" fill="#2a2452"/>
<line x1="458.7" y1="581.9" x2="459.7" y2="585.5" stroke="#2a2452" stroke-width="1.8"/>
<circle cx="459.7" cy="585.5" r="2.1" fill="#2a2452"/>
<line x1="453.7" y1="581.9" x2="452.7" y2="585.5" stroke="#2a2452" stroke-width="1.8"/>
<circle cx="452.7" cy="585.5" r="2.1" fill="#2a2452"/>
<line x1="449.3" y1="580.1" x2="446.6" y2="582.8" stroke="#2a2452" stroke-width="1.8"/>
<circle cx="446.6" cy="582.8" r="2.1" fill="#2a2452"/>
<line x1="446.7" y1="577.1" x2="443.1" y2="578.1" stroke="#2a2452" stroke-width="1.8"/>
<circle cx="443.1" cy="578.1" r="2.1" fill="#2a2452"/>
<line x1="446.7" y1="573.7" x2="443.1" y2="572.7" stroke="#2a2452" stroke-width="1.8"/>
<circle cx="443.1" cy="572.7" r="2.1" fill="#2a2452"/>
<line x1="449.3" y1="570.7" x2="446.6" y2="568.0" stroke="#2a2452" stroke-width="1.8"/>
<circle cx="446.6" cy="568.0" r="2.1" fill="#2a2452"/>
<line x1="453.7" y1="568.9" x2="452.7" y2="565.3" stroke="#2a2452" stroke-width="1.8"/>
<circle cx="452.7" cy="565.3" r="2.1" fill="#2a2452"/>
<line x1="458.7" y1="568.9" x2="459.7" y2="565.3" stroke="#2a2452" stroke-width="1.8"/>
<circle cx="459.7" cy="565.3" r="2.1" fill="#2a2452"/>
<line x1="463.1" y1="570.7" x2="465.8" y2="568.0" stroke="#2a2452" stroke-width="1.8"/>
<circle cx="465.8" cy="568.0" r="2.1" fill="#2a2452"/>
<line x1="465.7" y1="573.7" x2="469.3" y2="572.7" stroke="#2a2452" stroke-width="1.8"/>
<circle cx="469.3" cy="572.7" r="2.1" fill="#2a2452"/>
<ellipse cx="456.2" cy="575.4" rx="9.8" ry="6.7" fill="#dde7f8" stroke="#2a2452" stroke-width="2.6"/>
<ellipse cx="456.2" cy="575.4" rx="6.9" ry="4.7" fill="#c6d4f0" opacity="0.7"/>
<ellipse cx="459.9" cy="576.2" rx="2.4" ry="1.7" fill="none" stroke="#4a66b0" stroke-width="1.4"/>
<ellipse cx="457.1" cy="578.0" rx="2.4" ry="1.7" fill="none" stroke="#4a66b0" stroke-width="1.4"/>
<ellipse cx="453.3" cy="577.2" rx="2.4" ry="1.7" fill="none" stroke="#4a66b0" stroke-width="1.4"/>
<ellipse cx="452.5" cy="574.6" rx="2.4" ry="1.7" fill="none" stroke="#4a66b0" stroke-width="1.4"/>
<ellipse cx="455.3" cy="572.8" rx="2.4" ry="1.7" fill="none" stroke="#4a66b0" stroke-width="1.4"/>
<ellipse cx="459.1" cy="573.6" rx="2.4" ry="1.7" fill="none" stroke="#4a66b0" stroke-width="1.4"/>
<circle cx="456.2" cy="575.4" r="1.0" fill="#4a66b0"/>
<line x1="881.8" y1="572.9" x2="885.4" y2="573.9" stroke="#2a2452" stroke-width="1.8"/>
<circle cx="885.4" cy="573.9" r="2.1" fill="#2a2452"/>
<line x1="879.2" y1="575.9" x2="881.9" y2="578.6" stroke="#2a2452" stroke-width="1.8"/>
<circle cx="881.9" cy="578.6" r="2.1" fill="#2a2452"/>
<line x1="874.8" y1="577.7" x2="875.8" y2="581.3" stroke="#2a2452" stroke-width="1.8"/>
<circle cx="875.8" cy="581.3" r="2.1" fill="#2a2452"/>
<line x1="869.8" y1="577.7" x2="868.8" y2="581.3" stroke="#2a2452" stroke-width="1.8"/>
<circle cx="868.8" cy="581.3" r="2.1" fill="#2a2452"/>
<line x1="865.4" y1="575.9" x2="862.7" y2="578.6" stroke="#2a2452" stroke-width="1.8"/>
<circle cx="862.7" cy="578.6" r="2.1" fill="#2a2452"/>
<line x1="862.8" y1="572.9" x2="859.2" y2="573.9" stroke="#2a2452" stroke-width="1.8"/>
<circle cx="859.2" cy="573.9" r="2.1" fill="#2a2452"/>
<line x1="862.8" y1="569.5" x2="859.2" y2="568.5" stroke="#2a2452" stroke-width="1.8"/>
<circle cx="859.2" cy="568.5" r="2.1" fill="#2a2452"/>
<line x1="865.4" y1="566.5" x2="862.7" y2="563.8" stroke="#2a2452" stroke-width="1.8"/>
<circle cx="862.7" cy="563.8" r="2.1" fill="#2a2452"/>
<line x1="869.8" y1="564.7" x2="868.8" y2="561.1" stroke="#2a2452" stroke-width="1.8"/>
<circle cx="868.8" cy="561.1" r="2.1" fill="#2a2452"/>
<line x1="874.8" y1="564.7" x2="875.8" y2="561.1" stroke="#2a2452" stroke-width="1.8"/>
<circle cx="875.8" cy="561.1" r="2.1" fill="#2a2452"/>
<line x1="879.2" y1="566.5" x2="881.9" y2="563.8" stroke="#2a2452" stroke-width="1.8"/>
<circle cx="881.9" cy="563.8" r="2.1" fill="#2a2452"/>
<line x1="881.8" y1="569.5" x2="885.4" y2="568.5" stroke="#2a2452" stroke-width="1.8"/>
<circle cx="885.4" cy="568.5" r="2.1" fill="#2a2452"/>
<ellipse cx="872.3" cy="571.2" rx="9.8" ry="6.7" fill="#dde7f8" stroke="#2a2452" stroke-width="2.6"/>
<ellipse cx="872.3" cy="571.2" rx="6.9" ry="4.7" fill="#c6d4f0" opacity="0.7"/>
<ellipse cx="876.0" cy="572.0" rx="2.4" ry="1.7" fill="none" stroke="#4a66b0" stroke-width="1.4"/>
<ellipse cx="873.2" cy="573.8" rx="2.4" ry="1.7" fill="none" stroke="#4a66b0" stroke-width="1.4"/>
<ellipse cx="869.4" cy="573.0" rx="2.4" ry="1.7" fill="none" stroke="#4a66b0" stroke-width="1.4"/>
<ellipse cx="868.6" cy="570.4" rx="2.4" ry="1.7" fill="none" stroke="#4a66b0" stroke-width="1.4"/>
<ellipse cx="871.4" cy="568.6" rx="2.4" ry="1.7" fill="none" stroke="#4a66b0" stroke-width="1.4"/>
<ellipse cx="875.2" cy="569.4" rx="2.4" ry="1.7" fill="none" stroke="#4a66b0" stroke-width="1.4"/>
<circle cx="872.3" cy="571.2" r="1.0" fill="#4a66b0"/>
<line x1="1062.9" y1="550.4" x2="1066.5" y2="551.4" stroke="#2a2452" stroke-width="1.8"/>
<circle cx="1066.5" cy="551.4" r="2.1" fill="#2a2452"/>
<line x1="1060.3" y1="553.4" x2="1063.0" y2="556.1" stroke="#2a2452" stroke-width="1.8"/>
<circle cx="1063.0" cy="556.1" r="2.1" fill="#2a2452"/>
<line x1="1055.9" y1="555.2" x2="1056.9" y2="558.8" stroke="#2a2452" stroke-width="1.8"/>
<circle cx="1056.9" cy="558.8" r="2.1" fill="#2a2452"/>
<line x1="1050.9" y1="555.2" x2="1049.9" y2="558.8" stroke="#2a2452" stroke-width="1.8"/>
<circle cx="1049.9" cy="558.8" r="2.1" fill="#2a2452"/>
<line x1="1046.5" y1="553.4" x2="1043.8" y2="556.1" stroke="#2a2452" stroke-width="1.8"/>
<circle cx="1043.8" cy="556.1" r="2.1" fill="#2a2452"/>
<line x1="1043.9" y1="550.4" x2="1040.3" y2="551.4" stroke="#2a2452" stroke-width="1.8"/>
<circle cx="1040.3" cy="551.4" r="2.1" fill="#2a2452"/>
<line x1="1043.9" y1="547.0" x2="1040.3" y2="546.0" stroke="#2a2452" stroke-width="1.8"/>
<circle cx="1040.3" cy="546.0" r="2.1" fill="#2a2452"/>
<line x1="1046.5" y1="544.0" x2="1043.8" y2="541.3" stroke="#2a2452" stroke-width="1.8"/>
<circle cx="1043.8" cy="541.3" r="2.1" fill="#2a2452"/>
<line x1="1050.9" y1="542.2" x2="1049.9" y2="538.6" stroke="#2a2452" stroke-width="1.8"/>
<circle cx="1049.9" cy="538.6" r="2.1" fill="#2a2452"/>
<line x1="1055.9" y1="542.2" x2="1056.9" y2="538.6" stroke="#2a2452" stroke-width="1.8"/>
<circle cx="1056.9" cy="538.6" r="2.1" fill="#2a2452"/>
<line x1="1060.3" y1="544.0" x2="1063.0" y2="541.3" stroke="#2a2452" stroke-width="1.8"/>
<circle cx="1063.0" cy="541.3" r="2.1" fill="#2a2452"/>
<line x1="1062.9" y1="547.0" x2="1066.5" y2="546.0" stroke="#2a2452" stroke-width="1.8"/>
<circle cx="1066.5" cy="546.0" r="2.1" fill="#2a2452"/>
<ellipse cx="1053.4" cy="548.7" rx="9.8" ry="6.7" fill="#dde7f8" stroke="#2a2452" stroke-width="2.6"/>
<ellipse cx="1053.4" cy="548.7" rx="6.9" ry="4.7" fill="#c6d4f0" opacity="0.7"/>
<ellipse cx="1057.1" cy="549.5" rx="2.4" ry="1.7" fill="none" stroke="#4a66b0" stroke-width="1.4"/>
<ellipse cx="1054.3" cy="551.3" rx="2.4" ry="1.7" fill="none" stroke="#4a66b0" stroke-width="1.4"/>
<ellipse cx="1050.5" cy="550.5" rx="2.4" ry="1.7" fill="none" stroke="#4a66b0" stroke-width="1.4"/>
<ellipse cx="1049.7" cy="547.9" rx="2.4" ry="1.7" fill="none" stroke="#4a66b0" stroke-width="1.4"/>
<ellipse cx="1052.5" cy="546.1" rx="2.4" ry="1.7" fill="none" stroke="#4a66b0" stroke-width="1.4"/>
<ellipse cx="1056.3" cy="546.9" rx="2.4" ry="1.7" fill="none" stroke="#4a66b0" stroke-width="1.4"/>
<circle cx="1053.4" cy="548.7" r="1.0" fill="#4a66b0"/>
<text x="1073.6" y="556" font-size="16" font-weight="normal" fill="#222" text-anchor="start" textLength="109.6" lengthAdjust="spacingAndGlyphs"  stroke="#222" stroke-width="0.5">SARS.CoV-2</text>
<path d="M1024.5,651 L1024.5,645 C1024.5,636 1018,633 1008,633 L975,633" fill="none" stroke="#111" stroke-width="3"/>
<polygon points="976,626 962,633.7 976,641" fill="#111"/>
<path d="M1021,656 L1021,679 M1027.5,656 L1027.5,679" stroke="#262a6a" stroke-width="2.6"/>
<path d="M1011,688 L1020,679.5 L1029,679.5 L1038,688" fill="none" stroke="#262a6a" stroke-width="5" stroke-linecap="round" stroke-linejoin="round"/>
<polygon points="1024.5,682 1032,689.8 1024.5,697 1017,689.8" fill="#3aa23f" stroke="#1e6a2a" stroke-width="1"/>
<text x="1039" y="676.5" font-size="15" font-weight="bold" fill="#222" text-anchor="start" textLength="47" lengthAdjust="spacingAndGlyphs" >PAR2</text>
<path d="M806,645 C820,675 850,693 900,696.5 C950,698.5 990,698 1011,697.4" fill="none" stroke="#222" stroke-width="1.4" marker-end="url(#ah)"/>
<text x="814.8" y="720.7" font-size="14.5" font-weight="bold" fill="#1a1a1a" text-anchor="start" textLength="234" lengthAdjust="spacingAndGlyphs" >PARACELLULAR PATHWAY</text>
<clipPath id="brc"><path d="M76,596 C74,582 82,574 91,571 C100,562 118,554 134,552 C150,547 165,546 177,546.5 C195,545 210,546 220,547.5 C235,548 245,551 252,555 C265,560 275,566 280,571 C292,582 302,595 305,610 C306,620 303,627 299,630 C294,634 288,635 284,636 C285,641 282,645 279,647 C276,655 270,660 262,661.5 C250,664 235,663.5 233,663.5 L237.5,683 L221,683 L203,655 C195,652 188,651 177,650.7 C160,647 140,642 126,638 C120,634 119,630 119,627 C108,625 98,622 91,620.7 C83,616 78,612 76,596 Z"/></clipPath>
<path d="M76,596 C74,582 82,574 91,571 C100,562 118,554 134,552 C150,547 165,546 177,546.5 C195,545 210,546 220,547.5 C235,548 245,551 252,555 C265,560 275,566 280,571 C292,582 302,595 305,610 C306,620 303,627 299,630 C294,634 288,635 284,636 C285,641 282,645 279,647 C276,655 270,660 262,661.5 C250,664 235,663.5 233,663.5 L237.5,683 L221,683 L203,655 C195,652 188,651 177,650.7 C160,647 140,642 126,638 C120,634 119,630 119,627 C108,625 98,622 91,620.7 C83,616 78,612 76,596 Z" fill="#efb6bd"/>
<g clip-path="url(#brc)">
<path d="M79.6,555.5 Q85.8,548.1 91.9,552.6 Q98.1,558.8 104.3,553.1 Q110.4,547.6 116.6,554.0" fill="none" stroke="#e29ca5" stroke-width="10" stroke-linecap="round" stroke-linejoin="round"/>
<path d="M79.6,555.5 Q85.8,548.1 91.9,552.6 Q98.1,558.8 104.3,553.1 Q110.4,547.6 116.6,554.0" fill="none" stroke="#f4c4c9" stroke-width="7" stroke-linecap="round" stroke-linejoin="round"/>
<path d="M121.8,553.2 Q126.9,561.5 131.9,557.7 Q136.9,562.1 142.0,554.6 Q147.0,548.4 152.1,554.1" fill="none" stroke="#e29ca5" stroke-width="12" stroke-linecap="round" stroke-linejoin="round"/>
<path d="M121.8,553.2 Q126.9,561.5 131.9,557.7 Q136.9,562.1 142.0,554.6 Q147.0,548.4 152.1,554.1" fill="none" stroke="#f4c4c9" stroke-width="9" stroke-linecap="round" stroke-linejoin="round"/>
<path d="M155.2,550.4 Q161.2,555.8 167.3,549.3 Q173.4,555.6 179.5,549.9 Q185.5,554.6 191.6,547.4" fill="none" stroke="#e29ca5" stroke-width="12" stroke-linecap="round" stroke-linejoin="round"/>
<path d="M155.2,550.4 Q161.2,555.8 167.3,549.3 Q173.4,555.6 179.5,549.9 Q185.5,554.6 191.6,547.4" fill="none" stroke="#f4c4c9" stroke-width="9" stroke-linecap="round" stroke-linejoin="round"/>
<path d="M198.8,553.8 Q204.9,559.4 210.9,553.0 Q217.0,560.0 223.0,554.9 Q229.1,547.7 235.1,552.5" fill="none" stroke="#e29ca5" stroke-width="12" stroke-linecap="round" stroke-linejoin="round"/>
<path d="M198.8,553.8 Q204.9,559.4 210.9,553.0 Q217.0,560.0 223.0,554.9 Q229.1,547.7 235.1,552.5" fill="none" stroke="#f4c4c9" stroke-width="9" stroke-linecap="round" stroke-linejoin="round"/>
<path d="M239.4,553.1 Q246.1,544.2 252.8,547.4 Q259.5,556.6 266.1,553.8 Q272.8,557.0 279.5,548.3" fill="none" stroke="#e29ca5" stroke-width="10" stroke-linecap="round" stroke-linejoin="round"/>
<path d="M239.4,553.1 Q246.1,544.2 252.8,547.4 Q259.5,556.6 266.1,553.8 Q272.8,557.0 279.5,548.3" fill="none" stroke="#f4c4c9" stroke-width="7" stroke-linecap="round" stroke-linejoin="round"/>
<path d="M287.3,550.0 Q294.2,555.8 301.2,549.5 Q308.1,559.7 315.0,557.9 Q321.9,549.3 328.9,552.6" fill="none" stroke="#e29ca5" stroke-width="12" stroke-linecap="round" stroke-linejoin="round"/>
<path d="M287.3,550.0 Q294.2,555.8 301.2,549.5 Q308.1,559.7 315.0,557.9 Q321.9,549.3 328.9,552.6" fill="none" stroke="#f4c4c9" stroke-width="9" stroke-linecap="round" stroke-linejoin="round"/>
<path d="M96.2,563.5 Q101.6,557.8 107.0,564.0 Q112.4,561.8 117.8,571.6 Q123.2,564.3 128.5,569.1" fill="none" stroke="#e29ca5" stroke-width="12" stroke-linecap="round" stroke-linejoin="round"/>
<path d="M96.2,563.5 Q101.6,557.8 107.0,564.0 Q112.4,561.8 117.8,571.6 Q123.2,564.3 128.5,569.1" fill="none" stroke="#f4c4c9" stroke-width="9" stroke-linecap="round" stroke-linejoin="round"/>
<path d="M132.0,567.8 Q136.9,559.0 141.7,562.1 Q146.5,558.4 151.4,566.7 Q156.2,572.0 161.0,565.4" fill="none" stroke="#e29ca5" stroke-width="12" stroke-linecap="round" stroke-linejoin="round"/>
<path d="M132.0,567.8 Q136.9,559.0 141.7,562.1 Q146.5,558.4 151.4,566.7 Q156.2,572.0 161.0,565.4" fill="none" stroke="#f4c4c9" stroke-width="9" stroke-linecap="round" stroke-linejoin="round"/>
<path d="M165.9,568.9 Q171.6,570.5 177.4,560.0 Q183.1,559.2 188.8,570.4 Q194.5,565.0 200.2,571.7" fill="none" stroke="#e29ca5" stroke-width="10" stroke-linecap="round" stroke-linejoin="round"/>
<path d="M165.9,568.9 Q171.6,570.5 177.4,560.0 Q183.1,559.2 188.8,570.4 Q194.5,565.0 200.2,571.7" fill="none" stroke="#f4c4c9" stroke-width="7" stroke-linecap="round" stroke-linejoin="round"/>
<path d="M205.2,566.9 Q212.2,570.0 219.1,561.2 Q226.1,560.5 233.0,571.9 Q239.9,573.2 246.9,562.6" fill="none" stroke="#e29ca5" stroke-width="11" stroke-linecap="round" stroke-linejoin="round"/>
<path d="M205.2,566.9 Q212.2,570.0 219.1,561.2 Q226.1,560.5 233.0,571.9 Q239.9,573.2 246.9,562.6" fill="none" stroke="#f4c4c9" stroke-width="8" stroke-linecap="round" stroke-linejoin="round"/>
<path d="M251.8,564.3 Q256.7,571.9 261.5,567.6 Q266.4,557.9 271.3,560.2 Q276.1,568.3 281.0,564.4" fill="none" stroke="#e29ca5" stroke-width="12" stroke-linecap="round" stroke-linejoin="round"/>
<path d="M251.8,564.3 Q256.7,571.9 261.5,567.6 Q266.4,557.9 271.3,560.2 Q276.1,568.3 281.0,564.4" fill="none" stroke="#f4c4c9" stroke-width="9" stroke-linecap="round" stroke-linejoin="round"/>
<path d="M284.7,566.8 Q290.4,559.2 296.1,563.7 Q301.8,557.2 307.5,562.7 Q313.2,559.0 318.9,567.3" fill="none" stroke="#e29ca5" stroke-width="12" stroke-linecap="round" stroke-linejoin="round"/>
<path d="M284.7,566.8 Q290.4,559.2 296.1,563.7 Q301.8,557.2 307.5,562.7 Q313.2,559.0 318.9,567.3" fill="none" stroke="#f4c4c9" stroke-width="9" stroke-linecap="round" stroke-linejoin="round"/>
<path d="M83.1,579.5 Q89.3,571.4 95.6,575.2 Q101.9,580.9 108.2,574.5 Q114.4,586.0 120.7,585.6" fill="none" stroke="#e29ca5" stroke-width="11" stroke-linecap="round" stroke-linejoin="round"/>
<path d="M83.1,579.5 Q89.3,571.4 95.6,575.2 Q101.9,580.9 108.2,574.5 Q114.4,586.0 120.7,585.6" fill="none" stroke="#f4c4c9" stroke-width="8" stroke-linecap="round" stroke-linejoin="round"/>
<path d="M127.8,578.8 Q134.1,571.4 140.3,576.1 Q146.6,585.4 152.9,582.6 Q159.1,572.7 165.4,574.8" fill="none" stroke="#e29ca5" stroke-width="11" stroke-linecap="round" stroke-linejoin="round"/>
<path d="M127.8,578.8 Q134.1,571.4 140.3,576.1 Q146.6,585.4 152.9,582.6 Q159.1,572.7 165.4,574.8" fill="none" stroke="#f4c4c9" stroke-width="8" stroke-linecap="round" stroke-linejoin="round"/>
<path d="M169.4,581.5 Q176.5,572.2 183.7,574.8 Q190.8,570.9 197.9,578.9 Q205.0,584.0 212.1,577.0" fill="none" stroke="#e29ca5" stroke-width="11" stroke-linecap="round" stroke-linejoin="round"/>
<path d="M169.4,581.5 Q176.5,572.2 183.7,574.8 Q190.8,570.9 197.9,578.9 Q205.0,584.0 212.1,577.0" fill="none" stroke="#f4c4c9" stroke-width="8" stroke-linecap="round" stroke-linejoin="round"/>
<path d="M217.7,577.6 Q225.0,570.6 232.3,575.7 Q239.5,571.5 246.8,579.4 Q254.0,572.7 261.3,578.0" fill="none" stroke="#e29ca5" stroke-width="11" stroke-linecap="round" stroke-linejoin="round"/>
<path d="M217.7,577.6 Q225.0,570.6 232.3,575.7 Q239.5,571.5 246.8,579.4 Q254.0,572.7 261.3,578.0" fill="none" stroke="#f4c4c9" stroke-width="8" stroke-linecap="round" stroke-linejoin="round"/>
<path d="M268.9,582.8 Q275.4,584.5 281.9,574.3 Q288.5,583.9 295.0,581.6 Q301.5,574.7 308.1,579.8" fill="none" stroke="#e29ca5" stroke-width="10" stroke-linecap="round" stroke-linejoin="round"/>
<path d="M268.9,582.8 Q275.4,584.5 281.9,574.3 Q288.5,583.9 295.0,581.6 Q301.5,574.7 308.1,579.8" fill="none" stroke="#f4c4c9" stroke-width="7" stroke-linecap="round" stroke-linejoin="round"/>
<path d="M94.4,596.4 Q101.0,602.6 107.6,596.8 Q114.3,602.6 120.9,596.4 Q127.5,591.0 134.2,597.5" fill="none" stroke="#e29ca5" stroke-width="12" stroke-linecap="round" stroke-linejoin="round"/>
<path d="M94.4,596.4 Q101.0,602.6 107.6,596.8 Q114.3,602.6 120.9,596.4 Q127.5,591.0 134.2,597.5" fill="none" stroke="#f4c4c9" stroke-width="9" stroke-linecap="round" stroke-linejoin="round"/>
<path d="M139.5,596.1 Q144.4,591.7 149.3,599.3 Q154.1,599.8 159.0,588.4 Q163.9,597.2 168.8,594.0" fill="none" stroke="#e29ca5" stroke-width="12" stroke-linecap="round" stroke-linejoin="round"/>
<path d="M139.5,596.1 Q144.4,591.7 149.3,599.3 Q154.1,599.8 159.0,588.4 Q163.9,597.2 168.8,594.0" fill="none" stroke="#f4c4c9" stroke-width="9" stroke-linecap="round" stroke-linejoin="round"/>
<path d="M171.8,591.5 Q176.7,596.5 181.6,589.4 Q186.4,596.2 191.3,591.1 Q196.1,598.0 201.0,593.0" fill="none" stroke="#e29ca5" stroke-width="11" stroke-linecap="round" stroke-linejoin="round"/>
<path d="M171.8,591.5 Q176.7,596.5 181.6,589.4 Q186.4,596.2 191.3,591.1 Q196.1,598.0 201.0,593.0" fill="none" stroke="#f4c4c9" stroke-width="8" stroke-linecap="round" stroke-linejoin="round"/>
<path d="M206.3,594.1 Q212.4,588.1 218.5,594.2 Q224.6,586.9 230.7,591.7 Q236.9,584.4 243.0,589.1" fill="none" stroke="#e29ca5" stroke-width="11" stroke-linecap="round" stroke-linejoin="round"/>
<path d="M206.3,594.1 Q212.4,588.1 218.5,594.2 Q224.6,586.9 230.7,591.7 Q236.9,584.4 243.0,589.1" fill="none" stroke="#f4c4c9" stroke-width="8" stroke-linecap="round" stroke-linejoin="round"/>
<path d="M249.9,593.9 Q256.3,590.3 262.7,598.8 Q269.1,589.6 275.6,592.4 Q282.0,597.1 288.4,589.7" fill="none" stroke="#e29ca5" stroke-width="12" stroke-linecap="round" stroke-linejoin="round"/>
<path d="M249.9,593.9 Q256.3,590.3 262.7,598.8 Q269.1,589.6 275.6,592.4 Q282.0,597.1 288.4,589.7" fill="none" stroke="#f4c4c9" stroke-width="9" stroke-linecap="round" stroke-linejoin="round"/>
<path d="M296.1,592.4 Q302.1,586.7 308.1,592.9 Q314.1,585.9 320.1,591.0 Q326.1,599.3 332.0,595.6" fill="none" stroke="#e29ca5" stroke-width="10" stroke-linecap="round" stroke-linejoin="round"/>
<path d="M296.1,592.4 Q302.1,586.7 308.1,592.9 Q314.1,585.9 320.1,591.0 Q326.1,599.3 332.0,595.6" fill="none" stroke="#f4c4c9" stroke-width="7" stroke-linecap="round" stroke-linejoin="round"/>
<path d="M78.5,608.0 Q83.6,616.0 88.6,612.0 Q93.6,606.1 98.7,612.2 Q103.7,605.4 108.7,610.5" fill="none" stroke="#e29ca5" stroke-width="11" stroke-linecap="round" stroke-linejoin="round"/>
<path d="M78.5,608.0 Q83.6,616.0 88.6,612.0 Q93.6,606.1 98.7,612.2 Q103.7,605.4 108.7,610.5" fill="none" stroke="#f4c4c9" stroke-width="8" stroke-linecap="round" stroke-linejoin="round"/>
<path d="M114.1,610.0 Q121.2,614.3 128.3,606.6 Q135.5,613.4 142.6,608.2 Q149.7,603.2 156.9,610.1" fill="none" stroke="#e29ca5" stroke-width="10" stroke-linecap="round" stroke-linejoin="round"/>
<path d="M114.1,610.0 Q121.2,614.3 128.3,606.6 Q135.5,613.4 142.6,608.2 Q149.7,603.2 156.9,610.1" fill="none" stroke="#f4c4c9" stroke-width="7" stroke-linecap="round" stroke-linejoin="round"/>
<path d="M161.3,609.1 Q167.6,601.2 173.8,605.4 Q180.1,599.8 186.4,606.3 Q192.7,614.0 199.0,609.8" fill="none" stroke="#e29ca5" stroke-width="11" stroke-linecap="round" stroke-linejoin="round"/>
<path d="M161.3,609.1 Q167.6,601.2 173.8,605.4 Q180.1,599.8 186.4,606.3 Q192.7,614.0 199.0,609.8" fill="none" stroke="#f4c4c9" stroke-width="8" stroke-linecap="round" stroke-linejoin="round"/>
<path d="M202.9,606.6 Q209.7,603.0 216.4,611.4 Q223.1,617.5 229.8,611.6 Q236.5,606.7 243.2,613.8" fill="none" stroke="#e29ca5" stroke-width="12" stroke-linecap="round" stroke-linejoin="round"/>
<path d="M202.9,606.6 Q209.7,603.0 216.4,611.4 Q223.1,617.5 229.8,611.6 Q236.5,606.7 243.2,613.8" fill="none" stroke="#f4c4c9" stroke-width="9" stroke-linecap="round" stroke-linejoin="round"/>
<path d="M248.9,607.2 Q255.3,611.1 261.7,602.9 Q268.0,597.7 274.4,604.4 Q280.8,602.1 287.2,611.9" fill="none" stroke="#e29ca5" stroke-width="11" stroke-linecap="round" stroke-linejoin="round"/>
<path d="M248.9,607.2 Q255.3,611.1 261.7,602.9 Q268.0,597.7 274.4,604.4 Q280.8,602.1 287.2,611.9" fill="none" stroke="#f4c4c9" stroke-width="8" stroke-linecap="round" stroke-linejoin="round"/>
<path d="M292.8,606.4 Q297.6,602.9 302.4,611.3 Q307.1,615.9 311.9,608.5 Q316.7,604.9 321.4,613.4" fill="none" stroke="#e29ca5" stroke-width="10" stroke-linecap="round" stroke-linejoin="round"/>
<path d="M292.8,606.4 Q297.6,602.9 302.4,611.3 Q307.1,615.9 311.9,608.5 Q316.7,604.9 321.4,613.4" fill="none" stroke="#f4c4c9" stroke-width="7" stroke-linecap="round" stroke-linejoin="round"/>
<path d="M97.1,621.7 Q102.8,626.0 108.5,618.4 Q114.2,628.5 119.9,626.6 Q125.6,627.4 131.3,616.1" fill="none" stroke="#e29ca5" stroke-width="12" stroke-linecap="round" stroke-linejoin="round"/>
<path d="M97.1,621.7 Q102.8,626.0 108.5,618.4 Q114.2,628.5 119.9,626.6 Q125.6,627.4 131.3,616.1" fill="none" stroke="#f4c4c9" stroke-width="9" stroke-linecap="round" stroke-linejoin="round"/>
<path d="M139.3,624.2 Q144.2,618.9 149.1,625.6 Q154.1,632.3 159.0,627.1 Q163.9,616.3 168.8,617.5" fill="none" stroke="#e29ca5" stroke-width="11" stroke-linecap="round" stroke-linejoin="round"/>
<path d="M139.3,624.2 Q144.2,618.9 149.1,625.6 Q154.1,632.3 159.0,627.1 Q163.9,616.3 168.8,617.5" fill="none" stroke="#f4c4c9" stroke-width="8" stroke-linecap="round" stroke-linejoin="round"/>
<path d="M174.5,620.9 Q181.3,617.9 188.1,626.9 Q194.9,620.6 201.6,626.3 Q208.4,629.2 215.2,620.2" fill="none" stroke="#e29ca5" stroke-width="11" stroke-linecap="round" stroke-linejoin="round"/>
<path d="M174.5,620.9 Q181.3,617.9 188.1,626.9 Q194.9,620.6 201.6,626.3 Q208.4,629.2 215.2,620.2" fill="none" stroke="#f4c4c9" stroke-width="8" stroke-linecap="round" stroke-linejoin="round"/>
<path d="M220.9,621.9 Q227.6,613.1 234.4,616.3 Q241.1,615.0 247.8,625.7 Q254.5,627.2 261.2,616.8" fill="none" stroke="#e29ca5" stroke-width="12" stroke-linecap="round" stroke-linejoin="round"/>
<path d="M220.9,621.9 Q227.6,613.1 234.4,616.3 Q241.1,615.0 247.8,625.7 Q254.5,627.2 261.2,616.8" fill="none" stroke="#f4c4c9" stroke-width="9" stroke-linecap="round" stroke-linejoin="round"/>
<path d="M268.2,619.9 Q273.2,627.0 278.2,622.2 Q283.3,629.4 288.3,624.7 Q293.4,619.4 298.4,626.1" fill="none" stroke="#e29ca5" stroke-width="10" stroke-linecap="round" stroke-linejoin="round"/>
<path d="M268.2,619.9 Q273.2,627.0 278.2,622.2 Q283.3,629.4 288.3,624.7 Q293.4,619.4 298.4,626.1" fill="none" stroke="#f4c4c9" stroke-width="7" stroke-linecap="round" stroke-linejoin="round"/>
<path d="M303.6,624.0 Q309.8,629.4 315.9,622.7 Q322.1,626.4 328.2,618.0 Q334.4,626.1 340.5,622.2" fill="none" stroke="#e29ca5" stroke-width="12" stroke-linecap="round" stroke-linejoin="round"/>
<path d="M303.6,624.0 Q309.8,629.4 315.9,622.7 Q322.1,626.4 328.2,618.0 Q334.4,626.1 340.5,622.2" fill="none" stroke="#f4c4c9" stroke-width="9" stroke-linecap="round" stroke-linejoin="round"/>
<path d="M82.8,636.1 Q90.1,630.5 97.3,636.9 Q104.6,640.6 111.8,632.4 Q119.1,628.4 126.3,636.4" fill="none" stroke="#e29ca5" stroke-width="12" stroke-linecap="round" stroke-linejoin="round"/>
<path d="M82.8,636.1 Q90.1,630.5 97.3,636.9 Q104.6,640.6 111.8,632.4 Q119.1,628.4 126.3,636.4" fill="none" stroke="#f4c4c9" stroke-width="9" stroke-linecap="round" stroke-linejoin="round"/>
<path d="M134.1,635.4 Q140.2,631.5 146.2,639.6 Q152.3,632.2 158.3,636.8 Q164.4,642.3 170.4,635.9" fill="none" stroke="#e29ca5" stroke-width="11" stroke-linecap="round" stroke-linejoin="round"/>
<path d="M134.1,635.4 Q140.2,631.5 146.2,639.6 Q152.3,632.2 158.3,636.8 Q164.4,642.3 170.4,635.9" fill="none" stroke="#f4c4c9" stroke-width="8" stroke-linecap="round" stroke-linejoin="round"/>
<path d="M178.0,635.4 Q184.8,640.2 191.6,633.0 Q198.4,640.4 205.2,635.9 Q212.0,629.0 218.8,634.1" fill="none" stroke="#e29ca5" stroke-width="10" stroke-linecap="round" stroke-linejoin="round"/>
<path d="M178.0,635.4 Q184.8,640.2 191.6,633.0 Q198.4,640.4 205.2,635.9 Q212.0,629.0 218.8,634.1" fill="none" stroke="#f4c4c9" stroke-width="7" stroke-linecap="round" stroke-linejoin="round"/>
<path d="M223.9,634.6 Q228.7,630.5 233.4,638.4 Q238.1,634.1 242.9,641.7 Q247.6,630.1 252.4,630.4" fill="none" stroke="#e29ca5" stroke-width="12" stroke-linecap="round" stroke-linejoin="round"/>
<path d="M223.9,634.6 Q228.7,630.5 233.4,638.4 Q238.1,634.1 242.9,641.7 Q247.6,630.1 252.4,630.4" fill="none" stroke="#f4c4c9" stroke-width="9" stroke-linecap="round" stroke-linejoin="round"/>
<path d="M256.8,634.5 Q263.4,641.2 270.0,636.0 Q276.6,630.0 283.2,636.0 Q289.8,642.5 296.4,637.0" fill="none" stroke="#e29ca5" stroke-width="10" stroke-linecap="round" stroke-linejoin="round"/>
<path d="M256.8,634.5 Q263.4,641.2 270.0,636.0 Q276.6,630.0 283.2,636.0 Q289.8,642.5 296.4,637.0" fill="none" stroke="#f4c4c9" stroke-width="7" stroke-linecap="round" stroke-linejoin="round"/>
<path d="M301.3,636.2 Q307.0,628.0 312.8,631.9 Q318.6,626.2 324.3,632.5 Q330.1,629.0 335.9,637.6" fill="none" stroke="#e29ca5" stroke-width="10" stroke-linecap="round" stroke-linejoin="round"/>
<path d="M301.3,636.2 Q307.0,628.0 312.8,631.9 Q318.6,626.2 324.3,632.5 Q330.1,629.0 335.9,637.6" fill="none" stroke="#f4c4c9" stroke-width="7" stroke-linecap="round" stroke-linejoin="round"/>
<path d="M95.0,646.1 Q100.6,641.7 106.2,649.2 Q111.8,645.0 117.4,652.7 Q123.0,642.5 128.6,644.3" fill="none" stroke="#e29ca5" stroke-width="10" stroke-linecap="round" stroke-linejoin="round"/>
<path d="M95.0,646.1 Q100.6,641.7 106.2,649.2 Q111.8,645.0 117.4,652.7 Q123.0,642.5 128.6,644.3" fill="none" stroke="#f4c4c9" stroke-width="7" stroke-linecap="round" stroke-linejoin="round"/>
<path d="M132.2,647.3 Q137.1,641.3 142.1,647.2 Q147.0,644.3 151.9,653.3 Q156.8,656.9 161.7,648.5" fill="none" stroke="#e29ca5" stroke-width="12" stroke-linecap="round" stroke-linejoin="round"/>
<path d="M132.2,647.3 Q137.1,641.3 142.1,647.2 Q147.0,644.3 151.9,653.3 Q156.8,656.9 161.7,648.5" fill="none" stroke="#f4c4c9" stroke-width="9" stroke-linecap="round" stroke-linejoin="round"/>
<path d="M168.1,646.2 Q172.8,642.2 177.5,650.2 Q182.2,657.6 186.9,652.9 Q191.7,647.3 196.4,653.6" fill="none" stroke="#e29ca5" stroke-width="10" stroke-linecap="round" stroke-linejoin="round"/>
<path d="M168.1,646.2 Q172.8,642.2 177.5,650.2 Q182.2,657.6 186.9,652.9 Q191.7,647.3 196.4,653.6" fill="none" stroke="#f4c4c9" stroke-width="7" stroke-linecap="round" stroke-linejoin="round"/>
<path d="M201.8,649.6 Q206.5,643.5 211.2,649.4 Q216.0,645.1 220.7,652.9 Q225.4,644.3 230.2,647.8" fill="none" stroke="#e29ca5" stroke-width="10" stroke-linecap="round" stroke-linejoin="round"/>
<path d="M201.8,649.6 Q206.5,643.5 211.2,649.4 Q216.0,645.1 220.7,652.9 Q225.4,644.3 230.2,647.8" fill="none" stroke="#f4c4c9" stroke-width="7" stroke-linecap="round" stroke-linejoin="round"/>
<path d="M234.0,646.7 Q239.1,654.4 244.2,650.1 Q249.3,643.5 254.4,649.0 Q259.5,640.3 264.6,643.6" fill="none" stroke="#e29ca5" stroke-width="11" stroke-linecap="round" stroke-linejoin="round"/>
<path d="M234.0,646.7 Q239.1,654.4 244.2,650.1 Q249.3,643.5 254.4,649.0 Q259.5,640.3 264.6,643.6" fill="none" stroke="#f4c4c9" stroke-width="8" stroke-linecap="round" stroke-linejoin="round"/>
<path d="M269.5,647.1 Q275.3,639.8 281.1,644.5 Q286.9,639.5 292.7,646.5 Q298.5,642.0 304.3,649.6" fill="none" stroke="#e29ca5" stroke-width="11" stroke-linecap="round" stroke-linejoin="round"/>
<path d="M269.5,647.1 Q275.3,639.8 281.1,644.5 Q286.9,639.5 292.7,646.5 Q298.5,642.0 304.3,649.6" fill="none" stroke="#f4c4c9" stroke-width="8" stroke-linecap="round" stroke-linejoin="round"/>
<path d="M203,650 L222,684 L237,684 L233,660 Z" fill="#e8a9b0" stroke="#dc939c" stroke-width="1"/>
<path d="M222,648 C235,640 262,637 279,640 C287,645 287,657 279,662 C268,667 245,666 232,664 C225,661 220,655 222,648 Z" fill="#e6a0a8" stroke="#d98f99" stroke-width="1"/>
<path d="M226.0,644.0 C245,642.0 265,642.0 283.0,645.0" fill="none" stroke="#d88893" stroke-width="1"/>
<path d="M227.5,648.2 C245,646.2 265,646.2 281.5,649.2" fill="none" stroke="#d88893" stroke-width="1"/>
<path d="M229.0,652.4 C245,650.4 265,650.4 280.0,653.4" fill="none" stroke="#d88893" stroke-width="1"/>
<path d="M230.5,656.6 C245,654.6 265,654.6 278.5,657.6" fill="none" stroke="#d88893" stroke-width="1"/>
<path d="M232.0,660.8 C245,658.8 265,658.8 277.0,661.8" fill="none" stroke="#d88893" stroke-width="1"/>
</g>
<path d="M76,596 C74,582 82,574 91,571 C100,562 118,554 134,552 C150,547 165,546 177,546.5 C195,545 210,546 220,547.5 C235,548 245,551 252,555 C265,560 275,566 280,571 C292,582 302,595 305,610 C306,620 303,627 299,630 C294,634 288,635 284,636 C285,641 282,645 279,647 C276,655 270,660 262,661.5 C250,664 235,663.5 233,663.5 L237.5,683 L221,683 L203,655 C195,652 188,651 177,650.7 C160,647 140,642 126,638 C120,634 119,630 119,627 C108,625 98,622 91,620.7 C83,616 78,612 76,596 Z" fill="none" stroke="#e29aa3" stroke-width="1.4"/>
<path d="M122,627 C130,618 138,612 150,607 C160,603 180,600 198,599.3 C210,599 218,601 224,601.4 C235,601 242,599 248,597" fill="none" stroke="#b51e2c" stroke-width="1.8" stroke-linecap="round"/>
<path d="M150,607 C150,590 148,575 147,560" fill="none" stroke="#b51e2c" stroke-width="1.8" stroke-linecap="round"/>
<path d="M160,603 C163,590 166,580 168,575 C172,568 175,560 177,554" fill="none" stroke="#b51e2c" stroke-width="1.8" stroke-linecap="round"/>
<path d="M164,600 C172,585 182,572 190,567 C200,563 210,562 218,562.8" fill="none" stroke="#b51e2c" stroke-width="1.8" stroke-linecap="round"/>
<path d="M190,567 C195,558 200,552 205,549" fill="none" stroke="#b51e2c" stroke-width="1.8" stroke-linecap="round"/>
<path d="M135,615 C128,620 124,630 125,640" fill="none" stroke="#b51e2c" stroke-width="1.8" stroke-linecap="round"/>
<path d="M140,612 C142,625 143,640 145,650" fill="none" stroke="#b51e2c" stroke-width="1.8" stroke-linecap="round"/>
<path d="M198,599 C196,610 197,618 200,625" fill="none" stroke="#b51e2c" stroke-width="1.8" stroke-linecap="round"/>
<path d="M224,601 C222,612 220,620 222,632" fill="none" stroke="#b51e2c" stroke-width="1.8" stroke-linecap="round"/>
<path d="M224,601 C226,594 230,590 236,588" fill="none" stroke="#b51e2c" stroke-width="1.8" stroke-linecap="round"/>
<path d="M248,597 C258,594 266,590 272,592" fill="none" stroke="#b51e2c" stroke-width="1.8" stroke-linecap="round"/>
<path d="M272,592 C285,590 292,595 298,600" fill="none" stroke="#b51e2c" stroke-width="1.8" stroke-linecap="round"/>
<path d="M255,640 C260,632 265,628 270,626" fill="none" stroke="#b51e2c" stroke-width="1.8" stroke-linecap="round"/>
<path d="M285,575 C290,580 294,584 298,590" fill="none" stroke="#b51e2c" stroke-width="1.8" stroke-linecap="round"/>
<path d="M96,575 L104,580 L98,590" fill="none" stroke="#b51e2c" stroke-width="1.8" stroke-linecap="round"/>
<path d="M112,560 L118,568 L124,563" fill="none" stroke="#b51e2c" stroke-width="1.8" stroke-linecap="round"/>
<path d="M135,553 L140,562" fill="none" stroke="#b51e2c" stroke-width="1.8" stroke-linecap="round"/>
<path d="M250,555 L246,566" fill="none" stroke="#b51e2c" stroke-width="1.8" stroke-linecap="round"/>
<path d="M180,650 C195,652 205,660 215,672 C220,678 222,682 224,684" fill="none" stroke="#b51e2c" stroke-width="1.8" stroke-linecap="round"/>
<path d="M290,615 L298,625" fill="none" stroke="#b51e2c" stroke-width="1.8" stroke-linecap="round"/>
<path d="M84,598 C90,600 96,606 98,612" fill="none" stroke="#b51e2c" stroke-width="1.8" stroke-linecap="round"/>
<path d="M200,583 C210,585 218,582 224,578" fill="none" stroke="#b51e2c" stroke-width="1.8" stroke-linecap="round"/>
<rect x="200" y="587" width="35" height="25.5" fill="none" stroke="#111" stroke-width="1.8"/>
<text x="24" y="494" font-size="15" font-weight="bold" fill="#111" text-anchor="start" textLength="150.7" lengthAdjust="spacingAndGlyphs" >Haematogenous</text>
<text x="101.8" y="512.5" font-size="15" font-weight="bold" fill="#111" text-anchor="middle" textLength="46.5" lengthAdjust="spacingAndGlyphs" >route</text>
<rect x="191.8" y="472.5" width="4.5" height="5.5" fill="#111"/>
<rect x="191.8" y="483.5" width="4.5" height="5.5" fill="#111"/>
<rect x="191.8" y="494.5" width="4.5" height="5.5" fill="#111"/>
<rect x="191.8" y="505.5" width="4.5" height="5.5" fill="#111"/>
<polygon points="184.6,516.7 203.8,516.7 194.2,530" fill="#111"/>
<text x="190" y="707.8" font-size="19" font-weight="normal" fill="#1a1a1a" text-anchor="middle" textLength="196" lengthAdjust="spacingAndGlyphs"  stroke="#1a1a1a" stroke-width="0.7">Neuroinvasion by</text>
<text x="187.4" y="731" font-size="19" font-weight="normal" fill="#1a1a1a" text-anchor="middle" textLength="139.2" lengthAdjust="spacingAndGlyphs"  stroke="#1a1a1a" stroke-width="0.7">SARS-CoV-2</text>
</svg></body></html>
